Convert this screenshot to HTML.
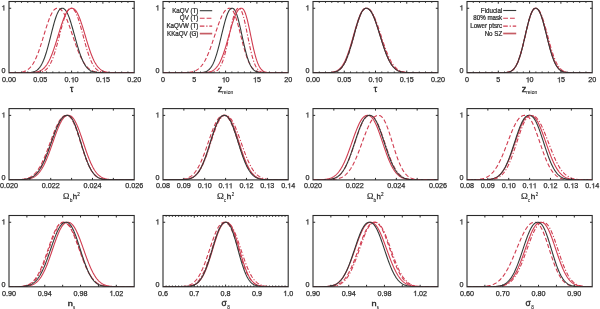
<!DOCTYPE html>
<html><head><meta charset="utf-8"><style>
html,body{margin:0;padding:0;background:#fff;}
svg{display:block;}
.t{filter:grayscale(1);}
text{font-family:"Liberation Sans",sans-serif;fill:#2b2b2b;stroke:#2b2b2b;stroke-width:0.25px;}
</style></head><body>
<svg xmlns="http://www.w3.org/2000/svg" width="600" height="309" viewBox="0 0 600 309">
<rect width="600" height="309" fill="#fff"/>
<clipPath id="c00"><rect x="9" y="1.5" width="125.2" height="71.3"/></clipPath>
<g clip-path="url(#c00)" fill="none" stroke-linejoin="round">
<path d="M9,72.79 L9.5,72.79 L10,72.79 L10.5,72.78 L11,72.78 L11.5,72.78 L12,72.77 L12.51,72.76 L13.01,72.76 L13.51,72.75 L14.01,72.74 L14.51,72.73 L15.01,72.71 L15.51,72.7 L16.01,72.68 L16.51,72.66 L17.01,72.63 L17.51,72.6 L18.01,72.57 L18.52,72.53 L19.02,72.48 L19.52,72.43 L20.02,72.37 L20.52,72.31 L21.02,72.23 L21.52,72.14 L22.02,72.04 L22.52,71.93 L23.02,71.81 L23.52,71.67 L24.02,71.51 L24.52,71.33 L25.03,71.14 L25.53,70.92 L26.03,70.68 L26.53,70.41 L27.03,70.12 L27.53,69.8 L28.03,69.44 L28.53,69.05 L29.03,68.63 L29.53,68.17 L30.03,67.67 L30.53,67.13 L31.04,66.54 L31.54,65.91 L32.04,65.23 L32.54,64.51 L33.04,63.73 L33.54,62.9 L34.04,62.02 L34.54,61.09 L35.04,60.11 L35.54,59.07 L36.04,57.97 L36.54,56.83 L37.04,55.63 L37.55,54.38 L38.05,53.08 L38.55,51.73 L39.05,50.34 L39.55,48.9 L40.05,47.43 L40.55,45.91 L41.05,44.37 L41.55,42.79 L42.05,41.19 L42.55,39.58 L43.05,37.95 L43.56,36.3 L44.06,34.66 L44.56,33.02 L45.06,31.39 L45.56,29.77 L46.06,28.17 L46.56,26.6 L47.06,25.07 L47.56,23.57 L48.06,22.11 L48.56,20.71 L49.06,19.37 L49.56,18.08 L50.07,16.86 L50.57,15.71 L51.07,14.64 L51.57,13.65 L52.07,12.73 L52.57,11.9 L53.07,11.16 L53.57,10.5 L54.07,9.93 L54.57,9.45 L55.07,9.06 L55.57,8.75 L56.08,8.52 L56.58,8.37 L57.08,8.29 L57.58,8.28 L58.08,8.3 L58.58,8.38 L59.08,8.52 L59.58,8.72 L60.08,9 L60.58,9.34 L61.08,9.75 L61.58,10.23 L62.08,10.79 L62.59,11.41 L63.09,12.11 L63.59,12.88 L64.09,13.72 L64.59,14.62 L65.09,15.59 L65.59,16.62 L66.09,17.71 L66.59,18.85 L67.09,20.05 L67.59,21.29 L68.09,22.58 L68.6,23.91 L69.1,25.28 L69.6,26.67 L70.1,28.09 L70.6,29.54 L71.1,31 L71.6,32.48 L72.1,33.96 L72.6,35.45 L73.1,36.94 L73.6,38.43 L74.1,39.9 L74.6,41.37 L75.11,42.81 L75.61,44.24 L76.11,45.64 L76.61,47.02 L77.11,48.37 L77.61,49.69 L78.11,50.97 L78.61,52.22 L79.11,53.42 L79.61,54.59 L80.11,55.72 L80.61,56.8 L81.12,57.85 L81.62,58.84 L82.12,59.8 L82.62,60.71 L83.12,61.58 L83.62,62.4 L84.12,63.18 L84.62,63.91 L85.12,64.61 L85.62,65.26 L86.12,65.88 L86.62,66.45 L87.12,66.99 L87.63,67.49 L88.13,67.96 L88.63,68.4 L89.13,68.8 L89.63,69.17 L90.13,69.52 L90.63,69.83 L91.13,70.12 L91.63,70.39 L92.13,70.64 L92.63,70.86 L93.13,71.06 L93.64,71.25 L94.14,71.42 L94.64,71.57 L95.14,71.71 L95.64,71.83 L96.14,71.94 L96.64,72.04 L97.14,72.13 L97.64,72.21 L98.14,72.28 L98.64,72.35 L99.14,72.4 L99.64,72.45 L100.15,72.5 L100.65,72.54 L101.15,72.57 L101.65,72.6 L102.15,72.63 L102.65,72.65 L103.15,72.67 L103.65,72.69 L104.15,72.71 L104.65,72.72 L105.15,72.73 L105.65,72.74 L106.16,72.75 L106.66,72.76 L107.16,72.76 L107.66,72.77 L108.16,72.77 L108.66,72.78 L109.16,72.78 L109.66,72.78 L110.16,72.79 L110.66,72.79 L111.16,72.79 L111.66,72.79 L112.16,72.79 L112.67,72.79 L113.17,72.8 L113.67,72.8 L114.17,72.8 L114.67,72.8 L115.17,72.8 L115.67,72.8 L116.17,72.8 L116.67,72.8 L117.17,72.8 L117.67,72.8 L118.17,72.8 L118.68,72.8 L119.18,72.8 L119.68,72.8 L120.18,72.8 L120.68,72.8 L121.18,72.8 L121.68,72.8 L122.18,72.8 L122.68,72.8 L123.18,72.8 L123.68,72.8 L124.18,72.8 L124.68,72.8 L125.19,72.8 L125.69,72.8 L126.19,72.8 L126.69,72.8 L127.19,72.8 L127.69,72.8 L128.19,72.8 L128.69,72.8 L129.19,72.8 L129.69,72.8 L130.19,72.8 L130.69,72.8 L131.2,72.8 L131.7,72.8 L132.2,72.8 L132.7,72.8 L133.2,72.8 L133.7,72.8 L134.2,72.8" stroke="#d03c50" stroke-width="1.10" stroke-dasharray="4.2,2.3"/>
<path d="M9,72.8 L9.5,72.8 L10,72.8 L10.5,72.8 L11,72.8 L11.5,72.8 L12,72.8 L12.51,72.8 L13.01,72.8 L13.51,72.8 L14.01,72.8 L14.51,72.8 L15.01,72.8 L15.51,72.8 L16.01,72.8 L16.51,72.8 L17.01,72.8 L17.51,72.8 L18.01,72.8 L18.52,72.8 L19.02,72.8 L19.52,72.8 L20.02,72.8 L20.52,72.8 L21.02,72.79 L21.52,72.79 L22.02,72.79 L22.52,72.79 L23.02,72.79 L23.52,72.78 L24.02,72.78 L24.52,72.77 L25.03,72.76 L25.53,72.76 L26.03,72.74 L26.53,72.73 L27.03,72.72 L27.53,72.7 L28.03,72.67 L28.53,72.64 L29.03,72.61 L29.53,72.57 L30.03,72.52 L30.53,72.47 L31.04,72.4 L31.54,72.32 L32.04,72.23 L32.54,72.12 L33.04,72 L33.54,71.86 L34.04,71.69 L34.54,71.51 L35.04,71.29 L35.54,71.04 L36.04,70.76 L36.54,70.45 L37.04,70.09 L37.55,69.7 L38.05,69.25 L38.55,68.75 L39.05,68.2 L39.55,67.6 L40.05,66.93 L40.55,66.19 L41.05,65.39 L41.55,64.52 L42.05,63.57 L42.55,62.55 L43.05,61.45 L43.56,60.28 L44.06,59.02 L44.56,57.69 L45.06,56.28 L45.56,54.79 L46.06,53.23 L46.56,51.6 L47.06,49.9 L47.56,48.14 L48.06,46.33 L48.56,44.46 L49.06,42.55 L49.56,40.61 L50.07,38.64 L50.57,36.66 L51.07,34.67 L51.57,32.68 L52.07,30.71 L52.57,28.76 L53.07,26.85 L53.57,24.99 L54.07,23.18 L54.57,21.44 L55.07,19.78 L55.57,18.21 L56.08,16.74 L56.58,15.37 L57.08,14.11 L57.58,12.96 L58.08,11.94 L58.58,11.05 L59.08,10.28 L59.58,9.64 L60.08,9.13 L60.58,8.74 L61.08,8.48 L61.58,8.33 L62.08,8.28 L62.59,8.3 L63.09,8.39 L63.59,8.57 L64.09,8.86 L64.59,9.24 L65.09,9.73 L65.59,10.33 L66.09,11.03 L66.59,11.84 L67.09,12.76 L67.59,13.77 L68.09,14.89 L68.6,16.1 L69.1,17.4 L69.6,18.79 L70.1,20.25 L70.6,21.79 L71.1,23.38 L71.6,25.04 L72.1,26.74 L72.6,28.48 L73.1,30.25 L73.6,32.05 L74.1,33.86 L74.6,35.68 L75.11,37.49 L75.61,39.3 L76.11,41.09 L76.61,42.86 L77.11,44.6 L77.61,46.3 L78.11,47.96 L78.61,49.58 L79.11,51.14 L79.61,52.65 L80.11,54.1 L80.61,55.5 L81.12,56.82 L81.62,58.09 L82.12,59.29 L82.62,60.42 L83.12,61.49 L83.62,62.49 L84.12,63.43 L84.62,64.31 L85.12,65.12 L85.62,65.88 L86.12,66.58 L86.62,67.22 L87.12,67.81 L87.63,68.35 L88.13,68.84 L88.63,69.29 L89.13,69.69 L89.63,70.06 L90.13,70.39 L90.63,70.68 L91.13,70.95 L91.63,71.18 L92.13,71.39 L92.63,71.58 L93.13,71.75 L93.64,71.89 L94.14,72.02 L94.64,72.13 L95.14,72.23 L95.64,72.31 L96.14,72.38 L96.64,72.45 L97.14,72.5 L97.64,72.55 L98.14,72.59 L98.64,72.62 L99.14,72.65 L99.64,72.68 L100.15,72.7 L100.65,72.72 L101.15,72.73 L101.65,72.74 L102.15,72.75 L102.65,72.76 L103.15,72.77 L103.65,72.77 L104.15,72.78 L104.65,72.78 L105.15,72.79 L105.65,72.79 L106.16,72.79 L106.66,72.79 L107.16,72.79 L107.66,72.8 L108.16,72.8 L108.66,72.8 L109.16,72.8 L109.66,72.8 L110.16,72.8 L110.66,72.8 L111.16,72.8 L111.66,72.8 L112.16,72.8 L112.67,72.8 L113.17,72.8 L113.67,72.8 L114.17,72.8 L114.67,72.8 L115.17,72.8 L115.67,72.8 L116.17,72.8 L116.67,72.8 L117.17,72.8 L117.67,72.8 L118.17,72.8 L118.68,72.8 L119.18,72.8 L119.68,72.8 L120.18,72.8 L120.68,72.8 L121.18,72.8 L121.68,72.8 L122.18,72.8 L122.68,72.8 L123.18,72.8 L123.68,72.8 L124.18,72.8 L124.68,72.8 L125.19,72.8 L125.69,72.8 L126.19,72.8 L126.69,72.8 L127.19,72.8 L127.69,72.8 L128.19,72.8 L128.69,72.8 L129.19,72.8 L129.69,72.8 L130.19,72.8 L130.69,72.8 L131.2,72.8 L131.7,72.8 L132.2,72.8 L132.7,72.8 L133.2,72.8 L133.7,72.8 L134.2,72.8" stroke="#353a38" stroke-width="1.10"/>
<path d="M9,72.8 L9.5,72.8 L10,72.8 L10.5,72.8 L11,72.8 L11.5,72.8 L12,72.8 L12.51,72.8 L13.01,72.8 L13.51,72.8 L14.01,72.8 L14.51,72.8 L15.01,72.8 L15.51,72.8 L16.01,72.8 L16.51,72.8 L17.01,72.8 L17.51,72.8 L18.01,72.8 L18.52,72.8 L19.02,72.8 L19.52,72.8 L20.02,72.8 L20.52,72.8 L21.02,72.8 L21.52,72.8 L22.02,72.8 L22.52,72.8 L23.02,72.8 L23.52,72.8 L24.02,72.8 L24.52,72.8 L25.03,72.8 L25.53,72.8 L26.03,72.8 L26.53,72.8 L27.03,72.8 L27.53,72.8 L28.03,72.8 L28.53,72.8 L29.03,72.79 L29.53,72.79 L30.03,72.79 L30.53,72.79 L31.04,72.78 L31.54,72.78 L32.04,72.78 L32.54,72.77 L33.04,72.76 L33.54,72.75 L34.04,72.74 L34.54,72.73 L35.04,72.71 L35.54,72.69 L36.04,72.67 L36.54,72.64 L37.04,72.61 L37.55,72.57 L38.05,72.53 L38.55,72.47 L39.05,72.41 L39.55,72.34 L40.05,72.25 L40.55,72.15 L41.05,72.03 L41.55,71.9 L42.05,71.74 L42.55,71.57 L43.05,71.37 L43.56,71.14 L44.06,70.88 L44.56,70.59 L45.06,70.26 L45.56,69.89 L46.06,69.48 L46.56,69.02 L47.06,68.52 L47.56,67.96 L48.06,67.34 L48.56,66.67 L49.06,65.93 L49.56,65.13 L50.07,64.26 L50.57,63.32 L51.07,62.31 L51.57,61.23 L52.07,60.07 L52.57,58.83 L53.07,57.53 L53.57,56.15 L54.07,54.69 L54.57,53.17 L55.07,51.58 L55.57,49.93 L56.08,48.22 L56.58,46.46 L57.08,44.64 L57.58,42.79 L58.08,40.91 L58.58,38.99 L59.08,37.07 L59.58,35.13 L60.08,33.19 L60.58,31.27 L61.08,29.37 L61.58,27.5 L62.08,25.66 L62.59,23.88 L63.09,22.17 L63.59,20.52 L64.09,18.95 L64.59,17.46 L65.09,16.08 L65.59,14.79 L66.09,13.61 L66.59,12.55 L67.09,11.6 L67.59,10.77 L68.09,10.07 L68.6,9.48 L69.1,9.02 L69.6,8.67 L70.1,8.44 L70.6,8.31 L71.1,8.28 L71.6,8.31 L72.1,8.42 L72.6,8.64 L73.1,8.96 L73.6,9.39 L74.1,9.94 L74.6,10.6 L75.11,11.37 L75.61,12.27 L76.11,13.27 L76.61,14.38 L77.11,15.59 L77.61,16.91 L78.11,18.31 L78.61,19.8 L79.11,21.37 L79.61,23.01 L80.11,24.72 L80.61,26.47 L81.12,28.27 L81.62,30.11 L82.12,31.97 L82.62,33.84 L83.12,35.73 L83.62,37.61 L84.12,39.48 L84.62,41.34 L85.12,43.17 L85.62,44.96 L86.12,46.72 L86.62,48.43 L87.12,50.09 L87.63,51.69 L88.13,53.23 L88.63,54.71 L89.13,56.12 L89.63,57.47 L90.13,58.75 L90.63,59.95 L91.13,61.09 L91.63,62.15 L92.13,63.15 L92.63,64.07 L93.13,64.93 L93.64,65.73 L94.14,66.46 L94.64,67.14 L95.14,67.76 L95.64,68.32 L96.14,68.83 L96.64,69.29 L97.14,69.71 L97.64,70.09 L98.14,70.43 L98.64,70.73 L99.14,71 L99.64,71.24 L100.15,71.45 L100.65,71.63 L101.15,71.8 L101.65,71.94 L102.15,72.07 L102.65,72.18 L103.15,72.27 L103.65,72.35 L104.15,72.42 L104.65,72.48 L105.15,72.53 L105.65,72.58 L106.16,72.61 L106.66,72.65 L107.16,72.67 L107.66,72.69 L108.16,72.71 L108.66,72.73 L109.16,72.74 L109.66,72.75 L110.16,72.76 L110.66,72.77 L111.16,72.77 L111.66,72.78 L112.16,72.78 L112.67,72.79 L113.17,72.79 L113.67,72.79 L114.17,72.79 L114.67,72.79 L115.17,72.8 L115.67,72.8 L116.17,72.8 L116.67,72.8 L117.17,72.8 L117.67,72.8 L118.17,72.8 L118.68,72.8 L119.18,72.8 L119.68,72.8 L120.18,72.8 L120.68,72.8 L121.18,72.8 L121.68,72.8 L122.18,72.8 L122.68,72.8 L123.18,72.8 L123.68,72.8 L124.18,72.8 L124.68,72.8 L125.19,72.8 L125.69,72.8 L126.19,72.8 L126.69,72.8 L127.19,72.8 L127.69,72.8 L128.19,72.8 L128.69,72.8 L129.19,72.8 L129.69,72.8 L130.19,72.8 L130.69,72.8 L131.2,72.8 L131.7,72.8 L132.2,72.8 L132.7,72.8 L133.2,72.8 L133.7,72.8 L134.2,72.8" stroke="#d03c50" stroke-width="1.10" stroke-dasharray="4.2,1.8,1.2,1.8"/>
<path d="M9,72.8 L9.5,72.8 L10,72.8 L10.5,72.8 L11,72.8 L11.5,72.8 L12,72.8 L12.51,72.8 L13.01,72.8 L13.51,72.8 L14.01,72.8 L14.51,72.8 L15.01,72.8 L15.51,72.8 L16.01,72.8 L16.51,72.8 L17.01,72.8 L17.51,72.8 L18.01,72.8 L18.52,72.8 L19.02,72.8 L19.52,72.8 L20.02,72.8 L20.52,72.8 L21.02,72.8 L21.52,72.8 L22.02,72.79 L22.52,72.79 L23.02,72.79 L23.52,72.79 L24.02,72.79 L24.52,72.79 L25.03,72.78 L25.53,72.78 L26.03,72.77 L26.53,72.77 L27.03,72.76 L27.53,72.75 L28.03,72.75 L28.53,72.73 L29.03,72.72 L29.53,72.71 L30.03,72.69 L30.53,72.67 L31.04,72.65 L31.54,72.62 L32.04,72.59 L32.54,72.55 L33.04,72.51 L33.54,72.47 L34.04,72.41 L34.54,72.35 L35.04,72.28 L35.54,72.2 L36.04,72.11 L36.54,72.01 L37.04,71.89 L37.55,71.76 L38.05,71.62 L38.55,71.45 L39.05,71.27 L39.55,71.07 L40.05,70.84 L40.55,70.59 L41.05,70.32 L41.55,70.01 L42.05,69.68 L42.55,69.31 L43.05,68.91 L43.56,68.48 L44.06,68 L44.56,67.49 L45.06,66.93 L45.56,66.33 L46.06,65.68 L46.56,64.99 L47.06,64.24 L47.56,63.45 L48.06,62.6 L48.56,61.71 L49.06,60.76 L49.56,59.75 L50.07,58.69 L50.57,57.58 L51.07,56.42 L51.57,55.2 L52.07,53.94 L52.57,52.62 L53.07,51.26 L53.57,49.85 L54.07,48.4 L54.57,46.91 L55.07,45.38 L55.57,43.83 L56.08,42.24 L56.58,40.64 L57.08,39.01 L57.58,37.38 L58.08,35.74 L58.58,34.09 L59.08,32.45 L59.58,30.83 L60.08,29.21 L60.58,27.63 L61.08,26.07 L61.58,24.54 L62.08,23.06 L62.59,21.62 L63.09,20.24 L63.59,18.91 L64.09,17.65 L64.59,16.46 L65.09,15.34 L65.59,14.29 L66.09,13.32 L66.59,12.44 L67.09,11.64 L67.59,10.92 L68.09,10.29 L68.6,9.76 L69.1,9.3 L69.6,8.94 L70.1,8.66 L70.6,8.46 L71.1,8.33 L71.6,8.28 L72.1,8.28 L72.6,8.34 L73.1,8.47 L73.6,8.68 L74.1,8.98 L74.6,9.36 L75.11,9.84 L75.61,10.41 L76.11,11.08 L76.61,11.83 L77.11,12.68 L77.61,13.61 L78.11,14.63 L78.61,15.73 L79.11,16.91 L79.61,18.17 L80.11,19.49 L80.61,20.88 L81.12,22.33 L81.62,23.82 L82.12,25.37 L82.62,26.96 L83.12,28.57 L83.62,30.22 L84.12,31.89 L84.62,33.57 L85.12,35.25 L85.62,36.94 L86.12,38.62 L86.62,40.29 L87.12,41.94 L87.63,43.57 L88.13,45.17 L88.63,46.74 L89.13,48.28 L89.63,49.77 L90.13,51.21 L90.63,52.62 L91.13,53.97 L91.63,55.27 L92.13,56.51 L92.63,57.7 L93.13,58.84 L93.64,59.91 L94.14,60.94 L94.64,61.9 L95.14,62.81 L95.64,63.66 L96.14,64.46 L96.64,65.21 L97.14,65.91 L97.64,66.56 L98.14,67.16 L98.64,67.71 L99.14,68.22 L99.64,68.69 L100.15,69.12 L100.65,69.51 L101.15,69.87 L101.65,70.19 L102.15,70.49 L102.65,70.75 L103.15,70.99 L103.65,71.21 L104.15,71.4 L104.65,71.57 L105.15,71.73 L105.65,71.87 L106.16,71.99 L106.66,72.09 L107.16,72.19 L107.66,72.27 L108.16,72.35 L108.66,72.41 L109.16,72.47 L109.66,72.51 L110.16,72.56 L110.66,72.59 L111.16,72.62 L111.66,72.65 L112.16,72.67 L112.67,72.69 L113.17,72.71 L113.67,72.73 L114.17,72.74 L114.67,72.75 L115.17,72.76 L115.67,72.76 L116.17,72.77 L116.67,72.78 L117.17,72.78 L117.67,72.78 L118.17,72.79 L118.68,72.79 L119.18,72.79 L119.68,72.79 L120.18,72.79 L120.68,72.8 L121.18,72.8 L121.68,72.8 L122.18,72.8 L122.68,72.8 L123.18,72.8 L123.68,72.8 L124.18,72.8 L124.68,72.8 L125.19,72.8 L125.69,72.8 L126.19,72.8 L126.69,72.8 L127.19,72.8 L127.69,72.8 L128.19,72.8 L128.69,72.8 L129.19,72.8 L129.69,72.8 L130.19,72.8 L130.69,72.8 L131.2,72.8 L131.7,72.8 L132.2,72.8 L132.7,72.8 L133.2,72.8 L133.7,72.8 L134.2,72.8" stroke="#d03c50" stroke-width="1.10"/>
</g>
<path d="M15.26,72.8v-1.3 M15.26,1.5v1.3 M21.52,72.8v-1.3 M21.52,1.5v1.3 M27.78,72.8v-1.3 M27.78,1.5v1.3 M34.04,72.8v-1.3 M34.04,1.5v1.3 M40.3,72.8v-2.2 M40.3,1.5v2.2 M46.56,72.8v-1.3 M46.56,1.5v1.3 M52.82,72.8v-1.3 M52.82,1.5v1.3 M59.08,72.8v-1.3 M59.08,1.5v1.3 M65.34,72.8v-1.3 M65.34,1.5v1.3 M71.6,72.8v-2.2 M71.6,1.5v2.2 M77.86,72.8v-1.3 M77.86,1.5v1.3 M84.12,72.8v-1.3 M84.12,1.5v1.3 M90.38,72.8v-1.3 M90.38,1.5v1.3 M96.64,72.8v-1.3 M96.64,1.5v1.3 M102.9,72.8v-2.2 M102.9,1.5v2.2 M109.16,72.8v-1.3 M109.16,1.5v1.3 M115.42,72.8v-1.3 M115.42,1.5v1.3 M121.68,72.8v-1.3 M121.68,1.5v1.3 M127.94,72.8v-1.3 M127.94,1.5v1.3 M9,8.28h2.2 M134.2,8.28h-2.2" stroke="#2a2a2a" stroke-width="1" fill="none"/>
<rect x="9" y="1.5" width="125.2" height="71.3" fill="none" stroke="#2a2a2a" stroke-width="1.1"/>
<clipPath id="c01"><rect x="163" y="1.5" width="125.2" height="71.3"/></clipPath>
<g clip-path="url(#c01)" fill="none" stroke-linejoin="round">
<path d="M163,72.8 L163.5,72.8 L164,72.8 L164.5,72.8 L165,72.8 L165.5,72.8 L166,72.8 L166.51,72.8 L167.01,72.8 L167.51,72.8 L168.01,72.8 L168.51,72.8 L169.01,72.8 L169.51,72.8 L170.01,72.8 L170.51,72.8 L171.01,72.8 L171.51,72.8 L172.01,72.8 L172.52,72.8 L173.02,72.8 L173.52,72.8 L174.02,72.8 L174.52,72.8 L175.02,72.8 L175.52,72.79 L176.02,72.79 L176.52,72.79 L177.02,72.79 L177.52,72.79 L178.02,72.79 L178.52,72.78 L179.03,72.78 L179.53,72.78 L180.03,72.77 L180.53,72.77 L181.03,72.76 L181.53,72.76 L182.03,72.75 L182.53,72.74 L183.03,72.73 L183.53,72.71 L184.03,72.7 L184.53,72.68 L185.04,72.66 L185.54,72.64 L186.04,72.62 L186.54,72.59 L187.04,72.55 L187.54,72.52 L188.04,72.47 L188.54,72.42 L189.04,72.37 L189.54,72.3 L190.04,72.23 L190.54,72.15 L191.04,72.07 L191.55,71.97 L192.05,71.85 L192.55,71.73 L193.05,71.59 L193.55,71.44 L194.05,71.27 L194.55,71.08 L195.05,70.88 L195.55,70.65 L196.05,70.4 L196.55,70.13 L197.05,69.83 L197.56,69.51 L198.06,69.16 L198.56,68.77 L199.06,68.36 L199.56,67.91 L200.06,67.43 L200.56,66.91 L201.06,66.36 L201.56,65.76 L202.06,65.13 L202.56,64.45 L203.06,63.73 L203.56,62.97 L204.07,62.16 L204.57,61.31 L205.07,60.41 L205.57,59.46 L206.07,58.47 L206.57,57.44 L207.07,56.35 L207.57,55.23 L208.07,54.06 L208.57,52.84 L209.07,51.59 L209.57,50.3 L210.08,48.97 L210.58,47.61 L211.08,46.21 L211.58,44.79 L212.08,43.34 L212.58,41.87 L213.08,40.38 L213.58,38.88 L214.08,37.36 L214.58,35.84 L215.08,34.32 L215.58,32.8 L216.08,31.29 L216.59,29.8 L217.09,28.32 L217.59,26.86 L218.09,25.43 L218.59,24.04 L219.09,22.68 L219.59,21.36 L220.09,20.09 L220.59,18.86 L221.09,17.7 L221.59,16.59 L222.09,15.54 L222.6,14.55 L223.1,13.64 L223.6,12.79 L224.1,12.01 L224.6,11.31 L225.1,10.68 L225.6,10.13 L226.1,9.65 L226.6,9.25 L227.1,8.92 L227.6,8.66 L228.1,8.47 L228.6,8.35 L229.11,8.29 L229.61,8.28 L230.11,8.33 L230.61,8.49 L231.11,8.76 L231.61,9.16 L232.11,9.68 L232.61,10.33 L233.11,11.11 L233.61,12.02 L234.11,13.06 L234.61,14.21 L235.12,15.49 L235.62,16.88 L236.12,18.37 L236.62,19.96 L237.12,21.64 L237.62,23.39 L238.12,25.21 L238.62,27.09 L239.12,29.02 L239.62,30.98 L240.12,32.96 L240.62,34.96 L241.12,36.96 L241.63,38.95 L242.13,40.92 L242.63,42.87 L243.13,44.78 L243.63,46.64 L244.13,48.46 L244.63,50.22 L245.13,51.91 L245.63,53.54 L246.13,55.09 L246.63,56.57 L247.13,57.97 L247.64,59.29 L248.14,60.54 L248.64,61.7 L249.14,62.79 L249.64,63.79 L250.14,64.73 L250.64,65.59 L251.14,66.38 L251.64,67.1 L252.14,67.75 L252.64,68.35 L253.14,68.89 L253.64,69.37 L254.15,69.81 L254.65,70.2 L255.15,70.54 L255.65,70.85 L256.15,71.12 L256.65,71.36 L257.15,71.56 L257.65,71.75 L258.15,71.9 L258.65,72.04 L259.15,72.16 L259.65,72.26 L260.16,72.35 L260.66,72.42 L261.16,72.49 L261.66,72.54 L262.16,72.59 L262.66,72.62 L263.16,72.65 L263.66,72.68 L264.16,72.7 L264.66,72.72 L265.16,72.74 L265.66,72.75 L266.16,72.76 L266.67,72.77 L267.17,72.77 L267.67,72.78 L268.17,72.78 L268.67,72.79 L269.17,72.79 L269.67,72.79 L270.17,72.79 L270.67,72.8 L271.17,72.8 L271.67,72.8 L272.17,72.8 L272.68,72.8 L273.18,72.8 L273.68,72.8 L274.18,72.8 L274.68,72.8 L275.18,72.8 L275.68,72.8 L276.18,72.8 L276.68,72.8 L277.18,72.8 L277.68,72.8 L278.18,72.8 L278.68,72.8 L279.19,72.8 L279.69,72.8 L280.19,72.8 L280.69,72.8 L281.19,72.8 L281.69,72.8 L282.19,72.8 L282.69,72.8 L283.19,72.8 L283.69,72.8 L284.19,72.8 L284.69,72.8 L285.2,72.8 L285.7,72.8 L286.2,72.8 L286.7,72.8 L287.2,72.8 L287.7,72.8 L288.2,72.8" stroke="#d03c50" stroke-width="1.10" stroke-dasharray="4.2,2.3"/>
<path d="M163,72.8 L163.5,72.8 L164,72.8 L164.5,72.8 L165,72.8 L165.5,72.8 L166,72.8 L166.51,72.8 L167.01,72.8 L167.51,72.8 L168.01,72.8 L168.51,72.8 L169.01,72.8 L169.51,72.8 L170.01,72.8 L170.51,72.8 L171.01,72.8 L171.51,72.8 L172.01,72.8 L172.52,72.8 L173.02,72.8 L173.52,72.8 L174.02,72.8 L174.52,72.8 L175.02,72.8 L175.52,72.8 L176.02,72.8 L176.52,72.8 L177.02,72.8 L177.52,72.8 L178.02,72.8 L178.52,72.8 L179.03,72.8 L179.53,72.8 L180.03,72.8 L180.53,72.8 L181.03,72.8 L181.53,72.8 L182.03,72.8 L182.53,72.8 L183.03,72.8 L183.53,72.8 L184.03,72.8 L184.53,72.8 L185.04,72.8 L185.54,72.8 L186.04,72.8 L186.54,72.8 L187.04,72.8 L187.54,72.8 L188.04,72.8 L188.54,72.8 L189.04,72.8 L189.54,72.8 L190.04,72.8 L190.54,72.8 L191.04,72.8 L191.55,72.8 L192.05,72.8 L192.55,72.8 L193.05,72.79 L193.55,72.79 L194.05,72.79 L194.55,72.79 L195.05,72.79 L195.55,72.78 L196.05,72.78 L196.55,72.77 L197.05,72.76 L197.56,72.75 L198.06,72.74 L198.56,72.73 L199.06,72.71 L199.56,72.69 L200.06,72.66 L200.56,72.63 L201.06,72.59 L201.56,72.54 L202.06,72.48 L202.56,72.42 L203.06,72.34 L203.56,72.24 L204.07,72.13 L204.57,72 L205.07,71.85 L205.57,71.68 L206.07,71.47 L206.57,71.24 L207.07,70.97 L207.57,70.67 L208.07,70.32 L208.57,69.93 L209.07,69.49 L209.57,68.99 L210.08,68.44 L210.58,67.82 L211.08,67.14 L211.58,66.38 L212.08,65.55 L212.58,64.64 L213.08,63.66 L213.58,62.58 L214.08,61.43 L214.58,60.18 L215.08,58.85 L215.58,57.43 L216.08,55.93 L216.59,54.34 L217.09,52.67 L217.59,50.92 L218.09,49.1 L218.59,47.22 L219.09,45.27 L219.59,43.28 L220.09,41.24 L220.59,39.18 L221.09,37.09 L221.59,34.99 L222.09,32.89 L222.6,30.81 L223.1,28.76 L223.6,26.75 L224.1,24.78 L224.6,22.89 L225.1,21.07 L225.6,19.35 L226.1,17.72 L226.6,16.2 L227.1,14.8 L227.6,13.53 L228.1,12.39 L228.6,11.39 L229.11,10.53 L229.61,9.81 L230.11,9.24 L230.61,8.8 L231.11,8.51 L231.61,8.34 L232.11,8.28 L232.61,8.31 L233.11,8.47 L233.61,8.77 L234.11,9.24 L234.61,9.88 L235.12,10.68 L235.62,11.66 L236.12,12.81 L236.62,14.12 L237.12,15.59 L237.62,17.2 L238.12,18.95 L238.62,20.82 L239.12,22.8 L239.62,24.87 L240.12,27.02 L240.62,29.24 L241.12,31.5 L241.63,33.78 L242.13,36.08 L242.63,38.37 L243.13,40.64 L243.63,42.88 L244.13,45.07 L244.63,47.2 L245.13,49.26 L245.63,51.25 L246.13,53.14 L246.63,54.94 L247.13,56.64 L247.64,58.24 L248.14,59.73 L248.64,61.12 L249.14,62.41 L249.64,63.59 L250.14,64.68 L250.64,65.66 L251.14,66.56 L251.64,67.36 L252.14,68.08 L252.64,68.73 L253.14,69.3 L253.64,69.8 L254.15,70.24 L254.65,70.63 L255.15,70.97 L255.65,71.26 L256.15,71.51 L256.65,71.73 L257.15,71.91 L257.65,72.06 L258.15,72.19 L258.65,72.3 L259.15,72.4 L259.65,72.47 L260.16,72.54 L260.66,72.59 L261.16,72.63 L261.66,72.67 L262.16,72.69 L262.66,72.72 L263.16,72.73 L263.66,72.75 L264.16,72.76 L264.66,72.77 L265.16,72.78 L265.66,72.78 L266.16,72.79 L266.67,72.79 L267.17,72.79 L267.67,72.79 L268.17,72.8 L268.67,72.8 L269.17,72.8 L269.67,72.8 L270.17,72.8 L270.67,72.8 L271.17,72.8 L271.67,72.8 L272.17,72.8 L272.68,72.8 L273.18,72.8 L273.68,72.8 L274.18,72.8 L274.68,72.8 L275.18,72.8 L275.68,72.8 L276.18,72.8 L276.68,72.8 L277.18,72.8 L277.68,72.8 L278.18,72.8 L278.68,72.8 L279.19,72.8 L279.69,72.8 L280.19,72.8 L280.69,72.8 L281.19,72.8 L281.69,72.8 L282.19,72.8 L282.69,72.8 L283.19,72.8 L283.69,72.8 L284.19,72.8 L284.69,72.8 L285.2,72.8 L285.7,72.8 L286.2,72.8 L286.7,72.8 L287.2,72.8 L287.7,72.8 L288.2,72.8" stroke="#353a38" stroke-width="1.10"/>
<path d="M163,72.8 L163.5,72.8 L164,72.8 L164.5,72.8 L165,72.8 L165.5,72.8 L166,72.8 L166.51,72.8 L167.01,72.8 L167.51,72.8 L168.01,72.8 L168.51,72.8 L169.01,72.8 L169.51,72.8 L170.01,72.8 L170.51,72.8 L171.01,72.8 L171.51,72.8 L172.01,72.8 L172.52,72.8 L173.02,72.8 L173.52,72.8 L174.02,72.8 L174.52,72.8 L175.02,72.8 L175.52,72.8 L176.02,72.8 L176.52,72.8 L177.02,72.8 L177.52,72.8 L178.02,72.8 L178.52,72.8 L179.03,72.8 L179.53,72.8 L180.03,72.8 L180.53,72.8 L181.03,72.8 L181.53,72.8 L182.03,72.8 L182.53,72.8 L183.03,72.8 L183.53,72.8 L184.03,72.8 L184.53,72.8 L185.04,72.8 L185.54,72.8 L186.04,72.8 L186.54,72.8 L187.04,72.8 L187.54,72.8 L188.04,72.8 L188.54,72.8 L189.04,72.8 L189.54,72.8 L190.04,72.8 L190.54,72.8 L191.04,72.8 L191.55,72.8 L192.05,72.8 L192.55,72.8 L193.05,72.8 L193.55,72.8 L194.05,72.8 L194.55,72.8 L195.05,72.8 L195.55,72.8 L196.05,72.8 L196.55,72.8 L197.05,72.8 L197.56,72.8 L198.06,72.8 L198.56,72.8 L199.06,72.8 L199.56,72.8 L200.06,72.8 L200.56,72.8 L201.06,72.8 L201.56,72.8 L202.06,72.8 L202.56,72.8 L203.06,72.8 L203.56,72.8 L204.07,72.79 L204.57,72.79 L205.07,72.79 L205.57,72.79 L206.07,72.78 L206.57,72.78 L207.07,72.77 L207.57,72.76 L208.07,72.75 L208.57,72.74 L209.07,72.72 L209.57,72.7 L210.08,72.67 L210.58,72.64 L211.08,72.59 L211.58,72.54 L212.08,72.47 L212.58,72.4 L213.08,72.3 L213.58,72.19 L214.08,72.05 L214.58,71.89 L215.08,71.69 L215.58,71.46 L216.08,71.2 L216.59,70.88 L217.09,70.52 L217.59,70.1 L218.09,69.62 L218.59,69.08 L219.09,68.46 L219.59,67.76 L220.09,66.97 L220.59,66.09 L221.09,65.12 L221.59,64.04 L222.09,62.86 L222.6,61.57 L223.1,60.17 L223.6,58.65 L224.1,57.03 L224.6,55.29 L225.1,53.45 L225.6,51.51 L226.1,49.48 L226.6,47.35 L227.1,45.16 L227.6,42.89 L228.1,40.58 L228.6,38.23 L229.11,35.86 L229.61,33.49 L230.11,31.13 L230.61,28.81 L231.11,26.53 L231.61,24.33 L232.11,22.21 L232.61,20.2 L233.11,18.31 L233.61,16.55 L234.11,14.95 L234.61,13.5 L235.12,12.23 L235.62,11.13 L236.12,10.22 L236.62,9.48 L237.12,8.93 L237.62,8.55 L238.12,8.34 L238.62,8.28 L239.12,8.32 L239.62,8.53 L240.12,8.92 L240.62,9.51 L241.12,10.3 L241.63,11.3 L242.13,12.51 L242.63,13.91 L243.13,15.5 L243.63,17.27 L244.13,19.2 L244.63,21.27 L245.13,23.47 L245.63,25.78 L246.13,28.18 L246.63,30.63 L247.13,33.13 L247.64,35.65 L248.14,38.17 L248.64,40.66 L249.14,43.11 L249.64,45.51 L250.14,47.83 L250.64,50.06 L251.14,52.19 L251.64,54.21 L252.14,56.12 L252.64,57.9 L253.14,59.56 L253.64,61.09 L254.15,62.5 L254.65,63.79 L255.15,64.95 L255.65,66 L256.15,66.94 L256.65,67.77 L257.15,68.51 L257.65,69.16 L258.15,69.73 L258.65,70.22 L259.15,70.65 L259.65,71.01 L260.16,71.32 L260.66,71.59 L261.16,71.81 L261.66,71.99 L262.16,72.15 L262.66,72.28 L263.16,72.38 L263.66,72.47 L264.16,72.54 L264.66,72.59 L265.16,72.64 L265.66,72.67 L266.16,72.7 L266.67,72.73 L267.17,72.74 L267.67,72.76 L268.17,72.77 L268.67,72.78 L269.17,72.78 L269.67,72.79 L270.17,72.79 L270.67,72.79 L271.17,72.79 L271.67,72.8 L272.17,72.8 L272.68,72.8 L273.18,72.8 L273.68,72.8 L274.18,72.8 L274.68,72.8 L275.18,72.8 L275.68,72.8 L276.18,72.8 L276.68,72.8 L277.18,72.8 L277.68,72.8 L278.18,72.8 L278.68,72.8 L279.19,72.8 L279.69,72.8 L280.19,72.8 L280.69,72.8 L281.19,72.8 L281.69,72.8 L282.19,72.8 L282.69,72.8 L283.19,72.8 L283.69,72.8 L284.19,72.8 L284.69,72.8 L285.2,72.8 L285.7,72.8 L286.2,72.8 L286.7,72.8 L287.2,72.8 L287.7,72.8 L288.2,72.8" stroke="#d03c50" stroke-width="1.10" stroke-dasharray="4.2,1.8,1.2,1.8"/>
<path d="M163,72.8 L163.5,72.8 L164,72.8 L164.5,72.8 L165,72.8 L165.5,72.8 L166,72.8 L166.51,72.8 L167.01,72.8 L167.51,72.8 L168.01,72.8 L168.51,72.8 L169.01,72.8 L169.51,72.8 L170.01,72.8 L170.51,72.8 L171.01,72.8 L171.51,72.8 L172.01,72.8 L172.52,72.8 L173.02,72.8 L173.52,72.8 L174.02,72.8 L174.52,72.8 L175.02,72.8 L175.52,72.8 L176.02,72.8 L176.52,72.8 L177.02,72.8 L177.52,72.8 L178.02,72.8 L178.52,72.8 L179.03,72.8 L179.53,72.8 L180.03,72.8 L180.53,72.8 L181.03,72.8 L181.53,72.8 L182.03,72.8 L182.53,72.8 L183.03,72.8 L183.53,72.8 L184.03,72.8 L184.53,72.8 L185.04,72.8 L185.54,72.8 L186.04,72.8 L186.54,72.8 L187.04,72.8 L187.54,72.8 L188.04,72.8 L188.54,72.8 L189.04,72.8 L189.54,72.8 L190.04,72.8 L190.54,72.8 L191.04,72.8 L191.55,72.8 L192.05,72.8 L192.55,72.8 L193.05,72.8 L193.55,72.8 L194.05,72.8 L194.55,72.8 L195.05,72.8 L195.55,72.8 L196.05,72.79 L196.55,72.79 L197.05,72.79 L197.56,72.79 L198.06,72.79 L198.56,72.78 L199.06,72.78 L199.56,72.77 L200.06,72.77 L200.56,72.76 L201.06,72.75 L201.56,72.74 L202.06,72.73 L202.56,72.71 L203.06,72.69 L203.56,72.67 L204.07,72.65 L204.57,72.62 L205.07,72.58 L205.57,72.54 L206.07,72.5 L206.57,72.44 L207.07,72.38 L207.57,72.31 L208.07,72.22 L208.57,72.13 L209.07,72.02 L209.57,71.89 L210.08,71.75 L210.58,71.59 L211.08,71.4 L211.58,71.2 L212.08,70.97 L212.58,70.71 L213.08,70.42 L213.58,70.1 L214.08,69.74 L214.58,69.35 L215.08,68.91 L215.58,68.43 L216.08,67.91 L216.59,67.34 L217.09,66.72 L217.59,66.04 L218.09,65.31 L218.59,64.52 L219.09,63.67 L219.59,62.77 L220.09,61.8 L220.59,60.76 L221.09,59.66 L221.59,58.5 L222.09,57.28 L222.6,55.99 L223.1,54.64 L223.6,53.23 L224.1,51.77 L224.6,50.25 L225.1,48.68 L225.6,47.06 L226.1,45.4 L226.6,43.7 L227.1,41.97 L227.6,40.21 L228.1,38.44 L228.6,36.65 L229.11,34.86 L229.61,33.07 L230.11,31.29 L230.61,29.53 L231.11,27.79 L231.61,26.09 L232.11,24.43 L232.61,22.82 L233.11,21.26 L233.61,19.77 L234.11,18.35 L234.61,17.01 L235.12,15.75 L235.62,14.59 L236.12,13.51 L236.62,12.53 L237.12,11.65 L237.62,10.87 L238.12,10.2 L238.62,9.63 L239.12,9.17 L239.62,8.81 L240.12,8.54 L240.62,8.37 L241.12,8.29 L241.63,8.28 L242.13,8.37 L242.63,8.63 L243.13,9.06 L243.63,9.67 L244.13,10.48 L244.63,11.49 L245.13,12.68 L245.63,14.06 L246.13,15.61 L246.63,17.33 L247.13,19.2 L247.64,21.2 L248.14,23.33 L248.64,25.55 L249.14,27.86 L249.64,30.23 L250.14,32.64 L250.64,35.07 L251.14,37.51 L251.64,39.93 L252.14,42.32 L252.64,44.65 L253.14,46.93 L253.64,49.12 L254.15,51.23 L254.65,53.23 L255.15,55.13 L255.65,56.92 L256.15,58.6 L256.65,60.15 L257.15,61.59 L257.65,62.92 L258.15,64.12 L258.65,65.22 L259.15,66.21 L259.65,67.1 L260.16,67.89 L260.66,68.59 L261.16,69.21 L261.66,69.76 L262.16,70.23 L262.66,70.64 L263.16,71 L263.66,71.3 L264.16,71.56 L264.66,71.78 L265.16,71.96 L265.66,72.12 L266.16,72.25 L266.67,72.35 L267.17,72.44 L267.67,72.51 L268.17,72.57 L268.67,72.62 L269.17,72.66 L269.67,72.69 L270.17,72.71 L270.67,72.73 L271.17,72.75 L271.67,72.76 L272.17,72.77 L272.68,72.78 L273.18,72.78 L273.68,72.79 L274.18,72.79 L274.68,72.79 L275.18,72.79 L275.68,72.8 L276.18,72.8 L276.68,72.8 L277.18,72.8 L277.68,72.8 L278.18,72.8 L278.68,72.8 L279.19,72.8 L279.69,72.8 L280.19,72.8 L280.69,72.8 L281.19,72.8 L281.69,72.8 L282.19,72.8 L282.69,72.8 L283.19,72.8 L283.69,72.8 L284.19,72.8 L284.69,72.8 L285.2,72.8 L285.7,72.8 L286.2,72.8 L286.7,72.8 L287.2,72.8 L287.7,72.8 L288.2,72.8" stroke="#d03c50" stroke-width="1.10"/>
</g>
<path d="M169.26,72.8v-1.3 M169.26,1.5v1.3 M175.52,72.8v-1.3 M175.52,1.5v1.3 M181.78,72.8v-1.3 M181.78,1.5v1.3 M188.04,72.8v-1.3 M188.04,1.5v1.3 M194.3,72.8v-2.2 M194.3,1.5v2.2 M200.56,72.8v-1.3 M200.56,1.5v1.3 M206.82,72.8v-1.3 M206.82,1.5v1.3 M213.08,72.8v-1.3 M213.08,1.5v1.3 M219.34,72.8v-1.3 M219.34,1.5v1.3 M225.6,72.8v-2.2 M225.6,1.5v2.2 M231.86,72.8v-1.3 M231.86,1.5v1.3 M238.12,72.8v-1.3 M238.12,1.5v1.3 M244.38,72.8v-1.3 M244.38,1.5v1.3 M250.64,72.8v-1.3 M250.64,1.5v1.3 M256.9,72.8v-2.2 M256.9,1.5v2.2 M263.16,72.8v-1.3 M263.16,1.5v1.3 M269.42,72.8v-1.3 M269.42,1.5v1.3 M275.68,72.8v-1.3 M275.68,1.5v1.3 M281.94,72.8v-1.3 M281.94,1.5v1.3 M163,8.28h2.2 M288.2,8.28h-2.2" stroke="#2a2a2a" stroke-width="1" fill="none"/>
<rect x="163" y="1.5" width="125.2" height="71.3" fill="none" stroke="#2a2a2a" stroke-width="1.1"/>
<clipPath id="c02"><rect x="313" y="1.5" width="125" height="71.3"/></clipPath>
<g clip-path="url(#c02)" fill="none" stroke-linejoin="round">
<path d="M313,72.8 L313.5,72.8 L314,72.8 L314.5,72.8 L315,72.8 L315.5,72.8 L316,72.8 L316.5,72.8 L317,72.8 L317.5,72.8 L318,72.8 L318.5,72.8 L319,72.8 L319.5,72.8 L320,72.79 L320.5,72.79 L321,72.79 L321.5,72.79 L322,72.79 L322.5,72.78 L323,72.78 L323.5,72.78 L324,72.77 L324.5,72.76 L325,72.76 L325.5,72.75 L326,72.73 L326.5,72.72 L327,72.71 L327.5,72.69 L328,72.66 L328.5,72.64 L329,72.61 L329.5,72.57 L330,72.53 L330.5,72.48 L331,72.43 L331.5,72.36 L332,72.29 L332.5,72.2 L333,72.1 L333.5,71.99 L334,71.87 L334.5,71.72 L335,71.56 L335.5,71.38 L336,71.17 L336.5,70.94 L337,70.68 L337.5,70.39 L338,70.07 L338.5,69.72 L339,69.33 L339.5,68.9 L340,68.43 L340.5,67.91 L341,67.35 L341.5,66.73 L342,66.07 L342.5,65.35 L343,64.58 L343.5,63.74 L344,62.85 L344.5,61.9 L345,60.89 L345.5,59.82 L346,58.68 L346.5,57.48 L347,56.22 L347.5,54.9 L348,53.53 L348.5,52.09 L349,50.61 L349.5,49.07 L350,47.48 L350.5,45.86 L351,44.19 L351.5,42.5 L352,40.77 L352.5,39.03 L353,37.27 L353.5,35.5 L354,33.73 L354.5,31.97 L355,30.23 L355.5,28.51 L356,26.81 L356.5,25.16 L357,23.54 L357.5,21.98 L358,20.48 L358.5,19.05 L359,17.69 L359.5,16.4 L360,15.2 L360.5,14.09 L361,13.07 L361.5,12.15 L362,11.32 L362.5,10.6 L363,9.97 L363.5,9.45 L364,9.03 L364.5,8.71 L365,8.48 L365.5,8.34 L366,8.28 L366.5,8.28 L367,8.34 L367.5,8.46 L368,8.66 L368.5,8.94 L369,9.3 L369.5,9.74 L370,10.27 L370.5,10.88 L371,11.58 L371.5,12.37 L372,13.23 L372.5,14.18 L373,15.2 L373.5,16.3 L374,17.47 L374.5,18.7 L375,20 L375.5,21.35 L376,22.76 L376.5,24.21 L377,25.71 L377.5,27.24 L378,28.8 L378.5,30.38 L379,31.98 L379.5,33.6 L380,35.22 L380.5,36.84 L381,38.46 L381.5,40.06 L382,41.65 L382.5,43.22 L383,44.77 L383.5,46.29 L384,47.77 L384.5,49.22 L385,50.63 L385.5,51.99 L386,53.31 L386.5,54.59 L387,55.81 L387.5,56.99 L388,58.11 L388.5,59.18 L389,60.2 L389.5,61.17 L390,62.08 L390.5,62.95 L391,63.76 L391.5,64.53 L392,65.24 L392.5,65.91 L393,66.53 L393.5,67.11 L394,67.65 L394.5,68.14 L395,68.6 L395.5,69.02 L396,69.41 L396.5,69.76 L397,70.08 L397.5,70.38 L398,70.64 L398.5,70.88 L399,71.1 L399.5,71.3 L400,71.48 L400.5,71.63 L401,71.78 L401.5,71.9 L402,72.02 L402.5,72.12 L403,72.21 L403.5,72.28 L404,72.35 L404.5,72.41 L405,72.47 L405.5,72.51 L406,72.55 L406.5,72.59 L407,72.62 L407.5,72.65 L408,72.67 L408.5,72.69 L409,72.71 L409.5,72.72 L410,72.73 L410.5,72.74 L411,72.75 L411.5,72.76 L412,72.77 L412.5,72.77 L413,72.78 L413.5,72.78 L414,72.78 L414.5,72.79 L415,72.79 L415.5,72.79 L416,72.79 L416.5,72.79 L417,72.8 L417.5,72.8 L418,72.8 L418.5,72.8 L419,72.8 L419.5,72.8 L420,72.8 L420.5,72.8 L421,72.8 L421.5,72.8 L422,72.8 L422.5,72.8 L423,72.8 L423.5,72.8 L424,72.8 L424.5,72.8 L425,72.8 L425.5,72.8 L426,72.8 L426.5,72.8 L427,72.8 L427.5,72.8 L428,72.8 L428.5,72.8 L429,72.8 L429.5,72.8 L430,72.8 L430.5,72.8 L431,72.8 L431.5,72.8 L432,72.8 L432.5,72.8 L433,72.8 L433.5,72.8 L434,72.8 L434.5,72.8 L435,72.8 L435.5,72.8 L436,72.8 L436.5,72.8 L437,72.8 L437.5,72.8 L438,72.8" stroke="#d03c50" stroke-width="1.10"/>
<path d="M313,72.8 L313.5,72.8 L314,72.8 L314.5,72.8 L315,72.8 L315.5,72.8 L316,72.8 L316.5,72.8 L317,72.8 L317.5,72.8 L318,72.8 L318.5,72.8 L319,72.8 L319.5,72.8 L320,72.8 L320.5,72.8 L321,72.8 L321.5,72.79 L322,72.79 L322.5,72.79 L323,72.79 L323.5,72.78 L324,72.78 L324.5,72.78 L325,72.77 L325.5,72.77 L326,72.76 L326.5,72.75 L327,72.74 L327.5,72.72 L328,72.71 L328.5,72.69 L329,72.67 L329.5,72.64 L330,72.61 L330.5,72.57 L331,72.53 L331.5,72.48 L332,72.42 L332.5,72.35 L333,72.27 L333.5,72.18 L334,72.08 L334.5,71.96 L335,71.83 L335.5,71.68 L336,71.5 L336.5,71.31 L337,71.09 L337.5,70.84 L338,70.56 L338.5,70.26 L339,69.91 L339.5,69.53 L340,69.11 L340.5,68.65 L341,68.14 L341.5,67.58 L342,66.98 L342.5,66.31 L343,65.6 L343.5,64.82 L344,63.99 L344.5,63.09 L345,62.13 L345.5,61.11 L346,60.02 L346.5,58.86 L347,57.65 L347.5,56.36 L348,55.02 L348.5,53.61 L349,52.14 L349.5,50.62 L350,49.04 L350.5,47.41 L351,45.74 L351.5,44.03 L352,42.29 L352.5,40.52 L353,38.73 L353.5,36.92 L354,35.11 L354.5,33.3 L355,31.5 L355.5,29.72 L356,27.96 L356.5,26.23 L357,24.55 L357.5,22.92 L358,21.34 L358.5,19.83 L359,18.4 L359.5,17.04 L360,15.77 L360.5,14.58 L361,13.5 L361.5,12.51 L362,11.62 L362.5,10.84 L363,10.17 L363.5,9.6 L364,9.14 L364.5,8.78 L365,8.52 L365.5,8.36 L366,8.28 L366.5,8.28 L367,8.32 L367.5,8.43 L368,8.62 L368.5,8.88 L369,9.22 L369.5,9.64 L370,10.15 L370.5,10.74 L371,11.41 L371.5,12.17 L372,13.01 L372.5,13.93 L373,14.93 L373.5,16 L374,17.14 L374.5,18.35 L375,19.62 L375.5,20.95 L376,22.33 L376.5,23.76 L377,25.23 L377.5,26.73 L378,28.27 L378.5,29.84 L379,31.42 L379.5,33.02 L380,34.63 L380.5,36.24 L381,37.84 L381.5,39.44 L382,41.03 L382.5,42.6 L383,44.14 L383.5,45.66 L384,47.15 L384.5,48.6 L385,50.01 L385.5,51.39 L386,52.72 L386.5,54 L387,55.24 L387.5,56.43 L388,57.57 L388.5,58.66 L389,59.7 L389.5,60.69 L390,61.62 L390.5,62.51 L391,63.34 L391.5,64.12 L392,64.86 L392.5,65.55 L393,66.19 L393.5,66.79 L394,67.35 L394.5,67.86 L395,68.34 L395.5,68.77 L396,69.18 L396.5,69.55 L397,69.89 L397.5,70.2 L398,70.48 L398.5,70.73 L399,70.96 L399.5,71.17 L400,71.36 L400.5,71.53 L401,71.68 L401.5,71.82 L402,71.94 L402.5,72.05 L403,72.14 L403.5,72.23 L404,72.3 L404.5,72.37 L405,72.43 L405.5,72.48 L406,72.52 L406.5,72.56 L407,72.6 L407.5,72.63 L408,72.65 L408.5,72.67 L409,72.69 L409.5,72.71 L410,72.72 L410.5,72.74 L411,72.75 L411.5,72.75 L412,72.76 L412.5,72.77 L413,72.77 L413.5,72.78 L414,72.78 L414.5,72.78 L415,72.79 L415.5,72.79 L416,72.79 L416.5,72.79 L417,72.79 L417.5,72.8 L418,72.8 L418.5,72.8 L419,72.8 L419.5,72.8 L420,72.8 L420.5,72.8 L421,72.8 L421.5,72.8 L422,72.8 L422.5,72.8 L423,72.8 L423.5,72.8 L424,72.8 L424.5,72.8 L425,72.8 L425.5,72.8 L426,72.8 L426.5,72.8 L427,72.8 L427.5,72.8 L428,72.8 L428.5,72.8 L429,72.8 L429.5,72.8 L430,72.8 L430.5,72.8 L431,72.8 L431.5,72.8 L432,72.8 L432.5,72.8 L433,72.8 L433.5,72.8 L434,72.8 L434.5,72.8 L435,72.8 L435.5,72.8 L436,72.8 L436.5,72.8 L437,72.8 L437.5,72.8 L438,72.8" stroke="#d03c50" stroke-width="1.10" stroke-dasharray="4.2,2.3"/>
<path d="M313,72.8 L313.5,72.8 L314,72.8 L314.5,72.8 L315,72.8 L315.5,72.8 L316,72.8 L316.5,72.8 L317,72.8 L317.5,72.8 L318,72.8 L318.5,72.8 L319,72.8 L319.5,72.8 L320,72.8 L320.5,72.8 L321,72.8 L321.5,72.79 L322,72.79 L322.5,72.79 L323,72.79 L323.5,72.79 L324,72.78 L324.5,72.78 L325,72.78 L325.5,72.77 L326,72.76 L326.5,72.76 L327,72.75 L327.5,72.73 L328,72.72 L328.5,72.7 L329,72.68 L329.5,72.66 L330,72.63 L330.5,72.6 L331,72.56 L331.5,72.52 L332,72.47 L332.5,72.41 L333,72.33 L333.5,72.25 L334,72.16 L334.5,72.05 L335,71.93 L335.5,71.79 L336,71.63 L336.5,71.45 L337,71.25 L337.5,71.01 L338,70.76 L338.5,70.47 L339,70.15 L339.5,69.79 L340,69.39 L340.5,68.95 L341,68.47 L341.5,67.94 L342,67.35 L342.5,66.72 L343,66.03 L343.5,65.28 L344,64.48 L344.5,63.61 L345,62.68 L345.5,61.68 L346,60.62 L346.5,59.49 L347,58.3 L347.5,57.04 L348,55.71 L348.5,54.32 L349,52.87 L349.5,51.36 L350,49.8 L350.5,48.18 L351,46.52 L351.5,44.81 L352,43.07 L352.5,41.3 L353,39.5 L353.5,37.68 L354,35.86 L354.5,34.03 L355,32.21 L355.5,30.4 L356,28.62 L356.5,26.86 L357,25.15 L357.5,23.49 L358,21.88 L358.5,20.33 L359,18.86 L359.5,17.46 L360,16.15 L360.5,14.93 L361,13.8 L361.5,12.78 L362,11.85 L362.5,11.04 L363,10.33 L363.5,9.73 L364,9.24 L364.5,8.85 L365,8.57 L365.5,8.39 L366,8.29 L366.5,8.28 L367,8.31 L367.5,8.39 L368,8.55 L368.5,8.77 L369,9.06 L369.5,9.43 L370,9.88 L370.5,10.4 L371,11 L371.5,11.68 L372,12.43 L372.5,13.26 L373,14.16 L373.5,15.13 L374,16.16 L374.5,17.26 L375,18.43 L375.5,19.64 L376,20.91 L376.5,22.23 L377,23.6 L377.5,25 L378,26.44 L378.5,27.91 L379,29.4 L379.5,30.91 L380,32.44 L380.5,33.97 L381,35.51 L381.5,37.05 L382,38.59 L382.5,40.11 L383,41.62 L383.5,43.11 L384,44.59 L384.5,46.03 L385,47.45 L385.5,48.83 L386,50.18 L386.5,51.49 L387,52.76 L387.5,53.99 L388,55.18 L388.5,56.32 L389,57.42 L389.5,58.47 L390,59.47 L390.5,60.43 L391,61.34 L391.5,62.2 L392,63.02 L392.5,63.79 L393,64.51 L393.5,65.19 L394,65.83 L394.5,66.43 L395,66.99 L395.5,67.51 L396,67.99 L396.5,68.44 L397,68.85 L397.5,69.23 L398,69.58 L398.5,69.9 L399,70.2 L399.5,70.47 L400,70.71 L400.5,70.94 L401,71.14 L401.5,71.32 L402,71.49 L402.5,71.64 L403,71.77 L403.5,71.9 L404,72 L404.5,72.1 L405,72.19 L405.5,72.26 L406,72.33 L406.5,72.39 L407,72.45 L407.5,72.49 L408,72.53 L408.5,72.57 L409,72.6 L409.5,72.63 L410,72.65 L410.5,72.67 L411,72.69 L411.5,72.71 L412,72.72 L412.5,72.73 L413,72.74 L413.5,72.75 L414,72.76 L414.5,72.77 L415,72.77 L415.5,72.78 L416,72.78 L416.5,72.78 L417,72.79 L417.5,72.79 L418,72.79 L418.5,72.79 L419,72.79 L419.5,72.79 L420,72.8 L420.5,72.8 L421,72.8 L421.5,72.8 L422,72.8 L422.5,72.8 L423,72.8 L423.5,72.8 L424,72.8 L424.5,72.8 L425,72.8 L425.5,72.8 L426,72.8 L426.5,72.8 L427,72.8 L427.5,72.8 L428,72.8 L428.5,72.8 L429,72.8 L429.5,72.8 L430,72.8 L430.5,72.8 L431,72.8 L431.5,72.8 L432,72.8 L432.5,72.8 L433,72.8 L433.5,72.8 L434,72.8 L434.5,72.8 L435,72.8 L435.5,72.8 L436,72.8 L436.5,72.8 L437,72.8 L437.5,72.8 L438,72.8" stroke="#d03c50" stroke-width="1.10" stroke-dasharray="4.2,1.8,1.2,1.8"/>
<path d="M313,72.8 L313.5,72.8 L314,72.8 L314.5,72.8 L315,72.8 L315.5,72.8 L316,72.8 L316.5,72.8 L317,72.8 L317.5,72.8 L318,72.8 L318.5,72.8 L319,72.8 L319.5,72.8 L320,72.8 L320.5,72.8 L321,72.8 L321.5,72.79 L322,72.79 L322.5,72.79 L323,72.79 L323.5,72.79 L324,72.78 L324.5,72.78 L325,72.77 L325.5,72.77 L326,72.76 L326.5,72.75 L327,72.74 L327.5,72.73 L328,72.71 L328.5,72.7 L329,72.68 L329.5,72.65 L330,72.62 L330.5,72.59 L331,72.54 L331.5,72.5 L332,72.44 L332.5,72.38 L333,72.3 L333.5,72.22 L334,72.12 L334.5,72 L335,71.87 L335.5,71.73 L336,71.56 L336.5,71.37 L337,71.15 L337.5,70.91 L338,70.64 L338.5,70.34 L339,70 L339.5,69.63 L340,69.22 L340.5,68.76 L341,68.26 L341.5,67.71 L342,67.11 L342.5,66.45 L343,65.74 L343.5,64.97 L344,64.14 L344.5,63.25 L345,62.29 L345.5,61.27 L346,60.18 L346.5,59.03 L347,57.81 L347.5,56.53 L348,55.18 L348.5,53.77 L349,52.29 L349.5,50.76 L350,49.18 L350.5,47.55 L351,45.87 L351.5,44.15 L352,42.39 L352.5,40.61 L353,38.8 L353.5,36.99 L354,35.16 L354.5,33.34 L355,31.52 L355.5,29.72 L356,27.95 L356.5,26.21 L357,24.52 L357.5,22.88 L358,21.29 L358.5,19.77 L359,18.33 L359.5,16.96 L360,15.69 L360.5,14.5 L361,13.41 L361.5,12.43 L362,11.54 L362.5,10.77 L363,10.1 L363.5,9.54 L364,9.09 L364.5,8.74 L365,8.49 L365.5,8.34 L366,8.28 L366.5,8.28 L367,8.34 L367.5,8.46 L368,8.66 L368.5,8.94 L369,9.3 L369.5,9.75 L370,10.28 L370.5,10.9 L371,11.6 L371.5,12.39 L372,13.26 L372.5,14.22 L373,15.24 L373.5,16.35 L374,17.52 L374.5,18.77 L375,20.07 L375.5,21.43 L376,22.85 L376.5,24.31 L377,25.81 L377.5,27.34 L378,28.91 L378.5,30.5 L379,32.11 L379.5,33.73 L380,35.35 L380.5,36.98 L381,38.6 L381.5,40.21 L382,41.8 L382.5,43.38 L383,44.92 L383.5,46.44 L384,47.93 L384.5,49.38 L385,50.78 L385.5,52.15 L386,53.47 L386.5,54.74 L387,55.96 L387.5,57.13 L388,58.25 L388.5,59.32 L389,60.34 L389.5,61.3 L390,62.21 L390.5,63.07 L391,63.88 L391.5,64.64 L392,65.35 L392.5,66.01 L393,66.63 L393.5,67.2 L394,67.73 L394.5,68.22 L395,68.68 L395.5,69.09 L396,69.47 L396.5,69.82 L397,70.14 L397.5,70.43 L398,70.69 L398.5,70.93 L399,71.14 L399.5,71.34 L400,71.51 L400.5,71.67 L401,71.8 L401.5,71.93 L402,72.04 L402.5,72.14 L403,72.22 L403.5,72.3 L404,72.37 L404.5,72.43 L405,72.48 L405.5,72.52 L406,72.56 L406.5,72.6 L407,72.63 L407.5,72.65 L408,72.67 L408.5,72.69 L409,72.71 L409.5,72.72 L410,72.74 L410.5,72.75 L411,72.76 L411.5,72.76 L412,72.77 L412.5,72.77 L413,72.78 L413.5,72.78 L414,72.79 L414.5,72.79 L415,72.79 L415.5,72.79 L416,72.79 L416.5,72.79 L417,72.8 L417.5,72.8 L418,72.8 L418.5,72.8 L419,72.8 L419.5,72.8 L420,72.8 L420.5,72.8 L421,72.8 L421.5,72.8 L422,72.8 L422.5,72.8 L423,72.8 L423.5,72.8 L424,72.8 L424.5,72.8 L425,72.8 L425.5,72.8 L426,72.8 L426.5,72.8 L427,72.8 L427.5,72.8 L428,72.8 L428.5,72.8 L429,72.8 L429.5,72.8 L430,72.8 L430.5,72.8 L431,72.8 L431.5,72.8 L432,72.8 L432.5,72.8 L433,72.8 L433.5,72.8 L434,72.8 L434.5,72.8 L435,72.8 L435.5,72.8 L436,72.8 L436.5,72.8 L437,72.8 L437.5,72.8 L438,72.8" stroke="#353a38" stroke-width="1.10"/>
</g>
<path d="M319.25,72.8v-1.3 M319.25,1.5v1.3 M325.5,72.8v-1.3 M325.5,1.5v1.3 M331.75,72.8v-1.3 M331.75,1.5v1.3 M338,72.8v-1.3 M338,1.5v1.3 M344.25,72.8v-2.2 M344.25,1.5v2.2 M350.5,72.8v-1.3 M350.5,1.5v1.3 M356.75,72.8v-1.3 M356.75,1.5v1.3 M363,72.8v-1.3 M363,1.5v1.3 M369.25,72.8v-1.3 M369.25,1.5v1.3 M375.5,72.8v-2.2 M375.5,1.5v2.2 M381.75,72.8v-1.3 M381.75,1.5v1.3 M388,72.8v-1.3 M388,1.5v1.3 M394.25,72.8v-1.3 M394.25,1.5v1.3 M400.5,72.8v-1.3 M400.5,1.5v1.3 M406.75,72.8v-2.2 M406.75,1.5v2.2 M413,72.8v-1.3 M413,1.5v1.3 M419.25,72.8v-1.3 M419.25,1.5v1.3 M425.5,72.8v-1.3 M425.5,1.5v1.3 M431.75,72.8v-1.3 M431.75,1.5v1.3 M313,8.28h2.2 M438,8.28h-2.2" stroke="#2a2a2a" stroke-width="1" fill="none"/>
<rect x="313" y="1.5" width="125" height="71.3" fill="none" stroke="#2a2a2a" stroke-width="1.1"/>
<clipPath id="c03"><rect x="467" y="1.5" width="125.2" height="71.3"/></clipPath>
<g clip-path="url(#c03)" fill="none" stroke-linejoin="round">
<path d="M467,72.8 L467.5,72.8 L468,72.8 L468.5,72.8 L469,72.8 L469.5,72.8 L470,72.8 L470.51,72.8 L471.01,72.8 L471.51,72.8 L472.01,72.8 L472.51,72.8 L473.01,72.8 L473.51,72.8 L474.01,72.8 L474.51,72.8 L475.01,72.8 L475.51,72.8 L476.01,72.8 L476.52,72.8 L477.02,72.8 L477.52,72.8 L478.02,72.8 L478.52,72.8 L479.02,72.8 L479.52,72.8 L480.02,72.8 L480.52,72.8 L481.02,72.8 L481.52,72.8 L482.02,72.8 L482.52,72.8 L483.03,72.8 L483.53,72.8 L484.03,72.8 L484.53,72.8 L485.03,72.8 L485.53,72.8 L486.03,72.8 L486.53,72.8 L487.03,72.8 L487.53,72.8 L488.03,72.8 L488.53,72.8 L489.04,72.8 L489.54,72.8 L490.04,72.8 L490.54,72.8 L491.04,72.8 L491.54,72.8 L492.04,72.8 L492.54,72.8 L493.04,72.8 L493.54,72.8 L494.04,72.8 L494.54,72.8 L495.04,72.8 L495.55,72.8 L496.05,72.8 L496.55,72.8 L497.05,72.8 L497.55,72.79 L498.05,72.79 L498.55,72.79 L499.05,72.79 L499.55,72.79 L500.05,72.78 L500.55,72.78 L501.05,72.77 L501.56,72.76 L502.06,72.75 L502.56,72.74 L503.06,72.72 L503.56,72.7 L504.06,72.68 L504.56,72.65 L505.06,72.61 L505.56,72.57 L506.06,72.51 L506.56,72.45 L507.06,72.37 L507.56,72.28 L508.07,72.18 L508.57,72.05 L509.07,71.91 L509.57,71.73 L510.07,71.53 L510.57,71.3 L511.07,71.04 L511.57,70.73 L512.07,70.38 L512.57,69.99 L513.07,69.54 L513.57,69.03 L514.08,68.47 L514.58,67.83 L515.08,67.13 L515.58,66.35 L516.08,65.49 L516.58,64.55 L517.08,63.53 L517.58,62.41 L518.08,61.21 L518.58,59.91 L519.08,58.52 L519.58,57.03 L520.08,55.46 L520.59,53.8 L521.09,52.05 L521.59,50.23 L522.09,48.33 L522.59,46.36 L523.09,44.34 L523.59,42.26 L524.09,40.15 L524.59,38.01 L525.09,35.85 L525.59,33.69 L526.09,31.54 L526.6,29.42 L527.1,27.33 L527.6,25.3 L528.1,23.33 L528.6,21.44 L529.1,19.65 L529.6,17.95 L530.1,16.38 L530.6,14.92 L531.1,13.6 L531.6,12.43 L532.1,11.39 L532.6,10.51 L533.11,9.78 L533.61,9.2 L534.11,8.76 L534.61,8.47 L535.11,8.32 L535.61,8.28 L536.11,8.32 L536.61,8.45 L537.11,8.71 L537.61,9.09 L538.11,9.59 L538.61,10.23 L539.12,11 L539.62,11.9 L540.12,12.94 L540.62,14.09 L541.12,15.37 L541.62,16.76 L542.12,18.26 L542.62,19.86 L543.12,21.55 L543.62,23.31 L544.12,25.15 L544.62,27.04 L545.12,28.99 L545.63,30.96 L546.13,32.97 L546.63,34.98 L547.13,37 L547.63,39.01 L548.13,41 L548.63,42.96 L549.13,44.89 L549.63,46.77 L550.13,48.6 L550.63,50.37 L551.13,52.07 L551.64,53.7 L552.14,55.26 L552.64,56.75 L553.14,58.15 L553.64,59.48 L554.14,60.72 L554.64,61.88 L555.14,62.96 L555.64,63.97 L556.14,64.9 L556.64,65.75 L557.14,66.53 L557.64,67.25 L558.15,67.89 L558.65,68.48 L559.15,69.01 L559.65,69.49 L560.15,69.91 L560.65,70.29 L561.15,70.63 L561.65,70.93 L562.15,71.19 L562.65,71.42 L563.15,71.63 L563.65,71.8 L564.16,71.95 L564.66,72.08 L565.16,72.2 L565.66,72.3 L566.16,72.38 L566.66,72.45 L567.16,72.51 L567.66,72.56 L568.16,72.6 L568.66,72.64 L569.16,72.67 L569.66,72.69 L570.16,72.71 L570.67,72.73 L571.17,72.74 L571.67,72.75 L572.17,72.76 L572.67,72.77 L573.17,72.78 L573.67,72.78 L574.17,72.79 L574.67,72.79 L575.17,72.79 L575.67,72.79 L576.17,72.79 L576.68,72.8 L577.18,72.8 L577.68,72.8 L578.18,72.8 L578.68,72.8 L579.18,72.8 L579.68,72.8 L580.18,72.8 L580.68,72.8 L581.18,72.8 L581.68,72.8 L582.18,72.8 L582.68,72.8 L583.19,72.8 L583.69,72.8 L584.19,72.8 L584.69,72.8 L585.19,72.8 L585.69,72.8 L586.19,72.8 L586.69,72.8 L587.19,72.8 L587.69,72.8 L588.19,72.8 L588.69,72.8 L589.2,72.8 L589.7,72.8 L590.2,72.8 L590.7,72.8 L591.2,72.8 L591.7,72.8 L592.2,72.8" stroke="#d03c50" stroke-width="1.10"/>
<path d="M467,72.8 L467.5,72.8 L468,72.8 L468.5,72.8 L469,72.8 L469.5,72.8 L470,72.8 L470.51,72.8 L471.01,72.8 L471.51,72.8 L472.01,72.8 L472.51,72.8 L473.01,72.8 L473.51,72.8 L474.01,72.8 L474.51,72.8 L475.01,72.8 L475.51,72.8 L476.01,72.8 L476.52,72.8 L477.02,72.8 L477.52,72.8 L478.02,72.8 L478.52,72.8 L479.02,72.8 L479.52,72.8 L480.02,72.8 L480.52,72.8 L481.02,72.8 L481.52,72.8 L482.02,72.8 L482.52,72.8 L483.03,72.8 L483.53,72.8 L484.03,72.8 L484.53,72.8 L485.03,72.8 L485.53,72.8 L486.03,72.8 L486.53,72.8 L487.03,72.8 L487.53,72.8 L488.03,72.8 L488.53,72.8 L489.04,72.8 L489.54,72.8 L490.04,72.8 L490.54,72.8 L491.04,72.8 L491.54,72.8 L492.04,72.8 L492.54,72.8 L493.04,72.8 L493.54,72.8 L494.04,72.8 L494.54,72.8 L495.04,72.8 L495.55,72.8 L496.05,72.8 L496.55,72.8 L497.05,72.8 L497.55,72.8 L498.05,72.79 L498.55,72.79 L499.05,72.79 L499.55,72.79 L500.05,72.78 L500.55,72.78 L501.05,72.77 L501.56,72.76 L502.06,72.75 L502.56,72.74 L503.06,72.73 L503.56,72.71 L504.06,72.68 L504.56,72.66 L505.06,72.62 L505.56,72.58 L506.06,72.53 L506.56,72.47 L507.06,72.4 L507.56,72.31 L508.07,72.21 L508.57,72.09 L509.07,71.95 L509.57,71.78 L510.07,71.59 L510.57,71.36 L511.07,71.11 L511.57,70.81 L512.07,70.47 L512.57,70.08 L513.07,69.64 L513.57,69.15 L514.08,68.59 L514.58,67.97 L515.08,67.28 L515.58,66.51 L516.08,65.67 L516.58,64.74 L517.08,63.72 L517.58,62.62 L518.08,61.42 L518.58,60.14 L519.08,58.75 L519.58,57.28 L520.08,55.71 L520.59,54.06 L521.09,52.31 L521.59,50.49 L522.09,48.59 L522.59,46.62 L523.09,44.59 L523.59,42.51 L524.09,40.39 L524.59,38.24 L525.09,36.08 L525.59,33.91 L526.09,31.75 L526.6,29.61 L527.1,27.51 L527.6,25.46 L528.1,23.48 L528.6,21.57 L529.1,19.76 L529.6,18.05 L530.1,16.46 L530.6,14.99 L531.1,13.66 L531.6,12.47 L532.1,11.43 L532.6,10.53 L533.11,9.79 L533.61,9.21 L534.11,8.77 L534.61,8.48 L535.11,8.32 L535.61,8.28 L536.11,8.32 L536.61,8.45 L537.11,8.71 L537.61,9.09 L538.11,9.59 L538.61,10.23 L539.12,11 L539.62,11.9 L540.12,12.94 L540.62,14.09 L541.12,15.37 L541.62,16.76 L542.12,18.26 L542.62,19.86 L543.12,21.55 L543.62,23.31 L544.12,25.15 L544.62,27.04 L545.12,28.99 L545.63,30.96 L546.13,32.97 L546.63,34.98 L547.13,37 L547.63,39.01 L548.13,41 L548.63,42.96 L549.13,44.89 L549.63,46.77 L550.13,48.6 L550.63,50.37 L551.13,52.07 L551.64,53.7 L552.14,55.26 L552.64,56.75 L553.14,58.15 L553.64,59.48 L554.14,60.72 L554.64,61.88 L555.14,62.96 L555.64,63.97 L556.14,64.9 L556.64,65.75 L557.14,66.53 L557.64,67.25 L558.15,67.89 L558.65,68.48 L559.15,69.01 L559.65,69.49 L560.15,69.91 L560.65,70.29 L561.15,70.63 L561.65,70.93 L562.15,71.19 L562.65,71.42 L563.15,71.63 L563.65,71.8 L564.16,71.95 L564.66,72.08 L565.16,72.2 L565.66,72.3 L566.16,72.38 L566.66,72.45 L567.16,72.51 L567.66,72.56 L568.16,72.6 L568.66,72.64 L569.16,72.67 L569.66,72.69 L570.16,72.71 L570.67,72.73 L571.17,72.74 L571.67,72.75 L572.17,72.76 L572.67,72.77 L573.17,72.78 L573.67,72.78 L574.17,72.79 L574.67,72.79 L575.17,72.79 L575.67,72.79 L576.17,72.79 L576.68,72.8 L577.18,72.8 L577.68,72.8 L578.18,72.8 L578.68,72.8 L579.18,72.8 L579.68,72.8 L580.18,72.8 L580.68,72.8 L581.18,72.8 L581.68,72.8 L582.18,72.8 L582.68,72.8 L583.19,72.8 L583.69,72.8 L584.19,72.8 L584.69,72.8 L585.19,72.8 L585.69,72.8 L586.19,72.8 L586.69,72.8 L587.19,72.8 L587.69,72.8 L588.19,72.8 L588.69,72.8 L589.2,72.8 L589.7,72.8 L590.2,72.8 L590.7,72.8 L591.2,72.8 L591.7,72.8 L592.2,72.8" stroke="#d03c50" stroke-width="1.10" stroke-dasharray="4.2,2.3"/>
<path d="M467,72.8 L467.5,72.8 L468,72.8 L468.5,72.8 L469,72.8 L469.5,72.8 L470,72.8 L470.51,72.8 L471.01,72.8 L471.51,72.8 L472.01,72.8 L472.51,72.8 L473.01,72.8 L473.51,72.8 L474.01,72.8 L474.51,72.8 L475.01,72.8 L475.51,72.8 L476.01,72.8 L476.52,72.8 L477.02,72.8 L477.52,72.8 L478.02,72.8 L478.52,72.8 L479.02,72.8 L479.52,72.8 L480.02,72.8 L480.52,72.8 L481.02,72.8 L481.52,72.8 L482.02,72.8 L482.52,72.8 L483.03,72.8 L483.53,72.8 L484.03,72.8 L484.53,72.8 L485.03,72.8 L485.53,72.8 L486.03,72.8 L486.53,72.8 L487.03,72.8 L487.53,72.8 L488.03,72.8 L488.53,72.8 L489.04,72.8 L489.54,72.8 L490.04,72.8 L490.54,72.8 L491.04,72.8 L491.54,72.8 L492.04,72.8 L492.54,72.8 L493.04,72.8 L493.54,72.8 L494.04,72.8 L494.54,72.8 L495.04,72.8 L495.55,72.8 L496.05,72.8 L496.55,72.8 L497.05,72.8 L497.55,72.8 L498.05,72.79 L498.55,72.79 L499.05,72.79 L499.55,72.79 L500.05,72.79 L500.55,72.78 L501.05,72.78 L501.56,72.77 L502.06,72.76 L502.56,72.75 L503.06,72.74 L503.56,72.72 L504.06,72.7 L504.56,72.67 L505.06,72.64 L505.56,72.6 L506.06,72.56 L506.56,72.5 L507.06,72.43 L507.56,72.35 L508.07,72.26 L508.57,72.15 L509.07,72.02 L509.57,71.86 L510.07,71.68 L510.57,71.47 L511.07,71.23 L511.57,70.95 L512.07,70.62 L512.57,70.26 L513.07,69.84 L513.57,69.37 L514.08,68.83 L514.58,68.24 L515.08,67.57 L515.58,66.83 L516.08,66.01 L516.58,65.11 L517.08,64.13 L517.58,63.05 L518.08,61.89 L518.58,60.63 L519.08,59.27 L519.58,57.82 L520.08,56.28 L520.59,54.65 L521.09,52.93 L521.59,51.12 L522.09,49.24 L522.59,47.28 L523.09,45.26 L523.59,43.19 L524.09,41.07 L524.59,38.92 L525.09,36.74 L525.59,34.56 L526.09,32.39 L526.6,30.23 L527.1,28.11 L527.6,26.03 L528.1,24.02 L528.6,22.08 L529.1,20.23 L529.6,18.49 L530.1,16.86 L530.6,15.35 L531.1,13.98 L531.6,12.74 L532.1,11.66 L532.6,10.73 L533.11,9.95 L533.61,9.32 L534.11,8.85 L534.61,8.53 L535.11,8.34 L535.61,8.28 L536.11,8.3 L536.61,8.4 L537.11,8.6 L537.61,8.91 L538.11,9.33 L538.61,9.86 L539.12,10.51 L539.62,11.28 L540.12,12.16 L540.62,13.15 L541.12,14.26 L541.62,15.47 L542.12,16.78 L542.62,18.19 L543.12,19.68 L543.62,21.25 L544.12,22.9 L544.62,24.6 L545.12,26.36 L545.63,28.17 L546.13,30.01 L546.63,31.88 L547.13,33.77 L547.63,35.66 L548.13,37.56 L548.63,39.44 L549.13,41.3 L549.63,43.14 L550.13,44.95 L550.63,46.71 L551.13,48.43 L551.64,50.1 L552.14,51.71 L552.64,53.26 L553.14,54.75 L553.64,56.16 L554.14,57.51 L554.64,58.79 L555.14,60 L555.64,61.14 L556.14,62.21 L556.64,63.2 L557.14,64.13 L557.64,64.99 L558.15,65.79 L558.65,66.52 L559.15,67.19 L559.65,67.81 L560.15,68.37 L560.65,68.88 L561.15,69.34 L561.65,69.76 L562.15,70.13 L562.65,70.47 L563.15,70.77 L563.65,71.03 L564.16,71.27 L564.66,71.48 L565.16,71.66 L565.66,71.82 L566.16,71.96 L566.66,72.09 L567.16,72.19 L567.66,72.28 L568.16,72.36 L568.66,72.43 L569.16,72.49 L569.66,72.54 L570.16,72.58 L570.67,72.62 L571.17,72.65 L571.67,72.68 L572.17,72.7 L572.67,72.72 L573.17,72.73 L573.67,72.74 L574.17,72.75 L574.67,72.76 L575.17,72.77 L575.67,72.78 L576.17,72.78 L576.68,72.78 L577.18,72.79 L577.68,72.79 L578.18,72.79 L578.68,72.79 L579.18,72.8 L579.68,72.8 L580.18,72.8 L580.68,72.8 L581.18,72.8 L581.68,72.8 L582.18,72.8 L582.68,72.8 L583.19,72.8 L583.69,72.8 L584.19,72.8 L584.69,72.8 L585.19,72.8 L585.69,72.8 L586.19,72.8 L586.69,72.8 L587.19,72.8 L587.69,72.8 L588.19,72.8 L588.69,72.8 L589.2,72.8 L589.7,72.8 L590.2,72.8 L590.7,72.8 L591.2,72.8 L591.7,72.8 L592.2,72.8" stroke="#d03c50" stroke-width="1.10" stroke-dasharray="4.2,1.8,1.2,1.8"/>
<path d="M467,72.8 L467.5,72.8 L468,72.8 L468.5,72.8 L469,72.8 L469.5,72.8 L470,72.8 L470.51,72.8 L471.01,72.8 L471.51,72.8 L472.01,72.8 L472.51,72.8 L473.01,72.8 L473.51,72.8 L474.01,72.8 L474.51,72.8 L475.01,72.8 L475.51,72.8 L476.01,72.8 L476.52,72.8 L477.02,72.8 L477.52,72.8 L478.02,72.8 L478.52,72.8 L479.02,72.8 L479.52,72.8 L480.02,72.8 L480.52,72.8 L481.02,72.8 L481.52,72.8 L482.02,72.8 L482.52,72.8 L483.03,72.8 L483.53,72.8 L484.03,72.8 L484.53,72.8 L485.03,72.8 L485.53,72.8 L486.03,72.8 L486.53,72.8 L487.03,72.8 L487.53,72.8 L488.03,72.8 L488.53,72.8 L489.04,72.8 L489.54,72.8 L490.04,72.8 L490.54,72.8 L491.04,72.8 L491.54,72.8 L492.04,72.8 L492.54,72.8 L493.04,72.8 L493.54,72.8 L494.04,72.8 L494.54,72.8 L495.04,72.8 L495.55,72.8 L496.05,72.8 L496.55,72.8 L497.05,72.8 L497.55,72.8 L498.05,72.79 L498.55,72.79 L499.05,72.79 L499.55,72.79 L500.05,72.78 L500.55,72.78 L501.05,72.77 L501.56,72.76 L502.06,72.76 L502.56,72.74 L503.06,72.73 L503.56,72.71 L504.06,72.69 L504.56,72.66 L505.06,72.63 L505.56,72.58 L506.06,72.53 L506.56,72.47 L507.06,72.4 L507.56,72.32 L508.07,72.22 L508.57,72.1 L509.07,71.96 L509.57,71.79 L510.07,71.6 L510.57,71.38 L511.07,71.12 L511.57,70.83 L512.07,70.49 L512.57,70.1 L513.07,69.67 L513.57,69.17 L514.08,68.62 L514.58,68 L515.08,67.31 L515.58,66.55 L516.08,65.7 L516.58,64.77 L517.08,63.76 L517.58,62.66 L518.08,61.46 L518.58,60.17 L519.08,58.79 L519.58,57.32 L520.08,55.75 L520.59,54.09 L521.09,52.35 L521.59,50.52 L522.09,48.62 L522.59,46.65 L523.09,44.61 L523.59,42.53 L524.09,40.41 L524.59,38.25 L525.09,36.08 L525.59,33.91 L526.09,31.74 L526.6,29.6 L527.1,27.5 L527.6,25.44 L528.1,23.46 L528.6,21.55 L529.1,19.74 L529.6,18.03 L530.1,16.43 L530.6,14.97 L531.1,13.63 L531.6,12.44 L532.1,11.4 L532.6,10.51 L533.11,9.77 L533.61,9.19 L534.11,8.76 L534.61,8.47 L535.11,8.31 L535.61,8.28 L536.11,8.32 L536.61,8.47 L537.11,8.73 L537.61,9.13 L538.11,9.65 L538.61,10.31 L539.12,11.11 L539.62,12.04 L540.12,13.1 L540.62,14.29 L541.12,15.61 L541.62,17.04 L542.12,18.57 L542.62,20.21 L543.12,21.94 L543.62,23.74 L544.12,25.62 L544.62,27.55 L545.12,29.53 L545.63,31.54 L546.13,33.57 L546.63,35.61 L547.13,37.65 L547.63,39.68 L548.13,41.69 L548.63,43.66 L549.13,45.6 L549.63,47.48 L550.13,49.31 L550.63,51.07 L551.13,52.77 L551.64,54.39 L552.14,55.94 L552.64,57.4 L553.14,58.79 L553.64,60.09 L554.14,61.31 L554.64,62.44 L555.14,63.5 L555.64,64.47 L556.14,65.37 L556.64,66.19 L557.14,66.95 L557.64,67.63 L558.15,68.25 L558.65,68.81 L559.15,69.31 L559.65,69.76 L560.15,70.16 L560.65,70.52 L561.15,70.84 L561.65,71.11 L562.15,71.36 L562.65,71.57 L563.15,71.75 L563.65,71.91 L564.16,72.05 L564.66,72.17 L565.16,72.27 L565.66,72.36 L566.16,72.44 L566.66,72.5 L567.16,72.55 L567.66,72.59 L568.16,72.63 L568.66,72.66 L569.16,72.69 L569.66,72.71 L570.16,72.73 L570.67,72.74 L571.17,72.75 L571.67,72.76 L572.17,72.77 L572.67,72.78 L573.17,72.78 L573.67,72.79 L574.17,72.79 L574.67,72.79 L575.17,72.79 L575.67,72.79 L576.17,72.8 L576.68,72.8 L577.18,72.8 L577.68,72.8 L578.18,72.8 L578.68,72.8 L579.18,72.8 L579.68,72.8 L580.18,72.8 L580.68,72.8 L581.18,72.8 L581.68,72.8 L582.18,72.8 L582.68,72.8 L583.19,72.8 L583.69,72.8 L584.19,72.8 L584.69,72.8 L585.19,72.8 L585.69,72.8 L586.19,72.8 L586.69,72.8 L587.19,72.8 L587.69,72.8 L588.19,72.8 L588.69,72.8 L589.2,72.8 L589.7,72.8 L590.2,72.8 L590.7,72.8 L591.2,72.8 L591.7,72.8 L592.2,72.8" stroke="#353a38" stroke-width="1.10"/>
</g>
<path d="M473.26,72.8v-1.3 M473.26,1.5v1.3 M479.52,72.8v-1.3 M479.52,1.5v1.3 M485.78,72.8v-1.3 M485.78,1.5v1.3 M492.04,72.8v-1.3 M492.04,1.5v1.3 M498.3,72.8v-2.2 M498.3,1.5v2.2 M504.56,72.8v-1.3 M504.56,1.5v1.3 M510.82,72.8v-1.3 M510.82,1.5v1.3 M517.08,72.8v-1.3 M517.08,1.5v1.3 M523.34,72.8v-1.3 M523.34,1.5v1.3 M529.6,72.8v-2.2 M529.6,1.5v2.2 M535.86,72.8v-1.3 M535.86,1.5v1.3 M542.12,72.8v-1.3 M542.12,1.5v1.3 M548.38,72.8v-1.3 M548.38,1.5v1.3 M554.64,72.8v-1.3 M554.64,1.5v1.3 M560.9,72.8v-2.2 M560.9,1.5v2.2 M567.16,72.8v-1.3 M567.16,1.5v1.3 M573.42,72.8v-1.3 M573.42,1.5v1.3 M579.68,72.8v-1.3 M579.68,1.5v1.3 M585.94,72.8v-1.3 M585.94,1.5v1.3 M467,8.28h2.2 M592.2,8.28h-2.2" stroke="#2a2a2a" stroke-width="1" fill="none"/>
<rect x="467" y="1.5" width="125.2" height="71.3" fill="none" stroke="#2a2a2a" stroke-width="1.1"/>
<clipPath id="c10"><rect x="9" y="108.6" width="125.2" height="71.3"/></clipPath>
<g clip-path="url(#c10)" fill="none" stroke-linejoin="round">
<path d="M9,179.9 L9.5,179.9 L10,179.9 L10.5,179.9 L11,179.9 L11.5,179.89 L12,179.89 L12.51,179.89 L13.01,179.89 L13.51,179.89 L14.01,179.89 L14.51,179.88 L15.01,179.88 L15.51,179.88 L16.01,179.87 L16.51,179.87 L17.01,179.86 L17.51,179.86 L18.01,179.85 L18.52,179.84 L19.02,179.83 L19.52,179.82 L20.02,179.81 L20.52,179.8 L21.02,179.78 L21.52,179.76 L22.02,179.74 L22.52,179.71 L23.02,179.69 L23.52,179.65 L24.02,179.62 L24.52,179.58 L25.03,179.53 L25.53,179.48 L26.03,179.42 L26.53,179.36 L27.03,179.29 L27.53,179.21 L28.03,179.12 L28.53,179.02 L29.03,178.91 L29.53,178.79 L30.03,178.65 L30.53,178.51 L31.04,178.34 L31.54,178.16 L32.04,177.97 L32.54,177.75 L33.04,177.52 L33.54,177.26 L34.04,176.98 L34.54,176.68 L35.04,176.35 L35.54,176 L36.04,175.62 L36.54,175.21 L37.04,174.77 L37.55,174.3 L38.05,173.79 L38.55,173.25 L39.05,172.68 L39.55,172.06 L40.05,171.41 L40.55,170.73 L41.05,170 L41.55,169.23 L42.05,168.42 L42.55,167.57 L43.05,166.68 L43.56,165.75 L44.06,164.78 L44.56,163.76 L45.06,162.71 L45.56,161.62 L46.06,160.49 L46.56,159.32 L47.06,158.11 L47.56,156.88 L48.06,155.61 L48.56,154.31 L49.06,152.98 L49.56,151.63 L50.07,150.25 L50.57,148.86 L51.07,147.44 L51.57,146.02 L52.07,144.59 L52.57,143.15 L53.07,141.71 L53.57,140.27 L54.07,138.84 L54.57,137.42 L55.07,136.01 L55.57,134.62 L56.08,133.26 L56.58,131.92 L57.08,130.61 L57.58,129.34 L58.08,128.1 L58.58,126.91 L59.08,125.76 L59.58,124.66 L60.08,123.62 L60.58,122.63 L61.08,121.69 L61.58,120.82 L62.08,120.01 L62.59,119.26 L63.09,118.58 L63.59,117.97 L64.09,117.42 L64.59,116.94 L65.09,116.53 L65.59,116.18 L66.09,115.9 L66.59,115.68 L67.09,115.53 L67.59,115.43 L68.09,115.38 L68.6,115.38 L69.1,115.42 L69.6,115.51 L70.1,115.67 L70.6,115.9 L71.1,116.19 L71.6,116.56 L72.1,117 L72.6,117.52 L73.1,118.11 L73.6,118.77 L74.1,119.51 L74.6,120.32 L75.11,121.19 L75.61,122.14 L76.11,123.15 L76.61,124.22 L77.11,125.35 L77.61,126.54 L78.11,127.77 L78.61,129.06 L79.11,130.39 L79.61,131.75 L80.11,133.16 L80.61,134.59 L81.12,136.04 L81.62,137.52 L82.12,139.01 L82.62,140.52 L83.12,142.02 L83.62,143.54 L84.12,145.04 L84.62,146.54 L85.12,148.03 L85.62,149.5 L86.12,150.96 L86.62,152.39 L87.12,153.79 L87.63,155.17 L88.13,156.51 L88.63,157.82 L89.13,159.09 L89.63,160.32 L90.13,161.51 L90.63,162.66 L91.13,163.77 L91.63,164.83 L92.13,165.84 L92.63,166.82 L93.13,167.74 L93.64,168.62 L94.14,169.46 L94.64,170.25 L95.14,171 L95.64,171.71 L96.14,172.37 L96.64,172.99 L97.14,173.57 L97.64,174.12 L98.14,174.63 L98.64,175.1 L99.14,175.53 L99.64,175.94 L100.15,176.31 L100.65,176.66 L101.15,176.98 L101.65,177.27 L102.15,177.54 L102.65,177.78 L103.15,178 L103.65,178.2 L104.15,178.39 L104.65,178.55 L105.15,178.71 L105.65,178.84 L106.16,178.96 L106.66,179.07 L107.16,179.17 L107.66,179.26 L108.16,179.34 L108.66,179.41 L109.16,179.47 L109.66,179.52 L110.16,179.57 L110.66,179.62 L111.16,179.65 L111.66,179.69 L112.16,179.72 L112.67,179.74 L113.17,179.76 L113.67,179.78 L114.17,179.8 L114.67,179.81 L115.17,179.83 L115.67,179.84 L116.17,179.85 L116.67,179.85 L117.17,179.86 L117.67,179.87 L118.17,179.87 L118.68,179.88 L119.18,179.88 L119.68,179.88 L120.18,179.89 L120.68,179.89 L121.18,179.89 L121.68,179.89 L122.18,179.89 L122.68,179.89 L123.18,179.9 L123.68,179.9 L124.18,179.9 L124.68,179.9 L125.19,179.9 L125.69,179.9 L126.19,179.9 L126.69,179.9 L127.19,179.9 L127.69,179.9 L128.19,179.9 L128.69,179.9 L129.19,179.9 L129.69,179.9 L130.19,179.9 L130.69,179.9 L131.2,179.9 L131.7,179.9 L132.2,179.9 L132.7,179.9 L133.2,179.9 L133.7,179.9 L134.2,179.9" stroke="#d03c50" stroke-width="1.10"/>
<path d="M9,179.89 L9.5,179.89 L10,179.88 L10.5,179.88 L11,179.88 L11.5,179.87 L12,179.87 L12.51,179.86 L13.01,179.86 L13.51,179.85 L14.01,179.84 L14.51,179.83 L15.01,179.82 L15.51,179.81 L16.01,179.8 L16.51,179.78 L17.01,179.77 L17.51,179.75 L18.01,179.73 L18.52,179.7 L19.02,179.67 L19.52,179.64 L20.02,179.61 L20.52,179.57 L21.02,179.52 L21.52,179.47 L22.02,179.42 L22.52,179.36 L23.02,179.29 L23.52,179.21 L24.02,179.13 L24.52,179.04 L25.03,178.93 L25.53,178.82 L26.03,178.7 L26.53,178.56 L27.03,178.41 L27.53,178.25 L28.03,178.07 L28.53,177.87 L29.03,177.66 L29.53,177.43 L30.03,177.18 L30.53,176.91 L31.04,176.62 L31.54,176.31 L32.04,175.97 L32.54,175.61 L33.04,175.22 L33.54,174.8 L34.04,174.35 L34.54,173.88 L35.04,173.37 L35.54,172.83 L36.04,172.26 L36.54,171.66 L37.04,171.02 L37.55,170.34 L38.05,169.63 L38.55,168.89 L39.05,168.1 L39.55,167.28 L40.05,166.43 L40.55,165.53 L41.05,164.6 L41.55,163.63 L42.05,162.63 L42.55,161.59 L43.05,160.52 L43.56,159.41 L44.06,158.27 L44.56,157.1 L45.06,155.9 L45.56,154.67 L46.06,153.42 L46.56,152.14 L47.06,150.84 L47.56,149.53 L48.06,148.2 L48.56,146.85 L49.06,145.5 L49.56,144.13 L50.07,142.77 L50.57,141.4 L51.07,140.04 L51.57,138.68 L52.07,137.33 L52.57,135.99 L53.07,134.68 L53.57,133.38 L54.07,132.1 L54.57,130.86 L55.07,129.64 L55.57,128.46 L56.08,127.31 L56.58,126.21 L57.08,125.14 L57.58,124.13 L58.08,123.16 L58.58,122.24 L59.08,121.38 L59.58,120.57 L60.08,119.82 L60.58,119.12 L61.08,118.48 L61.58,117.91 L62.08,117.39 L62.59,116.94 L63.09,116.55 L63.59,116.21 L64.09,115.94 L64.59,115.72 L65.09,115.56 L65.59,115.45 L66.09,115.39 L66.59,115.38 L67.09,115.4 L67.59,115.48 L68.09,115.63 L68.6,115.86 L69.1,116.17 L69.6,116.56 L70.1,117.03 L70.6,117.59 L71.1,118.23 L71.6,118.96 L72.1,119.77 L72.6,120.66 L73.1,121.63 L73.6,122.67 L74.1,123.78 L74.6,124.97 L75.11,126.22 L75.61,127.52 L76.11,128.89 L76.61,130.3 L77.11,131.76 L77.61,133.26 L78.11,134.79 L78.61,136.35 L79.11,137.93 L79.61,139.52 L80.11,141.13 L80.61,142.74 L81.12,144.35 L81.62,145.96 L82.12,147.55 L82.62,149.13 L83.12,150.68 L83.62,152.21 L84.12,153.71 L84.62,155.18 L85.12,156.61 L85.62,158 L86.12,159.35 L86.62,160.66 L87.12,161.91 L87.63,163.12 L88.13,164.28 L88.63,165.39 L89.13,166.45 L89.63,167.45 L90.13,168.41 L90.63,169.31 L91.13,170.16 L91.63,170.97 L92.13,171.72 L92.63,172.42 L93.13,173.08 L93.64,173.7 L94.14,174.27 L94.64,174.8 L95.14,175.29 L95.64,175.74 L96.14,176.15 L96.64,176.53 L97.14,176.88 L97.64,177.2 L98.14,177.49 L98.64,177.75 L99.14,177.99 L99.64,178.21 L100.15,178.4 L100.65,178.58 L101.15,178.74 L101.65,178.88 L102.15,179 L102.65,179.12 L103.15,179.22 L103.65,179.3 L104.15,179.38 L104.65,179.45 L105.15,179.51 L105.65,179.56 L106.16,179.61 L106.66,179.65 L107.16,179.69 L107.66,179.72 L108.16,179.74 L108.66,179.77 L109.16,179.79 L109.66,179.81 L110.16,179.82 L110.66,179.83 L111.16,179.84 L111.66,179.85 L112.16,179.86 L112.67,179.87 L113.17,179.87 L113.67,179.88 L114.17,179.88 L114.67,179.88 L115.17,179.89 L115.67,179.89 L116.17,179.89 L116.67,179.89 L117.17,179.89 L117.67,179.9 L118.17,179.9 L118.68,179.9 L119.18,179.9 L119.68,179.9 L120.18,179.9 L120.68,179.9 L121.18,179.9 L121.68,179.9 L122.18,179.9 L122.68,179.9 L123.18,179.9 L123.68,179.9 L124.18,179.9 L124.68,179.9 L125.19,179.9 L125.69,179.9 L126.19,179.9 L126.69,179.9 L127.19,179.9 L127.69,179.9 L128.19,179.9 L128.69,179.9 L129.19,179.9 L129.69,179.9 L130.19,179.9 L130.69,179.9 L131.2,179.9 L131.7,179.9 L132.2,179.9 L132.7,179.9 L133.2,179.9 L133.7,179.9 L134.2,179.9" stroke="#d03c50" stroke-width="1.10" stroke-dasharray="4.2,2.3"/>
<path d="M9,179.89 L9.5,179.89 L10,179.89 L10.5,179.89 L11,179.89 L11.5,179.89 L12,179.88 L12.51,179.88 L13.01,179.88 L13.51,179.87 L14.01,179.87 L14.51,179.86 L15.01,179.86 L15.51,179.85 L16.01,179.84 L16.51,179.83 L17.01,179.82 L17.51,179.8 L18.01,179.79 L18.52,179.77 L19.02,179.75 L19.52,179.73 L20.02,179.71 L20.52,179.68 L21.02,179.65 L21.52,179.61 L22.02,179.57 L22.52,179.53 L23.02,179.48 L23.52,179.42 L24.02,179.36 L24.52,179.29 L25.03,179.21 L25.53,179.12 L26.03,179.03 L26.53,178.92 L27.03,178.81 L27.53,178.68 L28.03,178.53 L28.53,178.38 L29.03,178.21 L29.53,178.02 L30.03,177.82 L30.53,177.59 L31.04,177.35 L31.54,177.09 L32.04,176.8 L32.54,176.49 L33.04,176.16 L33.54,175.8 L34.04,175.42 L34.54,175 L35.04,174.56 L35.54,174.09 L36.04,173.58 L36.54,173.04 L37.04,172.47 L37.55,171.86 L38.05,171.21 L38.55,170.53 L39.05,169.81 L39.55,169.06 L40.05,168.26 L40.55,167.43 L41.05,166.55 L41.55,165.64 L42.05,164.69 L42.55,163.7 L43.05,162.67 L43.56,161.61 L44.06,160.5 L44.56,159.37 L45.06,158.2 L45.56,156.99 L46.06,155.76 L46.56,154.5 L47.06,153.21 L47.56,151.89 L48.06,150.56 L48.56,149.2 L49.06,147.83 L49.56,146.45 L50.07,145.06 L50.57,143.66 L51.07,142.25 L51.57,140.85 L52.07,139.46 L52.57,138.07 L53.07,136.69 L53.57,135.33 L54.07,133.98 L54.57,132.67 L55.07,131.37 L55.57,130.11 L56.08,128.88 L56.58,127.7 L57.08,126.55 L57.58,125.44 L58.08,124.39 L58.58,123.38 L59.08,122.43 L59.58,121.53 L60.08,120.69 L60.58,119.91 L61.08,119.19 L61.58,118.53 L62.08,117.94 L62.59,117.41 L63.09,116.94 L63.59,116.54 L64.09,116.2 L64.59,115.92 L65.09,115.7 L65.59,115.54 L66.09,115.44 L66.59,115.39 L67.09,115.38 L67.59,115.41 L68.09,115.51 L68.6,115.68 L69.1,115.93 L69.6,116.26 L70.1,116.67 L70.6,117.17 L71.1,117.75 L71.6,118.42 L72.1,119.18 L72.6,120.01 L73.1,120.93 L73.6,121.93 L74.1,123 L74.6,124.15 L75.11,125.36 L75.61,126.64 L76.11,127.98 L76.61,129.37 L77.11,130.81 L77.61,132.29 L78.11,133.82 L78.61,135.37 L79.11,136.95 L79.61,138.55 L80.11,140.16 L80.61,141.78 L81.12,143.41 L81.62,145.03 L82.12,146.64 L82.62,148.24 L83.12,149.82 L83.62,151.38 L84.12,152.9 L84.62,154.4 L85.12,155.86 L85.62,157.29 L86.12,158.67 L86.62,160.01 L87.12,161.3 L87.63,162.54 L88.13,163.73 L88.63,164.87 L89.13,165.96 L89.63,167 L90.13,167.98 L90.63,168.92 L91.13,169.8 L91.63,170.63 L92.13,171.41 L92.63,172.14 L93.13,172.82 L93.64,173.46 L94.14,174.05 L94.64,174.6 L95.14,175.11 L95.64,175.57 L96.14,176.01 L96.64,176.4 L97.14,176.76 L97.64,177.1 L98.14,177.4 L98.64,177.67 L99.14,177.92 L99.64,178.15 L100.15,178.35 L100.65,178.53 L101.15,178.69 L101.65,178.84 L102.15,178.97 L102.65,179.09 L103.15,179.19 L103.65,179.28 L104.15,179.36 L104.65,179.44 L105.15,179.5 L105.65,179.55 L106.16,179.6 L106.66,179.64 L107.16,179.68 L107.66,179.71 L108.16,179.74 L108.66,179.76 L109.16,179.78 L109.66,179.8 L110.16,179.82 L110.66,179.83 L111.16,179.84 L111.66,179.85 L112.16,179.86 L112.67,179.87 L113.17,179.87 L113.67,179.88 L114.17,179.88 L114.67,179.88 L115.17,179.89 L115.67,179.89 L116.17,179.89 L116.67,179.89 L117.17,179.89 L117.67,179.9 L118.17,179.9 L118.68,179.9 L119.18,179.9 L119.68,179.9 L120.18,179.9 L120.68,179.9 L121.18,179.9 L121.68,179.9 L122.18,179.9 L122.68,179.9 L123.18,179.9 L123.68,179.9 L124.18,179.9 L124.68,179.9 L125.19,179.9 L125.69,179.9 L126.19,179.9 L126.69,179.9 L127.19,179.9 L127.69,179.9 L128.19,179.9 L128.69,179.9 L129.19,179.9 L129.69,179.9 L130.19,179.9 L130.69,179.9 L131.2,179.9 L131.7,179.9 L132.2,179.9 L132.7,179.9 L133.2,179.9 L133.7,179.9 L134.2,179.9" stroke="#d03c50" stroke-width="1.10" stroke-dasharray="4.2,1.8,1.2,1.8"/>
<path d="M9,179.9 L9.5,179.89 L10,179.89 L10.5,179.89 L11,179.89 L11.5,179.89 L12,179.89 L12.51,179.88 L13.01,179.88 L13.51,179.88 L14.01,179.87 L14.51,179.87 L15.01,179.86 L15.51,179.86 L16.01,179.85 L16.51,179.84 L17.01,179.83 L17.51,179.82 L18.01,179.81 L18.52,179.8 L19.02,179.78 L19.52,179.76 L20.02,179.74 L20.52,179.72 L21.02,179.69 L21.52,179.66 L22.02,179.63 L22.52,179.59 L23.02,179.54 L23.52,179.49 L24.02,179.44 L24.52,179.38 L25.03,179.31 L25.53,179.23 L26.03,179.15 L26.53,179.05 L27.03,178.95 L27.53,178.83 L28.03,178.7 L28.53,178.56 L29.03,178.41 L29.53,178.24 L30.03,178.05 L30.53,177.85 L31.04,177.63 L31.54,177.38 L32.04,177.12 L32.54,176.84 L33.04,176.53 L33.54,176.19 L34.04,175.83 L34.54,175.44 L35.04,175.03 L35.54,174.58 L36.04,174.1 L36.54,173.59 L37.04,173.05 L37.55,172.47 L38.05,171.85 L38.55,171.2 L39.05,170.51 L39.55,169.78 L40.05,169.01 L40.55,168.21 L41.05,167.36 L41.55,166.47 L42.05,165.55 L42.55,164.58 L43.05,163.57 L43.56,162.53 L44.06,161.45 L44.56,160.33 L45.06,159.17 L45.56,157.98 L46.06,156.76 L46.56,155.51 L47.06,154.22 L47.56,152.92 L48.06,151.58 L48.56,150.23 L49.06,148.85 L49.56,147.46 L50.07,146.06 L50.57,144.65 L51.07,143.23 L51.57,141.82 L52.07,140.4 L52.57,138.99 L53.07,137.59 L53.57,136.2 L54.07,134.83 L54.57,133.48 L55.07,132.16 L55.57,130.86 L56.08,129.6 L56.58,128.38 L57.08,127.19 L57.58,126.05 L58.08,124.95 L58.58,123.91 L59.08,122.92 L59.58,121.98 L60.08,121.1 L60.58,120.28 L61.08,119.53 L61.58,118.83 L62.08,118.2 L62.59,117.63 L63.09,117.13 L63.59,116.7 L64.09,116.33 L64.59,116.02 L65.09,115.78 L65.59,115.6 L66.09,115.47 L66.59,115.4 L67.09,115.38 L67.59,115.39 L68.09,115.47 L68.6,115.62 L69.1,115.84 L69.6,116.15 L70.1,116.55 L70.6,117.03 L71.1,117.59 L71.6,118.25 L72.1,118.99 L72.6,119.82 L73.1,120.73 L73.6,121.72 L74.1,122.79 L74.6,123.94 L75.11,125.15 L75.61,126.43 L76.11,127.78 L76.61,129.17 L77.11,130.62 L77.61,132.12 L78.11,133.65 L78.61,135.22 L79.11,136.81 L79.61,138.43 L80.11,140.06 L80.61,141.69 L81.12,143.34 L81.62,144.97 L82.12,146.6 L82.62,148.22 L83.12,149.82 L83.62,151.39 L84.12,152.94 L84.62,154.45 L85.12,155.92 L85.62,157.36 L86.12,158.75 L86.62,160.1 L87.12,161.4 L87.63,162.65 L88.13,163.85 L88.63,165 L89.13,166.1 L89.63,167.14 L90.13,168.13 L90.63,169.06 L91.13,169.94 L91.63,170.77 L92.13,171.55 L92.63,172.28 L93.13,172.96 L93.64,173.59 L94.14,174.18 L94.64,174.73 L95.14,175.23 L95.64,175.69 L96.14,176.12 L96.64,176.51 L97.14,176.87 L97.64,177.19 L98.14,177.49 L98.64,177.76 L99.14,178 L99.64,178.22 L100.15,178.42 L100.65,178.59 L101.15,178.75 L101.65,178.89 L102.15,179.02 L102.65,179.13 L103.15,179.23 L103.65,179.32 L104.15,179.4 L104.65,179.47 L105.15,179.53 L105.65,179.58 L106.16,179.62 L106.66,179.66 L107.16,179.7 L107.66,179.73 L108.16,179.75 L108.66,179.78 L109.16,179.79 L109.66,179.81 L110.16,179.83 L110.66,179.84 L111.16,179.85 L111.66,179.86 L112.16,179.86 L112.67,179.87 L113.17,179.87 L113.67,179.88 L114.17,179.88 L114.67,179.89 L115.17,179.89 L115.67,179.89 L116.17,179.89 L116.67,179.89 L117.17,179.89 L117.67,179.9 L118.17,179.9 L118.68,179.9 L119.18,179.9 L119.68,179.9 L120.18,179.9 L120.68,179.9 L121.18,179.9 L121.68,179.9 L122.18,179.9 L122.68,179.9 L123.18,179.9 L123.68,179.9 L124.18,179.9 L124.68,179.9 L125.19,179.9 L125.69,179.9 L126.19,179.9 L126.69,179.9 L127.19,179.9 L127.69,179.9 L128.19,179.9 L128.69,179.9 L129.19,179.9 L129.69,179.9 L130.19,179.9 L130.69,179.9 L131.2,179.9 L131.7,179.9 L132.2,179.9 L132.7,179.9 L133.2,179.9 L133.7,179.9 L134.2,179.9" stroke="#353a38" stroke-width="1.10"/>
</g>
<path d="M29.87,179.9v-2 M29.87,108.6v2 M50.73,179.9v-2 M50.73,108.6v2 M71.6,179.9v-2 M71.6,108.6v2 M92.47,179.9v-2 M92.47,108.6v2 M113.33,179.9v-2 M113.33,108.6v2 M9,115.38h2.2 M134.2,115.38h-2.2" stroke="#2a2a2a" stroke-width="1" fill="none"/>
<rect x="9" y="108.6" width="125.2" height="71.3" fill="none" stroke="#2a2a2a" stroke-width="1.1"/>
<clipPath id="c11"><rect x="163" y="108.6" width="125.2" height="71.3"/></clipPath>
<g clip-path="url(#c11)" fill="none" stroke-linejoin="round">
<path d="M163,179.9 L163.5,179.9 L164,179.9 L164.5,179.9 L165,179.9 L165.5,179.9 L166,179.9 L166.51,179.9 L167.01,179.9 L167.51,179.89 L168.01,179.89 L168.51,179.89 L169.01,179.89 L169.51,179.89 L170.01,179.89 L170.51,179.88 L171.01,179.88 L171.51,179.88 L172.01,179.87 L172.52,179.87 L173.02,179.86 L173.52,179.86 L174.02,179.85 L174.52,179.84 L175.02,179.83 L175.52,179.82 L176.02,179.81 L176.52,179.79 L177.02,179.77 L177.52,179.75 L178.02,179.73 L178.52,179.7 L179.03,179.67 L179.53,179.64 L180.03,179.6 L180.53,179.56 L181.03,179.51 L181.53,179.46 L182.03,179.39 L182.53,179.33 L183.03,179.25 L183.53,179.16 L184.03,179.07 L184.53,178.96 L185.04,178.84 L185.54,178.71 L186.04,178.57 L186.54,178.41 L187.04,178.23 L187.54,178.04 L188.04,177.83 L188.54,177.6 L189.04,177.35 L189.54,177.07 L190.04,176.78 L190.54,176.45 L191.04,176.1 L191.55,175.72 L192.05,175.31 L192.55,174.88 L193.05,174.4 L193.55,173.9 L194.05,173.36 L194.55,172.78 L195.05,172.17 L195.55,171.52 L196.05,170.82 L196.55,170.09 L197.05,169.32 L197.56,168.5 L198.06,167.65 L198.56,166.75 L199.06,165.81 L199.56,164.82 L200.06,163.8 L200.56,162.73 L201.06,161.62 L201.56,160.48 L202.06,159.29 L202.56,158.07 L203.06,156.81 L203.56,155.53 L204.07,154.21 L204.57,152.86 L205.07,151.48 L205.57,150.09 L206.07,148.67 L206.57,147.24 L207.07,145.8 L207.57,144.34 L208.07,142.88 L208.57,141.42 L209.07,139.97 L209.57,138.52 L210.08,137.08 L210.58,135.66 L211.08,134.26 L211.58,132.88 L212.08,131.53 L212.58,130.22 L213.08,128.94 L213.58,127.7 L214.08,126.51 L214.58,125.36 L215.08,124.27 L215.58,123.23 L216.08,122.25 L216.59,121.32 L217.09,120.47 L217.59,119.67 L218.09,118.95 L218.59,118.29 L219.09,117.7 L219.59,117.17 L220.09,116.72 L220.59,116.34 L221.09,116.02 L221.59,115.77 L222.09,115.59 L222.6,115.46 L223.1,115.39 L223.6,115.38 L224.1,115.4 L224.6,115.47 L225.1,115.61 L225.6,115.81 L226.1,116.09 L226.6,116.44 L227.1,116.86 L227.6,117.37 L228.1,117.94 L228.6,118.6 L229.11,119.32 L229.61,120.13 L230.11,121 L230.61,121.95 L231.11,122.96 L231.61,124.03 L232.11,125.17 L232.61,126.37 L233.11,127.61 L233.61,128.91 L234.11,130.25 L234.61,131.64 L235.12,133.06 L235.62,134.51 L236.12,135.98 L236.62,137.48 L237.12,138.99 L237.62,140.52 L238.12,142.05 L238.62,143.58 L239.12,145.11 L239.62,146.63 L240.12,148.14 L240.62,149.63 L241.12,151.1 L241.63,152.55 L242.13,153.97 L242.63,155.36 L243.13,156.72 L243.63,158.04 L244.13,159.32 L244.63,160.56 L245.13,161.76 L245.63,162.92 L246.13,164.03 L246.63,165.09 L247.13,166.11 L247.64,167.08 L248.14,168.01 L248.64,168.89 L249.14,169.72 L249.64,170.51 L250.14,171.26 L250.64,171.96 L251.14,172.61 L251.64,173.23 L252.14,173.8 L252.64,174.34 L253.14,174.84 L253.64,175.3 L254.15,175.73 L254.65,176.13 L255.15,176.49 L255.65,176.83 L256.15,177.13 L256.65,177.42 L257.15,177.67 L257.65,177.91 L258.15,178.12 L258.65,178.32 L259.15,178.49 L259.65,178.65 L260.16,178.79 L260.66,178.92 L261.16,179.04 L261.66,179.14 L262.16,179.23 L262.66,179.32 L263.16,179.39 L263.66,179.45 L264.16,179.51 L264.66,179.56 L265.16,179.61 L265.66,179.65 L266.16,179.68 L266.67,179.71 L267.17,179.74 L267.67,179.76 L268.17,179.78 L268.67,179.8 L269.17,179.81 L269.67,179.83 L270.17,179.84 L270.67,179.85 L271.17,179.85 L271.67,179.86 L272.17,179.87 L272.68,179.87 L273.18,179.88 L273.68,179.88 L274.18,179.88 L274.68,179.89 L275.18,179.89 L275.68,179.89 L276.18,179.89 L276.68,179.89 L277.18,179.89 L277.68,179.9 L278.18,179.9 L278.68,179.9 L279.19,179.9 L279.69,179.9 L280.19,179.9 L280.69,179.9 L281.19,179.9 L281.69,179.9 L282.19,179.9 L282.69,179.9 L283.19,179.9 L283.69,179.9 L284.19,179.9 L284.69,179.9 L285.2,179.9 L285.7,179.9 L286.2,179.9 L286.7,179.9 L287.2,179.9 L287.7,179.9 L288.2,179.9" stroke="#d03c50" stroke-width="1.10" stroke-dasharray="4.2,2.3"/>
<path d="M163,179.9 L163.5,179.9 L164,179.9 L164.5,179.9 L165,179.9 L165.5,179.9 L166,179.9 L166.51,179.9 L167.01,179.9 L167.51,179.9 L168.01,179.9 L168.51,179.9 L169.01,179.9 L169.51,179.9 L170.01,179.9 L170.51,179.9 L171.01,179.9 L171.51,179.9 L172.01,179.9 L172.52,179.89 L173.02,179.89 L173.52,179.89 L174.02,179.89 L174.52,179.89 L175.02,179.89 L175.52,179.88 L176.02,179.88 L176.52,179.88 L177.02,179.87 L177.52,179.87 L178.02,179.86 L178.52,179.85 L179.03,179.84 L179.53,179.83 L180.03,179.82 L180.53,179.81 L181.03,179.79 L181.53,179.77 L182.03,179.75 L182.53,179.72 L183.03,179.69 L183.53,179.66 L184.03,179.62 L184.53,179.58 L185.04,179.53 L185.54,179.47 L186.04,179.41 L186.54,179.33 L187.04,179.25 L187.54,179.16 L188.04,179.05 L188.54,178.94 L189.04,178.8 L189.54,178.66 L190.04,178.5 L190.54,178.32 L191.04,178.12 L191.55,177.89 L192.05,177.65 L192.55,177.38 L193.05,177.09 L193.55,176.77 L194.05,176.42 L194.55,176.03 L195.05,175.62 L195.55,175.17 L196.05,174.68 L196.55,174.15 L197.05,173.59 L197.56,172.98 L198.06,172.33 L198.56,171.63 L199.06,170.89 L199.56,170.1 L200.06,169.26 L200.56,168.38 L201.06,167.44 L201.56,166.46 L202.06,165.43 L202.56,164.35 L203.06,163.21 L203.56,162.04 L204.07,160.81 L204.57,159.54 L205.07,158.23 L205.57,156.88 L206.07,155.48 L206.57,154.06 L207.07,152.59 L207.57,151.1 L208.07,149.59 L208.57,148.05 L209.07,146.5 L209.57,144.93 L210.08,143.36 L210.58,141.78 L211.08,140.21 L211.58,138.64 L212.08,137.09 L212.58,135.55 L213.08,134.04 L213.58,132.56 L214.08,131.11 L214.58,129.7 L215.08,128.34 L215.58,127.03 L216.08,125.77 L216.59,124.57 L217.09,123.43 L217.59,122.36 L218.09,121.36 L218.59,120.43 L219.09,119.58 L219.59,118.81 L220.09,118.11 L220.59,117.5 L221.09,116.97 L221.59,116.51 L222.09,116.14 L222.6,115.84 L223.1,115.62 L223.6,115.48 L224.1,115.4 L224.6,115.38 L225.1,115.4 L225.6,115.47 L226.1,115.62 L226.6,115.83 L227.1,116.11 L227.6,116.47 L228.1,116.91 L228.6,117.43 L229.11,118.03 L229.61,118.7 L230.11,119.45 L230.61,120.28 L231.11,121.18 L231.61,122.15 L232.11,123.19 L232.61,124.29 L233.11,125.46 L233.61,126.69 L234.11,127.97 L234.61,129.3 L235.12,130.67 L235.62,132.09 L236.12,133.54 L236.62,135.02 L237.12,136.52 L237.62,138.05 L238.12,139.59 L238.62,141.14 L239.12,142.69 L239.62,144.24 L240.12,145.79 L240.62,147.33 L241.12,148.85 L241.63,150.36 L242.13,151.84 L242.63,153.29 L243.13,154.72 L243.63,156.11 L244.13,157.47 L244.63,158.78 L245.13,160.06 L245.63,161.29 L246.13,162.48 L246.63,163.63 L247.13,164.73 L247.64,165.78 L248.14,166.78 L248.64,167.73 L249.14,168.64 L249.64,169.5 L250.14,170.31 L250.64,171.08 L251.14,171.8 L251.64,172.47 L252.14,173.1 L252.64,173.7 L253.14,174.25 L253.64,174.76 L254.15,175.23 L254.65,175.67 L255.15,176.08 L255.65,176.45 L256.15,176.8 L256.65,177.11 L257.15,177.4 L257.65,177.66 L258.15,177.9 L258.65,178.12 L259.15,178.32 L259.65,178.49 L260.16,178.65 L260.66,178.8 L261.16,178.93 L261.66,179.05 L262.16,179.15 L262.66,179.24 L263.16,179.32 L263.66,179.4 L264.16,179.46 L264.66,179.52 L265.16,179.57 L265.66,179.61 L266.16,179.65 L266.67,179.69 L267.17,179.72 L267.67,179.74 L268.17,179.77 L268.67,179.79 L269.17,179.8 L269.67,179.82 L270.17,179.83 L270.67,179.84 L271.17,179.85 L271.67,179.86 L272.17,179.86 L272.68,179.87 L273.18,179.87 L273.68,179.88 L274.18,179.88 L274.68,179.89 L275.18,179.89 L275.68,179.89 L276.18,179.89 L276.68,179.89 L277.18,179.89 L277.68,179.9 L278.18,179.9 L278.68,179.9 L279.19,179.9 L279.69,179.9 L280.19,179.9 L280.69,179.9 L281.19,179.9 L281.69,179.9 L282.19,179.9 L282.69,179.9 L283.19,179.9 L283.69,179.9 L284.19,179.9 L284.69,179.9 L285.2,179.9 L285.7,179.9 L286.2,179.9 L286.7,179.9 L287.2,179.9 L287.7,179.9 L288.2,179.9" stroke="#d03c50" stroke-width="1.10"/>
<path d="M163,179.9 L163.5,179.9 L164,179.9 L164.5,179.9 L165,179.9 L165.5,179.9 L166,179.9 L166.51,179.9 L167.01,179.9 L167.51,179.9 L168.01,179.9 L168.51,179.9 L169.01,179.9 L169.51,179.9 L170.01,179.9 L170.51,179.9 L171.01,179.9 L171.51,179.9 L172.01,179.9 L172.52,179.89 L173.02,179.89 L173.52,179.89 L174.02,179.89 L174.52,179.89 L175.02,179.89 L175.52,179.88 L176.02,179.88 L176.52,179.88 L177.02,179.87 L177.52,179.87 L178.02,179.86 L178.52,179.85 L179.03,179.84 L179.53,179.83 L180.03,179.82 L180.53,179.81 L181.03,179.79 L181.53,179.77 L182.03,179.75 L182.53,179.73 L183.03,179.7 L183.53,179.67 L184.03,179.63 L184.53,179.59 L185.04,179.54 L185.54,179.49 L186.04,179.42 L186.54,179.35 L187.04,179.28 L187.54,179.19 L188.04,179.09 L188.54,178.98 L189.04,178.85 L189.54,178.71 L190.04,178.56 L190.54,178.39 L191.04,178.2 L191.55,177.99 L192.05,177.76 L192.55,177.51 L193.05,177.23 L193.55,176.93 L194.05,176.6 L194.55,176.23 L195.05,175.84 L195.55,175.42 L196.05,174.96 L196.55,174.46 L197.05,173.92 L197.56,173.35 L198.06,172.73 L198.56,172.07 L199.06,171.37 L199.56,170.62 L200.06,169.83 L200.56,168.99 L201.06,168.1 L201.56,167.17 L202.06,166.19 L202.56,165.16 L203.06,164.08 L203.56,162.95 L204.07,161.78 L204.57,160.56 L205.07,159.3 L205.57,158 L206.07,156.66 L206.57,155.29 L207.07,153.87 L207.57,152.43 L208.07,150.96 L208.57,149.46 L209.07,147.95 L209.57,146.42 L210.08,144.87 L210.58,143.32 L211.08,141.77 L211.58,140.21 L212.08,138.67 L212.58,137.14 L213.08,135.62 L213.58,134.13 L214.08,132.67 L214.58,131.24 L215.08,129.85 L215.58,128.5 L216.08,127.2 L216.59,125.95 L217.09,124.76 L217.59,123.63 L218.09,122.56 L218.59,121.56 L219.09,120.63 L219.59,119.77 L220.09,118.99 L220.59,118.29 L221.09,117.66 L221.59,117.11 L222.09,116.64 L222.6,116.25 L223.1,115.93 L223.6,115.69 L224.1,115.52 L224.6,115.42 L225.1,115.38 L225.6,115.38 L226.1,115.42 L226.6,115.52 L227.1,115.67 L227.6,115.88 L228.1,116.15 L228.6,116.49 L229.11,116.89 L229.61,117.36 L230.11,117.89 L230.61,118.49 L231.11,119.15 L231.61,119.87 L232.11,120.66 L232.61,121.51 L233.11,122.42 L233.61,123.38 L234.11,124.4 L234.61,125.48 L235.12,126.6 L235.62,127.76 L236.12,128.97 L236.62,130.21 L237.12,131.49 L237.62,132.81 L238.12,134.15 L238.62,135.51 L239.12,136.89 L239.62,138.29 L240.12,139.7 L240.62,141.12 L241.12,142.54 L241.63,143.96 L242.13,145.37 L242.63,146.78 L243.13,148.18 L243.63,149.57 L244.13,150.93 L244.63,152.28 L245.13,153.6 L245.63,154.9 L246.13,156.17 L246.63,157.41 L247.13,158.62 L247.64,159.79 L248.14,160.93 L248.64,162.03 L249.14,163.1 L249.64,164.12 L250.14,165.11 L250.64,166.06 L251.14,166.96 L251.64,167.83 L252.14,168.65 L252.64,169.44 L253.14,170.19 L253.64,170.9 L254.15,171.57 L254.65,172.2 L255.15,172.8 L255.65,173.36 L256.15,173.88 L256.65,174.38 L257.15,174.84 L257.65,175.27 L258.15,175.67 L258.65,176.04 L259.15,176.39 L259.65,176.71 L260.16,177 L260.66,177.28 L261.16,177.53 L261.66,177.76 L262.16,177.97 L262.66,178.16 L263.16,178.34 L263.66,178.5 L264.16,178.65 L264.66,178.78 L265.16,178.9 L265.66,179.01 L266.16,179.11 L266.67,179.2 L267.17,179.28 L267.67,179.35 L268.17,179.42 L268.67,179.47 L269.17,179.53 L269.67,179.57 L270.17,179.61 L270.67,179.65 L271.17,179.68 L271.67,179.71 L272.17,179.73 L272.68,179.75 L273.18,179.77 L273.68,179.79 L274.18,179.81 L274.68,179.82 L275.18,179.83 L275.68,179.84 L276.18,179.85 L276.68,179.86 L277.18,179.86 L277.68,179.87 L278.18,179.87 L278.68,179.88 L279.19,179.88 L279.69,179.88 L280.19,179.89 L280.69,179.89 L281.19,179.89 L281.69,179.89 L282.19,179.89 L282.69,179.89 L283.19,179.9 L283.69,179.9 L284.19,179.9 L284.69,179.9 L285.2,179.9 L285.7,179.9 L286.2,179.9 L286.7,179.9 L287.2,179.9 L287.7,179.9 L288.2,179.9" stroke="#d03c50" stroke-width="1.10" stroke-dasharray="4.2,1.8,1.2,1.8"/>
<path d="M163,179.9 L163.5,179.9 L164,179.9 L164.5,179.9 L165,179.9 L165.5,179.9 L166,179.9 L166.51,179.9 L167.01,179.9 L167.51,179.9 L168.01,179.9 L168.51,179.9 L169.01,179.9 L169.51,179.9 L170.01,179.9 L170.51,179.9 L171.01,179.9 L171.51,179.9 L172.01,179.9 L172.52,179.9 L173.02,179.9 L173.52,179.89 L174.02,179.89 L174.52,179.89 L175.02,179.89 L175.52,179.89 L176.02,179.88 L176.52,179.88 L177.02,179.88 L177.52,179.87 L178.02,179.87 L178.52,179.86 L179.03,179.85 L179.53,179.85 L180.03,179.83 L180.53,179.82 L181.03,179.81 L181.53,179.79 L182.03,179.77 L182.53,179.75 L183.03,179.72 L183.53,179.69 L184.03,179.66 L184.53,179.62 L185.04,179.58 L185.54,179.52 L186.04,179.47 L186.54,179.4 L187.04,179.32 L187.54,179.24 L188.04,179.14 L188.54,179.03 L189.04,178.91 L189.54,178.77 L190.04,178.62 L190.54,178.45 L191.04,178.25 L191.55,178.04 L192.05,177.81 L192.55,177.55 L193.05,177.27 L193.55,176.95 L194.05,176.61 L194.55,176.24 L195.05,175.83 L195.55,175.39 L196.05,174.91 L196.55,174.39 L197.05,173.83 L197.56,173.22 L198.06,172.57 L198.56,171.88 L199.06,171.14 L199.56,170.34 L200.06,169.5 L200.56,168.61 L201.06,167.67 L201.56,166.67 L202.06,165.63 L202.56,164.53 L203.06,163.38 L203.56,162.19 L204.07,160.94 L204.57,159.64 L205.07,158.31 L205.57,156.92 L206.07,155.5 L206.57,154.04 L207.07,152.55 L207.57,151.02 L208.07,149.47 L208.57,147.9 L209.07,146.31 L209.57,144.71 L210.08,143.1 L210.58,141.48 L211.08,139.88 L211.58,138.28 L212.08,136.69 L212.58,135.13 L213.08,133.59 L213.58,132.09 L214.08,130.62 L214.58,129.2 L215.08,127.82 L215.58,126.5 L216.08,125.24 L216.59,124.04 L217.09,122.91 L217.59,121.85 L218.09,120.86 L218.59,119.96 L219.09,119.13 L219.59,118.39 L220.09,117.73 L220.59,117.15 L221.09,116.66 L221.59,116.25 L222.09,115.92 L222.6,115.68 L223.1,115.51 L223.6,115.41 L224.1,115.38 L224.6,115.39 L225.1,115.46 L225.6,115.6 L226.1,115.81 L226.6,116.09 L227.1,116.46 L227.6,116.91 L228.1,117.45 L228.6,118.06 L229.11,118.76 L229.61,119.54 L230.11,120.4 L230.61,121.34 L231.11,122.36 L231.61,123.44 L232.11,124.6 L232.61,125.82 L233.11,127.1 L233.61,128.44 L234.11,129.82 L234.61,131.26 L235.12,132.73 L235.62,134.24 L236.12,135.77 L236.62,137.34 L237.12,138.91 L237.62,140.51 L238.12,142.1 L238.62,143.7 L239.12,145.3 L239.62,146.89 L240.12,148.46 L240.62,150.01 L241.12,151.54 L241.63,153.05 L242.13,154.52 L242.63,155.96 L243.13,157.36 L243.63,158.72 L244.13,160.03 L244.63,161.3 L245.13,162.53 L245.63,163.7 L246.13,164.83 L246.63,165.9 L247.13,166.93 L247.64,167.9 L248.14,168.83 L248.64,169.7 L249.14,170.52 L249.64,171.3 L250.14,172.03 L250.64,172.71 L251.14,173.34 L251.64,173.93 L252.14,174.48 L252.64,174.99 L253.14,175.46 L253.64,175.9 L254.15,176.3 L254.65,176.66 L255.15,177 L255.65,177.3 L256.15,177.58 L256.65,177.84 L257.15,178.07 L257.65,178.27 L258.15,178.46 L258.65,178.63 L259.15,178.78 L259.65,178.92 L260.16,179.04 L260.66,179.14 L261.16,179.24 L261.66,179.33 L262.16,179.4 L262.66,179.47 L263.16,179.52 L263.66,179.58 L264.16,179.62 L264.66,179.66 L265.16,179.69 L265.66,179.72 L266.16,179.75 L266.67,179.77 L267.17,179.79 L267.67,179.81 L268.17,179.82 L268.67,179.83 L269.17,179.84 L269.67,179.85 L270.17,179.86 L270.67,179.87 L271.17,179.87 L271.67,179.88 L272.17,179.88 L272.68,179.88 L273.18,179.89 L273.68,179.89 L274.18,179.89 L274.68,179.89 L275.18,179.89 L275.68,179.9 L276.18,179.9 L276.68,179.9 L277.18,179.9 L277.68,179.9 L278.18,179.9 L278.68,179.9 L279.19,179.9 L279.69,179.9 L280.19,179.9 L280.69,179.9 L281.19,179.9 L281.69,179.9 L282.19,179.9 L282.69,179.9 L283.19,179.9 L283.69,179.9 L284.19,179.9 L284.69,179.9 L285.2,179.9 L285.7,179.9 L286.2,179.9 L286.7,179.9 L287.2,179.9 L287.7,179.9 L288.2,179.9" stroke="#353a38" stroke-width="1.10"/>
</g>
<path d="M183.87,179.9v-2 M183.87,108.6v2 M204.73,179.9v-2 M204.73,108.6v2 M225.6,179.9v-2 M225.6,108.6v2 M246.47,179.9v-2 M246.47,108.6v2 M267.33,179.9v-2 M267.33,108.6v2 M163,115.38h2.2 M288.2,115.38h-2.2" stroke="#2a2a2a" stroke-width="1" fill="none"/>
<rect x="163" y="108.6" width="125.2" height="71.3" fill="none" stroke="#2a2a2a" stroke-width="1.1"/>
<clipPath id="c12"><rect x="313" y="108.6" width="125" height="71.3"/></clipPath>
<g clip-path="url(#c12)" fill="none" stroke-linejoin="round">
<path d="M313,179.89 L313.5,179.88 L314,179.88 L314.5,179.88 L315,179.87 L315.5,179.87 L316,179.86 L316.5,179.86 L317,179.85 L317.5,179.84 L318,179.83 L318.5,179.82 L319,179.81 L319.5,179.79 L320,179.78 L320.5,179.76 L321,179.74 L321.5,179.71 L322,179.68 L322.5,179.65 L323,179.62 L323.5,179.58 L324,179.53 L324.5,179.48 L325,179.42 L325.5,179.36 L326,179.29 L326.5,179.21 L327,179.12 L327.5,179.02 L328,178.91 L328.5,178.79 L329,178.66 L329.5,178.51 L330,178.35 L330.5,178.17 L331,177.98 L331.5,177.77 L332,177.54 L332.5,177.28 L333,177.01 L333.5,176.71 L334,176.39 L334.5,176.04 L335,175.67 L335.5,175.26 L336,174.83 L336.5,174.37 L337,173.87 L337.5,173.34 L338,172.77 L338.5,172.17 L339,171.53 L339.5,170.85 L340,170.14 L340.5,169.38 L341,168.59 L341.5,167.75 L342,166.88 L342.5,165.96 L343,165.01 L343.5,164.01 L344,162.97 L344.5,161.9 L345,160.78 L345.5,159.63 L346,158.45 L346.5,157.23 L347,155.97 L347.5,154.69 L348,153.38 L348.5,152.04 L349,150.68 L349.5,149.3 L350,147.91 L350.5,146.5 L351,145.08 L351.5,143.65 L352,142.22 L352.5,140.79 L353,139.37 L353.5,137.95 L354,136.55 L354.5,135.16 L355,133.8 L355.5,132.46 L356,131.14 L356.5,129.86 L357,128.62 L357.5,127.42 L358,126.26 L358.5,125.15 L359,124.08 L359.5,123.07 L360,122.12 L360.5,121.23 L361,120.39 L361.5,119.62 L362,118.91 L362.5,118.27 L363,117.69 L363.5,117.18 L364,116.73 L364.5,116.35 L365,116.04 L365.5,115.79 L366,115.6 L366.5,115.47 L367,115.4 L367.5,115.38 L368,115.39 L368.5,115.45 L369,115.57 L369.5,115.75 L370,116 L370.5,116.32 L371,116.71 L371.5,117.17 L372,117.7 L372.5,118.3 L373,118.98 L373.5,119.73 L374,120.54 L374.5,121.43 L375,122.38 L375.5,123.39 L376,124.46 L376.5,125.59 L377,126.77 L377.5,128 L378,129.28 L378.5,130.6 L379,131.95 L379.5,133.34 L380,134.76 L380.5,136.2 L381,137.66 L381.5,139.13 L382,140.61 L382.5,142.1 L383,143.6 L383.5,145.08 L384,146.57 L384.5,148.03 L385,149.49 L385.5,150.92 L386,152.34 L386.5,153.72 L387,155.08 L387.5,156.41 L388,157.71 L388.5,158.96 L389,160.18 L389.5,161.37 L390,162.51 L390.5,163.6 L391,164.66 L391.5,165.67 L392,166.64 L392.5,167.56 L393,168.44 L393.5,169.28 L394,170.07 L394.5,170.82 L395,171.52 L395.5,172.19 L396,172.82 L396.5,173.4 L397,173.95 L397.5,174.46 L398,174.94 L398.5,175.38 L399,175.8 L399.5,176.18 L400,176.53 L400.5,176.85 L401,177.15 L401.5,177.42 L402,177.68 L402.5,177.9 L403,178.11 L403.5,178.3 L404,178.48 L404.5,178.63 L405,178.77 L405.5,178.9 L406,179.01 L406.5,179.12 L407,179.21 L407.5,179.29 L408,179.37 L408.5,179.43 L409,179.49 L409.5,179.54 L410,179.59 L410.5,179.63 L411,179.66 L411.5,179.7 L412,179.72 L412.5,179.75 L413,179.77 L413.5,179.79 L414,179.8 L414.5,179.82 L415,179.83 L415.5,179.84 L416,179.85 L416.5,179.86 L417,179.86 L417.5,179.87 L418,179.87 L418.5,179.88 L419,179.88 L419.5,179.88 L420,179.89 L420.5,179.89 L421,179.89 L421.5,179.89 L422,179.89 L422.5,179.89 L423,179.9 L423.5,179.9 L424,179.9 L424.5,179.9 L425,179.9 L425.5,179.9 L426,179.9 L426.5,179.9 L427,179.9 L427.5,179.9 L428,179.9 L428.5,179.9 L429,179.9 L429.5,179.9 L430,179.9 L430.5,179.9 L431,179.9 L431.5,179.9 L432,179.9 L432.5,179.9 L433,179.9 L433.5,179.9 L434,179.9 L434.5,179.9 L435,179.9 L435.5,179.9 L436,179.9 L436.5,179.9 L437,179.9 L437.5,179.9 L438,179.9" stroke="#d03c50" stroke-width="1.10"/>
<path d="M313,179.9 L313.5,179.9 L314,179.9 L314.5,179.9 L315,179.9 L315.5,179.9 L316,179.89 L316.5,179.89 L317,179.89 L317.5,179.89 L318,179.89 L318.5,179.89 L319,179.88 L319.5,179.88 L320,179.88 L320.5,179.87 L321,179.87 L321.5,179.86 L322,179.85 L322.5,179.84 L323,179.83 L323.5,179.82 L324,179.81 L324.5,179.79 L325,179.77 L325.5,179.75 L326,179.73 L326.5,179.7 L327,179.67 L327.5,179.63 L328,179.59 L328.5,179.55 L329,179.49 L329.5,179.44 L330,179.37 L330.5,179.29 L331,179.21 L331.5,179.12 L332,179.01 L332.5,178.89 L333,178.76 L333.5,178.62 L334,178.46 L334.5,178.28 L335,178.08 L335.5,177.87 L336,177.63 L336.5,177.37 L337,177.09 L337.5,176.78 L338,176.44 L338.5,176.07 L339,175.68 L339.5,175.25 L340,174.79 L340.5,174.29 L341,173.75 L341.5,173.18 L342,172.57 L342.5,171.91 L343,171.22 L343.5,170.48 L344,169.69 L344.5,168.87 L345,167.99 L345.5,167.07 L346,166.11 L346.5,165.1 L347,164.04 L347.5,162.94 L348,161.8 L348.5,160.61 L349,159.38 L349.5,158.11 L350,156.81 L350.5,155.46 L351,154.09 L351.5,152.68 L352,151.25 L352.5,149.79 L353,148.31 L353.5,146.82 L354,145.31 L354.5,143.8 L355,142.28 L355.5,140.76 L356,139.25 L356.5,137.75 L357,136.26 L357.5,134.79 L358,133.35 L358.5,131.94 L359,130.56 L359.5,129.22 L360,127.92 L360.5,126.67 L361,125.47 L361.5,124.33 L362,123.25 L362.5,122.22 L363,121.27 L363.5,120.38 L364,119.56 L364.5,118.82 L365,118.15 L365.5,117.55 L366,117.03 L366.5,116.58 L367,116.21 L367.5,115.91 L368,115.68 L368.5,115.52 L369,115.42 L369.5,115.38 L370,115.38 L370.5,115.43 L371,115.54 L371.5,115.71 L372,115.94 L372.5,116.25 L373,116.62 L373.5,117.07 L374,117.6 L374.5,118.19 L375,118.86 L375.5,119.59 L376,120.4 L376.5,121.28 L377,122.22 L377.5,123.23 L378,124.3 L378.5,125.42 L379,126.6 L379.5,127.83 L380,129.1 L380.5,130.42 L381,131.78 L381.5,133.17 L382,134.59 L382.5,136.03 L383,137.5 L383.5,138.97 L384,140.46 L384.5,141.96 L385,143.46 L385.5,144.95 L386,146.44 L386.5,147.92 L387,149.38 L387.5,150.82 L388,152.24 L388.5,153.64 L389,155 L389.5,156.34 L390,157.64 L390.5,158.91 L391,160.13 L391.5,161.32 L392,162.47 L392.5,163.57 L393,164.63 L393.5,165.65 L394,166.62 L394.5,167.55 L395,168.43 L395.5,169.27 L396,170.07 L396.5,170.82 L397,171.53 L397.5,172.2 L398,172.83 L398.5,173.41 L399,173.96 L399.5,174.48 L400,174.96 L400.5,175.4 L401,175.81 L401.5,176.19 L402,176.55 L402.5,176.87 L403,177.17 L403.5,177.44 L404,177.69 L404.5,177.92 L405,178.13 L405.5,178.32 L406,178.49 L406.5,178.64 L407,178.78 L407.5,178.91 L408,179.03 L408.5,179.13 L409,179.22 L409.5,179.3 L410,179.37 L410.5,179.44 L411,179.5 L411.5,179.55 L412,179.59 L412.5,179.63 L413,179.67 L413.5,179.7 L414,179.73 L414.5,179.75 L415,179.77 L415.5,179.79 L416,179.81 L416.5,179.82 L417,179.83 L417.5,179.84 L418,179.85 L418.5,179.86 L419,179.86 L419.5,179.87 L420,179.87 L420.5,179.88 L421,179.88 L421.5,179.88 L422,179.89 L422.5,179.89 L423,179.89 L423.5,179.89 L424,179.89 L424.5,179.89 L425,179.9 L425.5,179.9 L426,179.9 L426.5,179.9 L427,179.9 L427.5,179.9 L428,179.9 L428.5,179.9 L429,179.9 L429.5,179.9 L430,179.9 L430.5,179.9 L431,179.9 L431.5,179.9 L432,179.9 L432.5,179.9 L433,179.9 L433.5,179.9 L434,179.9 L434.5,179.9 L435,179.9 L435.5,179.9 L436,179.9 L436.5,179.9 L437,179.9 L437.5,179.9 L438,179.9" stroke="#d03c50" stroke-width="1.10" stroke-dasharray="4.2,1.8,1.2,1.8"/>
<path d="M313,179.9 L313.5,179.9 L314,179.9 L314.5,179.9 L315,179.9 L315.5,179.9 L316,179.89 L316.5,179.89 L317,179.89 L317.5,179.89 L318,179.89 L318.5,179.88 L319,179.88 L319.5,179.88 L320,179.87 L320.5,179.87 L321,179.86 L321.5,179.86 L322,179.85 L322.5,179.84 L323,179.83 L323.5,179.82 L324,179.8 L324.5,179.79 L325,179.77 L325.5,179.75 L326,179.72 L326.5,179.69 L327,179.66 L327.5,179.62 L328,179.58 L328.5,179.53 L329,179.48 L329.5,179.42 L330,179.35 L330.5,179.27 L331,179.18 L331.5,179.09 L332,178.98 L332.5,178.86 L333,178.72 L333.5,178.57 L334,178.41 L334.5,178.22 L335,178.02 L335.5,177.8 L336,177.55 L336.5,177.29 L337,176.99 L337.5,176.68 L338,176.33 L338.5,175.95 L339,175.55 L339.5,175.11 L340,174.63 L340.5,174.12 L341,173.57 L341.5,172.99 L342,172.36 L342.5,171.69 L343,170.98 L343.5,170.23 L344,169.43 L344.5,168.58 L345,167.69 L345.5,166.76 L346,165.78 L346.5,164.75 L347,163.68 L347.5,162.56 L348,161.4 L348.5,160.2 L349,158.95 L349.5,157.67 L350,156.35 L350.5,154.99 L351,153.6 L351.5,152.18 L352,150.74 L352.5,149.27 L353,147.79 L353.5,146.29 L354,144.78 L354.5,143.26 L355,141.74 L355.5,140.22 L356,138.71 L356.5,137.21 L357,135.72 L357.5,134.26 L358,132.83 L358.5,131.42 L359,130.06 L359.5,128.73 L360,127.45 L360.5,126.21 L361,125.04 L361.5,123.91 L362,122.85 L362.5,121.85 L363,120.92 L363.5,120.06 L364,119.27 L364.5,118.55 L365,117.91 L365.5,117.34 L366,116.84 L366.5,116.42 L367,116.08 L367.5,115.81 L368,115.61 L368.5,115.47 L369,115.4 L369.5,115.38 L370,115.4 L370.5,115.47 L371,115.61 L371.5,115.81 L372,116.08 L372.5,116.42 L373,116.84 L373.5,117.34 L374,117.91 L374.5,118.55 L375,119.27 L375.5,120.06 L376,120.92 L376.5,121.85 L377,122.85 L377.5,123.91 L378,125.04 L378.5,126.21 L379,127.45 L379.5,128.73 L380,130.06 L380.5,131.42 L381,132.83 L381.5,134.26 L382,135.72 L382.5,137.21 L383,138.71 L383.5,140.22 L384,141.74 L384.5,143.26 L385,144.78 L385.5,146.29 L386,147.79 L386.5,149.27 L387,150.74 L387.5,152.18 L388,153.6 L388.5,154.99 L389,156.35 L389.5,157.67 L390,158.95 L390.5,160.2 L391,161.4 L391.5,162.56 L392,163.68 L392.5,164.75 L393,165.78 L393.5,166.76 L394,167.69 L394.5,168.58 L395,169.43 L395.5,170.23 L396,170.98 L396.5,171.69 L397,172.36 L397.5,172.99 L398,173.57 L398.5,174.12 L399,174.63 L399.5,175.11 L400,175.55 L400.5,175.95 L401,176.33 L401.5,176.68 L402,176.99 L402.5,177.29 L403,177.55 L403.5,177.8 L404,178.02 L404.5,178.22 L405,178.41 L405.5,178.57 L406,178.72 L406.5,178.86 L407,178.98 L407.5,179.09 L408,179.18 L408.5,179.27 L409,179.35 L409.5,179.42 L410,179.48 L410.5,179.53 L411,179.58 L411.5,179.62 L412,179.66 L412.5,179.69 L413,179.72 L413.5,179.75 L414,179.77 L414.5,179.79 L415,179.8 L415.5,179.82 L416,179.83 L416.5,179.84 L417,179.85 L417.5,179.86 L418,179.86 L418.5,179.87 L419,179.87 L419.5,179.88 L420,179.88 L420.5,179.88 L421,179.89 L421.5,179.89 L422,179.89 L422.5,179.89 L423,179.89 L423.5,179.9 L424,179.9 L424.5,179.9 L425,179.9 L425.5,179.9 L426,179.9 L426.5,179.9 L427,179.9 L427.5,179.9 L428,179.9 L428.5,179.9 L429,179.9 L429.5,179.9 L430,179.9 L430.5,179.9 L431,179.9 L431.5,179.9 L432,179.9 L432.5,179.9 L433,179.9 L433.5,179.9 L434,179.9 L434.5,179.9 L435,179.9 L435.5,179.9 L436,179.9 L436.5,179.9 L437,179.9 L437.5,179.9 L438,179.9" stroke="#353a38" stroke-width="1.10"/>
<path d="M313,179.9 L313.5,179.9 L314,179.9 L314.5,179.9 L315,179.9 L315.5,179.9 L316,179.9 L316.5,179.9 L317,179.9 L317.5,179.9 L318,179.9 L318.5,179.9 L319,179.89 L319.5,179.89 L320,179.89 L320.5,179.89 L321,179.89 L321.5,179.89 L322,179.88 L322.5,179.88 L323,179.88 L323.5,179.87 L324,179.87 L324.5,179.87 L325,179.86 L325.5,179.85 L326,179.85 L326.5,179.84 L327,179.83 L327.5,179.82 L328,179.8 L328.5,179.79 L329,179.77 L329.5,179.75 L330,179.73 L330.5,179.71 L331,179.68 L331.5,179.65 L332,179.61 L332.5,179.58 L333,179.53 L333.5,179.48 L334,179.43 L334.5,179.37 L335,179.3 L335.5,179.23 L336,179.14 L336.5,179.05 L337,178.95 L337.5,178.84 L338,178.72 L338.5,178.58 L339,178.43 L339.5,178.27 L340,178.1 L340.5,177.9 L341,177.69 L341.5,177.47 L342,177.22 L342.5,176.95 L343,176.66 L343.5,176.35 L344,176.02 L344.5,175.66 L345,175.27 L345.5,174.85 L346,174.41 L346.5,173.94 L347,173.43 L347.5,172.9 L348,172.33 L348.5,171.73 L349,171.09 L349.5,170.42 L350,169.71 L350.5,168.97 L351,168.19 L351.5,167.37 L352,166.51 L352.5,165.62 L353,164.69 L353.5,163.73 L354,162.72 L354.5,161.69 L355,160.61 L355.5,159.5 L356,158.37 L356.5,157.19 L357,155.99 L357.5,154.77 L358,153.51 L358.5,152.24 L359,150.94 L359.5,149.62 L360,148.28 L360.5,146.94 L361,145.58 L361.5,144.21 L362,142.85 L362.5,141.48 L363,140.11 L363.5,138.75 L364,137.39 L364.5,136.06 L365,134.73 L365.5,133.43 L366,132.15 L366.5,130.9 L367,129.68 L367.5,128.49 L368,127.35 L368.5,126.24 L369,125.17 L369.5,124.15 L370,123.18 L370.5,122.26 L371,121.39 L371.5,120.58 L372,119.82 L372.5,119.13 L373,118.49 L373.5,117.91 L374,117.4 L374.5,116.94 L375,116.55 L375.5,116.21 L376,115.94 L376.5,115.72 L377,115.56 L377.5,115.45 L378,115.39 L378.5,115.38 L379,115.4 L379.5,115.48 L380,115.64 L380.5,115.87 L381,116.18 L381.5,116.58 L382,117.06 L382.5,117.62 L383,118.27 L383.5,119.01 L384,119.82 L384.5,120.72 L385,121.7 L385.5,122.75 L386,123.88 L386.5,125.07 L387,126.33 L387.5,127.65 L388,129.03 L388.5,130.45 L389,131.92 L389.5,133.43 L390,134.97 L390.5,136.54 L391,138.13 L391.5,139.73 L392,141.35 L392.5,142.96 L393,144.58 L393.5,146.19 L394,147.79 L394.5,149.37 L395,150.93 L395.5,152.46 L396,153.97 L396.5,155.43 L397,156.86 L397.5,158.25 L398,159.6 L398.5,160.9 L399,162.16 L399.5,163.36 L400,164.51 L400.5,165.62 L401,166.67 L401.5,167.67 L402,168.61 L402.5,169.51 L403,170.35 L403.5,171.15 L404,171.89 L404.5,172.59 L405,173.24 L405.5,173.85 L406,174.41 L406.5,174.93 L407,175.41 L407.5,175.85 L408,176.26 L408.5,176.63 L409,176.98 L409.5,177.29 L410,177.57 L410.5,177.83 L411,178.06 L411.5,178.27 L412,178.46 L412.5,178.63 L413,178.78 L413.5,178.92 L414,179.04 L414.5,179.15 L415,179.25 L415.5,179.33 L416,179.41 L416.5,179.47 L417,179.53 L417.5,179.58 L418,179.63 L418.5,179.67 L419,179.7 L419.5,179.73 L420,179.75 L420.5,179.78 L421,179.79 L421.5,179.81 L422,179.82 L422.5,179.84 L423,179.85 L423.5,179.86 L424,179.86 L424.5,179.87 L425,179.87 L425.5,179.88 L426,179.88 L426.5,179.89 L427,179.89 L427.5,179.89 L428,179.89 L428.5,179.89 L429,179.89 L429.5,179.9 L430,179.9 L430.5,179.9 L431,179.9 L431.5,179.9 L432,179.9 L432.5,179.9 L433,179.9 L433.5,179.9 L434,179.9 L434.5,179.9 L435,179.9 L435.5,179.9 L436,179.9 L436.5,179.9 L437,179.9 L437.5,179.9 L438,179.9" stroke="#d03c50" stroke-width="1.10" stroke-dasharray="4.2,2.3"/>
</g>
<path d="M333.83,179.9v-2 M333.83,108.6v2 M354.67,179.9v-2 M354.67,108.6v2 M375.5,179.9v-2 M375.5,108.6v2 M396.33,179.9v-2 M396.33,108.6v2 M417.17,179.9v-2 M417.17,108.6v2 M313,115.38h2.2 M438,115.38h-2.2" stroke="#2a2a2a" stroke-width="1" fill="none"/>
<rect x="313" y="108.6" width="125" height="71.3" fill="none" stroke="#2a2a2a" stroke-width="1.1"/>
<clipPath id="c13"><rect x="467" y="108.6" width="125.2" height="71.3"/></clipPath>
<g clip-path="url(#c13)" fill="none" stroke-linejoin="round">
<path d="M467,179.9 L467.5,179.9 L468,179.9 L468.5,179.9 L469,179.9 L469.5,179.9 L470,179.9 L470.51,179.9 L471.01,179.9 L471.51,179.9 L472.01,179.9 L472.51,179.9 L473.01,179.9 L473.51,179.9 L474.01,179.9 L474.51,179.9 L475.01,179.89 L475.51,179.89 L476.01,179.89 L476.52,179.89 L477.02,179.89 L477.52,179.89 L478.02,179.88 L478.52,179.88 L479.02,179.88 L479.52,179.87 L480.02,179.87 L480.52,179.86 L481.02,179.86 L481.52,179.85 L482.02,179.84 L482.52,179.83 L483.03,179.82 L483.53,179.8 L484.03,179.79 L484.53,179.77 L485.03,179.75 L485.53,179.73 L486.03,179.7 L486.53,179.67 L487.03,179.63 L487.53,179.59 L488.03,179.55 L488.53,179.49 L489.04,179.44 L489.54,179.37 L490.04,179.3 L490.54,179.22 L491.04,179.13 L491.54,179.02 L492.04,178.91 L492.54,178.79 L493.04,178.65 L493.54,178.49 L494.04,178.32 L494.54,178.13 L495.04,177.93 L495.55,177.7 L496.05,177.46 L496.55,177.19 L497.05,176.89 L497.55,176.57 L498.05,176.23 L498.55,175.85 L499.05,175.44 L499.55,175.01 L500.05,174.53 L500.55,174.03 L501.05,173.49 L501.56,172.91 L502.06,172.29 L502.56,171.63 L503.06,170.94 L503.56,170.2 L504.06,169.41 L504.56,168.59 L505.06,167.72 L505.56,166.81 L506.06,165.85 L506.56,164.85 L507.06,163.81 L507.56,162.72 L508.07,161.59 L508.57,160.42 L509.07,159.21 L509.57,157.97 L510.07,156.68 L510.57,155.37 L511.07,154.02 L511.57,152.64 L512.07,151.24 L512.57,149.81 L513.07,148.37 L513.57,146.91 L514.08,145.43 L514.58,143.95 L515.08,142.46 L515.58,140.98 L516.08,139.5 L516.58,138.02 L517.08,136.57 L517.58,135.12 L518.08,133.71 L518.58,132.31 L519.08,130.95 L519.58,129.63 L520.08,128.35 L520.59,127.11 L521.09,125.91 L521.59,124.77 L522.09,123.69 L522.59,122.66 L523.09,121.7 L523.59,120.8 L524.09,119.96 L524.59,119.2 L525.09,118.5 L525.59,117.88 L526.09,117.32 L526.6,116.84 L527.1,116.43 L527.6,116.09 L528.1,115.82 L528.6,115.62 L529.1,115.48 L529.6,115.4 L530.1,115.38 L530.6,115.39 L531.1,115.44 L531.6,115.55 L532.1,115.72 L532.6,115.95 L533.11,116.24 L533.61,116.6 L534.11,117.02 L534.61,117.51 L535.11,118.07 L535.61,118.69 L536.11,119.38 L536.61,120.13 L537.11,120.95 L537.61,121.82 L538.11,122.76 L538.61,123.75 L539.12,124.8 L539.62,125.9 L540.12,127.04 L540.62,128.23 L541.12,129.46 L541.62,130.73 L542.12,132.04 L542.62,133.37 L543.12,134.73 L543.62,136.11 L544.12,137.51 L544.62,138.93 L545.12,140.35 L545.63,141.78 L546.13,143.21 L546.63,144.64 L547.13,146.06 L547.63,147.48 L548.13,148.88 L548.63,150.27 L549.13,151.63 L549.63,152.98 L550.13,154.3 L550.63,155.59 L551.13,156.85 L551.64,158.09 L552.14,159.28 L552.64,160.45 L553.14,161.57 L553.64,162.66 L554.14,163.71 L554.64,164.72 L555.14,165.69 L555.64,166.62 L556.14,167.5 L556.64,168.35 L557.14,169.16 L557.64,169.93 L558.15,170.65 L558.65,171.34 L559.15,171.99 L559.65,172.6 L560.15,173.18 L560.65,173.72 L561.15,174.23 L561.65,174.7 L562.15,175.15 L562.65,175.56 L563.15,175.94 L563.65,176.3 L564.16,176.63 L564.66,176.93 L565.16,177.21 L565.66,177.47 L566.16,177.71 L566.66,177.92 L567.16,178.12 L567.66,178.31 L568.16,178.47 L568.66,178.62 L569.16,178.76 L569.66,178.88 L570.16,178.99 L570.67,179.1 L571.17,179.19 L571.67,179.27 L572.17,179.34 L572.67,179.41 L573.17,179.47 L573.67,179.52 L574.17,179.57 L574.67,179.61 L575.17,179.64 L575.67,179.68 L576.17,179.71 L576.68,179.73 L577.18,179.75 L577.68,179.77 L578.18,179.79 L578.68,179.81 L579.18,179.82 L579.68,179.83 L580.18,179.84 L580.68,179.85 L581.18,179.86 L581.68,179.86 L582.18,179.87 L582.68,179.87 L583.19,179.88 L583.69,179.88 L584.19,179.88 L584.69,179.89 L585.19,179.89 L585.69,179.89 L586.19,179.89 L586.69,179.89 L587.19,179.89 L587.69,179.9 L588.19,179.9 L588.69,179.9 L589.2,179.9 L589.7,179.9 L590.2,179.9 L590.7,179.9 L591.2,179.9 L591.7,179.9 L592.2,179.9" stroke="#d03c50" stroke-width="1.10"/>
<path d="M467,179.88 L467.5,179.87 L468,179.87 L468.5,179.86 L469,179.86 L469.5,179.85 L470,179.84 L470.51,179.84 L471.01,179.83 L471.51,179.81 L472.01,179.8 L472.51,179.79 L473.01,179.77 L473.51,179.75 L474.01,179.73 L474.51,179.71 L475.01,179.68 L475.51,179.66 L476.01,179.62 L476.52,179.59 L477.02,179.55 L477.52,179.5 L478.02,179.45 L478.52,179.4 L479.02,179.34 L479.52,179.27 L480.02,179.19 L480.52,179.11 L481.02,179.02 L481.52,178.92 L482.02,178.81 L482.52,178.69 L483.03,178.56 L483.53,178.41 L484.03,178.26 L484.53,178.09 L485.03,177.9 L485.53,177.7 L486.03,177.48 L486.53,177.25 L487.03,176.99 L487.53,176.72 L488.03,176.42 L488.53,176.11 L489.04,175.77 L489.54,175.4 L490.04,175.01 L490.54,174.6 L491.04,174.16 L491.54,173.69 L492.04,173.19 L492.54,172.66 L493.04,172.11 L493.54,171.52 L494.04,170.89 L494.54,170.24 L495.04,169.55 L495.55,168.83 L496.05,168.07 L496.55,167.28 L497.05,166.46 L497.55,165.6 L498.05,164.71 L498.55,163.78 L499.05,162.82 L499.55,161.83 L500.05,160.8 L500.55,159.75 L501.05,158.66 L501.56,157.54 L502.06,156.4 L502.56,155.23 L503.06,154.04 L503.56,152.82 L504.06,151.58 L504.56,150.33 L505.06,149.05 L505.56,147.77 L506.06,146.47 L506.56,145.16 L507.06,143.85 L507.56,142.54 L508.07,141.22 L508.57,139.91 L509.07,138.6 L509.57,137.31 L510.07,136.02 L510.57,134.75 L511.07,133.5 L511.57,132.27 L512.07,131.07 L512.57,129.89 L513.07,128.74 L513.57,127.63 L514.08,126.56 L514.58,125.52 L515.08,124.53 L515.58,123.57 L516.08,122.67 L516.58,121.81 L517.08,121 L517.58,120.25 L518.08,119.55 L518.58,118.9 L519.08,118.31 L519.58,117.77 L520.08,117.29 L520.59,116.86 L521.09,116.49 L521.59,116.18 L522.09,115.92 L522.59,115.71 L523.09,115.56 L523.59,115.45 L524.09,115.39 L524.59,115.38 L525.09,115.39 L525.59,115.45 L526.09,115.57 L526.6,115.75 L527.1,116 L527.6,116.31 L528.1,116.7 L528.6,117.15 L529.1,117.68 L529.6,118.27 L530.1,118.94 L530.6,119.68 L531.1,120.48 L531.6,121.35 L532.1,122.28 L532.6,123.28 L533.11,124.34 L533.61,125.45 L534.11,126.61 L534.61,127.82 L535.11,129.08 L535.61,130.38 L536.11,131.72 L536.61,133.09 L537.11,134.49 L537.61,135.91 L538.11,137.35 L538.61,138.81 L539.12,140.28 L539.62,141.75 L540.12,143.23 L540.62,144.71 L541.12,146.18 L541.62,147.64 L542.12,149.08 L542.62,150.51 L543.12,151.91 L543.62,153.3 L544.12,154.65 L544.62,155.98 L545.12,157.27 L545.63,158.53 L546.13,159.75 L546.63,160.94 L547.13,162.08 L547.63,163.19 L548.13,164.25 L548.63,165.27 L549.13,166.24 L549.63,167.18 L550.13,168.07 L550.63,168.91 L551.13,169.72 L551.64,170.48 L552.14,171.2 L552.64,171.88 L553.14,172.52 L553.64,173.12 L554.14,173.68 L554.64,174.2 L555.14,174.69 L555.64,175.15 L556.14,175.58 L556.64,175.97 L557.14,176.33 L557.64,176.67 L558.15,176.98 L558.65,177.27 L559.15,177.53 L559.65,177.77 L560.15,177.99 L560.65,178.19 L561.15,178.37 L561.65,178.53 L562.15,178.68 L562.65,178.82 L563.15,178.94 L563.65,179.05 L564.16,179.15 L564.66,179.24 L565.16,179.32 L565.66,179.39 L566.16,179.45 L566.66,179.5 L567.16,179.55 L567.66,179.6 L568.16,179.64 L568.66,179.67 L569.16,179.7 L569.66,179.73 L570.16,179.75 L570.67,179.77 L571.17,179.79 L571.67,179.81 L572.17,179.82 L572.67,179.83 L573.17,179.84 L573.67,179.85 L574.17,179.86 L574.67,179.86 L575.17,179.87 L575.67,179.87 L576.17,179.88 L576.68,179.88 L577.18,179.88 L577.68,179.89 L578.18,179.89 L578.68,179.89 L579.18,179.89 L579.68,179.89 L580.18,179.89 L580.68,179.9 L581.18,179.9 L581.68,179.9 L582.18,179.9 L582.68,179.9 L583.19,179.9 L583.69,179.9 L584.19,179.9 L584.69,179.9 L585.19,179.9 L585.69,179.9 L586.19,179.9 L586.69,179.9 L587.19,179.9 L587.69,179.9 L588.19,179.9 L588.69,179.9 L589.2,179.9 L589.7,179.9 L590.2,179.9 L590.7,179.9 L591.2,179.9 L591.7,179.9 L592.2,179.9" stroke="#d03c50" stroke-width="1.10" stroke-dasharray="4.2,2.3"/>
<path d="M467,179.9 L467.5,179.9 L468,179.9 L468.5,179.9 L469,179.9 L469.5,179.9 L470,179.9 L470.51,179.9 L471.01,179.9 L471.51,179.9 L472.01,179.9 L472.51,179.9 L473.01,179.9 L473.51,179.9 L474.01,179.9 L474.51,179.9 L475.01,179.9 L475.51,179.9 L476.01,179.89 L476.52,179.89 L477.02,179.89 L477.52,179.89 L478.02,179.89 L478.52,179.89 L479.02,179.88 L479.52,179.88 L480.02,179.88 L480.52,179.87 L481.02,179.87 L481.52,179.86 L482.02,179.85 L482.52,179.84 L483.03,179.83 L483.53,179.82 L484.03,179.81 L484.53,179.79 L485.03,179.77 L485.53,179.75 L486.03,179.73 L486.53,179.7 L487.03,179.66 L487.53,179.63 L488.03,179.59 L488.53,179.54 L489.04,179.48 L489.54,179.42 L490.04,179.35 L490.54,179.27 L491.04,179.19 L491.54,179.09 L492.04,178.98 L492.54,178.86 L493.04,178.72 L493.54,178.57 L494.04,178.4 L494.54,178.21 L495.04,178 L495.55,177.78 L496.05,177.53 L496.55,177.26 L497.05,176.96 L497.55,176.63 L498.05,176.28 L498.55,175.89 L499.05,175.47 L499.55,175.02 L500.05,174.53 L500.55,174.01 L501.05,173.44 L501.56,172.84 L502.06,172.19 L502.56,171.51 L503.06,170.77 L503.56,170 L504.06,169.17 L504.56,168.3 L505.06,167.39 L505.56,166.42 L506.06,165.41 L506.56,164.36 L507.06,163.25 L507.56,162.1 L508.07,160.91 L508.57,159.67 L509.07,158.4 L509.57,157.08 L510.07,155.72 L510.57,154.33 L511.07,152.91 L511.57,151.46 L512.07,149.99 L512.57,148.49 L513.07,146.98 L513.57,145.45 L514.08,143.91 L514.58,142.37 L515.08,140.83 L515.58,139.3 L516.08,137.78 L516.58,136.27 L517.08,134.78 L517.58,133.31 L518.08,131.88 L518.58,130.48 L519.08,129.13 L519.58,127.81 L520.08,126.55 L520.59,125.34 L521.09,124.19 L521.59,123.1 L522.09,122.07 L522.59,121.11 L523.09,120.23 L523.59,119.41 L524.09,118.67 L524.59,118 L525.09,117.42 L525.59,116.91 L526.09,116.47 L526.6,116.11 L527.1,115.83 L527.6,115.62 L528.1,115.48 L528.6,115.4 L529.1,115.38 L529.6,115.39 L530.1,115.47 L530.6,115.61 L531.1,115.81 L531.6,116.09 L532.1,116.45 L532.6,116.88 L533.11,117.39 L533.61,117.98 L534.11,118.64 L534.61,119.38 L535.11,120.2 L535.61,121.09 L536.11,122.05 L536.61,123.08 L537.11,124.17 L537.61,125.33 L538.11,126.54 L538.61,127.81 L539.12,129.13 L539.62,130.49 L540.12,131.9 L540.62,133.34 L541.12,134.81 L541.62,136.3 L542.12,137.82 L542.62,139.35 L543.12,140.89 L543.62,142.44 L544.12,143.99 L544.62,145.53 L545.12,147.06 L545.63,148.58 L546.13,150.08 L546.63,151.56 L547.13,153.01 L547.63,154.44 L548.13,155.83 L548.63,157.19 L549.13,158.51 L549.63,159.79 L550.13,161.03 L550.63,162.22 L551.13,163.37 L551.64,164.48 L552.14,165.53 L552.64,166.54 L553.14,167.5 L553.64,168.42 L554.14,169.28 L554.64,170.11 L555.14,170.88 L555.64,171.61 L556.14,172.29 L556.64,172.94 L557.14,173.54 L557.64,174.09 L558.15,174.62 L558.65,175.1 L559.15,175.55 L559.65,175.96 L560.15,176.34 L560.65,176.69 L561.15,177.02 L561.65,177.31 L562.15,177.58 L562.65,177.83 L563.15,178.05 L563.65,178.25 L564.16,178.44 L564.66,178.6 L565.16,178.75 L565.66,178.88 L566.16,179.01 L566.66,179.11 L567.16,179.21 L567.66,179.29 L568.16,179.37 L568.66,179.44 L569.16,179.5 L569.66,179.55 L570.16,179.6 L570.67,179.64 L571.17,179.67 L571.67,179.71 L572.17,179.73 L572.67,179.76 L573.17,179.78 L573.67,179.8 L574.17,179.81 L574.67,179.82 L575.17,179.84 L575.67,179.85 L576.17,179.85 L576.68,179.86 L577.18,179.87 L577.68,179.87 L578.18,179.88 L578.68,179.88 L579.18,179.88 L579.68,179.89 L580.18,179.89 L580.68,179.89 L581.18,179.89 L581.68,179.89 L582.18,179.89 L582.68,179.9 L583.19,179.9 L583.69,179.9 L584.19,179.9 L584.69,179.9 L585.19,179.9 L585.69,179.9 L586.19,179.9 L586.69,179.9 L587.19,179.9 L587.69,179.9 L588.19,179.9 L588.69,179.9 L589.2,179.9 L589.7,179.9 L590.2,179.9 L590.7,179.9 L591.2,179.9 L591.7,179.9 L592.2,179.9" stroke="#353a38" stroke-width="1.10"/>
<path d="M467,179.9 L467.5,179.9 L468,179.9 L468.5,179.9 L469,179.9 L469.5,179.9 L470,179.9 L470.51,179.9 L471.01,179.9 L471.51,179.9 L472.01,179.9 L472.51,179.9 L473.01,179.9 L473.51,179.9 L474.01,179.9 L474.51,179.9 L475.01,179.9 L475.51,179.9 L476.01,179.9 L476.52,179.9 L477.02,179.9 L477.52,179.9 L478.02,179.89 L478.52,179.89 L479.02,179.89 L479.52,179.89 L480.02,179.89 L480.52,179.89 L481.02,179.88 L481.52,179.88 L482.02,179.88 L482.52,179.87 L483.03,179.87 L483.53,179.86 L484.03,179.85 L484.53,179.85 L485.03,179.84 L485.53,179.82 L486.03,179.81 L486.53,179.8 L487.03,179.78 L487.53,179.76 L488.03,179.73 L488.53,179.71 L489.04,179.68 L489.54,179.64 L490.04,179.6 L490.54,179.56 L491.04,179.5 L491.54,179.45 L492.04,179.38 L492.54,179.31 L493.04,179.22 L493.54,179.13 L494.04,179.02 L494.54,178.9 L495.04,178.77 L495.55,178.63 L496.05,178.47 L496.55,178.29 L497.05,178.09 L497.55,177.87 L498.05,177.63 L498.55,177.37 L499.05,177.08 L499.55,176.77 L500.05,176.42 L500.55,176.05 L501.05,175.65 L501.56,175.21 L502.06,174.74 L502.56,174.23 L503.06,173.68 L503.56,173.09 L504.06,172.47 L504.56,171.8 L505.06,171.09 L505.56,170.33 L506.06,169.53 L506.56,168.68 L507.06,167.78 L507.56,166.84 L508.07,165.85 L508.57,164.81 L509.07,163.73 L509.57,162.6 L510.07,161.43 L510.57,160.21 L511.07,158.96 L511.57,157.66 L512.07,156.32 L512.57,154.95 L513.07,153.54 L513.57,152.11 L514.08,150.64 L514.58,149.16 L515.08,147.66 L515.58,146.14 L516.08,144.61 L516.58,143.07 L517.08,141.53 L517.58,140 L518.08,138.47 L518.58,136.95 L519.08,135.46 L519.58,133.98 L520.08,132.54 L520.59,131.13 L521.09,129.75 L521.59,128.42 L522.09,127.13 L522.59,125.9 L523.09,124.72 L523.59,123.6 L524.09,122.55 L524.59,121.56 L525.09,120.64 L525.59,119.79 L526.09,119.01 L526.6,118.31 L527.1,117.69 L527.6,117.14 L528.1,116.67 L528.6,116.28 L529.1,115.96 L529.6,115.71 L530.1,115.54 L530.6,115.43 L531.1,115.38 L531.6,115.38 L532.1,115.41 L532.6,115.48 L533.11,115.61 L533.61,115.78 L534.11,116 L534.61,116.28 L535.11,116.61 L535.61,117 L536.11,117.44 L536.61,117.95 L537.11,118.5 L537.61,119.12 L538.11,119.78 L538.61,120.51 L539.12,121.28 L539.62,122.11 L540.12,122.98 L540.62,123.9 L541.12,124.87 L541.62,125.88 L542.12,126.94 L542.62,128.03 L543.12,129.15 L543.62,130.31 L544.12,131.5 L544.62,132.71 L545.12,133.95 L545.63,135.21 L546.13,136.49 L546.63,137.78 L547.13,139.08 L547.63,140.39 L548.13,141.71 L548.63,143.03 L549.13,144.34 L549.63,145.65 L550.13,146.96 L550.63,148.25 L551.13,149.54 L551.64,150.8 L552.14,152.06 L552.64,153.29 L553.14,154.5 L553.64,155.68 L554.14,156.84 L554.64,157.98 L555.14,159.09 L555.64,160.16 L556.14,161.21 L556.64,162.22 L557.14,163.2 L557.64,164.15 L558.15,165.07 L558.65,165.95 L559.15,166.79 L559.65,167.6 L560.15,168.38 L560.65,169.12 L561.15,169.83 L561.65,170.51 L562.15,171.15 L562.65,171.76 L563.15,172.34 L563.65,172.88 L564.16,173.4 L564.66,173.89 L565.16,174.34 L565.66,174.77 L566.16,175.18 L566.66,175.56 L567.16,175.91 L567.66,176.24 L568.16,176.55 L568.66,176.84 L569.16,177.1 L569.66,177.35 L570.16,177.58 L570.67,177.79 L571.17,177.98 L571.67,178.16 L572.17,178.33 L572.67,178.48 L573.17,178.62 L573.67,178.74 L574.17,178.86 L574.67,178.96 L575.17,179.06 L575.67,179.15 L576.17,179.23 L576.68,179.3 L577.18,179.36 L577.68,179.42 L578.18,179.48 L578.68,179.52 L579.18,179.57 L579.68,179.6 L580.18,179.64 L580.68,179.67 L581.18,179.7 L581.68,179.72 L582.18,179.74 L582.68,179.76 L583.19,179.78 L583.69,179.79 L584.19,179.81 L584.69,179.82 L585.19,179.83 L585.69,179.84 L586.19,179.85 L586.69,179.85 L587.19,179.86 L587.69,179.87 L588.19,179.87 L588.69,179.87 L589.2,179.88 L589.7,179.88 L590.2,179.88 L590.7,179.89 L591.2,179.89 L591.7,179.89 L592.2,179.89" stroke="#d03c50" stroke-width="1.10" stroke-dasharray="4.2,1.8,1.2,1.8"/>
</g>
<path d="M487.87,179.9v-2 M487.87,108.6v2 M508.73,179.9v-2 M508.73,108.6v2 M529.6,179.9v-2 M529.6,108.6v2 M550.47,179.9v-2 M550.47,108.6v2 M571.33,179.9v-2 M571.33,108.6v2 M467,115.38h2.2 M592.2,115.38h-2.2" stroke="#2a2a2a" stroke-width="1" fill="none"/>
<rect x="467" y="108.6" width="125.2" height="71.3" fill="none" stroke="#2a2a2a" stroke-width="1.1"/>
<clipPath id="c20"><rect x="9" y="215.5" width="125.2" height="71.3"/></clipPath>
<g clip-path="url(#c20)" fill="none" stroke-linejoin="round">
<path d="M9,286.8 L9.5,286.8 L10,286.8 L10.5,286.8 L11,286.8 L11.5,286.8 L12,286.8 L12.51,286.79 L13.01,286.79 L13.51,286.79 L14.01,286.79 L14.51,286.79 L15.01,286.79 L15.51,286.78 L16.01,286.78 L16.51,286.78 L17.01,286.77 L17.51,286.77 L18.01,286.76 L18.52,286.75 L19.02,286.74 L19.52,286.73 L20.02,286.72 L20.52,286.71 L21.02,286.7 L21.52,286.68 L22.02,286.66 L22.52,286.64 L23.02,286.61 L23.52,286.58 L24.02,286.55 L24.52,286.51 L25.03,286.47 L25.53,286.43 L26.03,286.37 L26.53,286.31 L27.03,286.24 L27.53,286.17 L28.03,286.08 L28.53,285.99 L29.03,285.88 L29.53,285.77 L30.03,285.64 L30.53,285.49 L31.04,285.33 L31.54,285.16 L32.04,284.97 L32.54,284.76 L33.04,284.53 L33.54,284.27 L34.04,284 L34.54,283.7 L35.04,283.37 L35.54,283.02 L36.04,282.64 L36.54,282.23 L37.04,281.78 L37.55,281.31 L38.05,280.8 L38.55,280.25 L39.05,279.67 L39.55,279.04 L40.05,278.38 L40.55,277.68 L41.05,276.94 L41.55,276.15 L42.05,275.32 L42.55,274.45 L43.05,273.54 L43.56,272.58 L44.06,271.58 L44.56,270.53 L45.06,269.45 L45.56,268.32 L46.06,267.15 L46.56,265.95 L47.06,264.7 L47.56,263.43 L48.06,262.11 L48.56,260.77 L49.06,259.4 L49.56,258.01 L50.07,256.59 L50.57,255.15 L51.07,253.7 L51.57,252.23 L52.07,250.76 L52.57,249.29 L53.07,247.81 L53.57,246.34 L54.07,244.88 L54.57,243.43 L55.07,242 L55.57,240.59 L56.08,239.21 L56.58,237.86 L57.08,236.54 L57.58,235.26 L58.08,234.03 L58.58,232.85 L59.08,231.71 L59.58,230.63 L60.08,229.61 L60.58,228.65 L61.08,227.75 L61.58,226.92 L62.08,226.16 L62.59,225.46 L63.09,224.83 L63.59,224.27 L64.09,223.79 L64.59,223.37 L65.09,223.03 L65.59,222.75 L66.09,222.54 L66.59,222.4 L67.09,222.31 L67.59,222.28 L68.09,222.28 L68.6,222.33 L69.1,222.43 L69.6,222.59 L70.1,222.8 L70.6,223.08 L71.1,223.42 L71.6,223.82 L72.1,224.3 L72.6,224.83 L73.1,225.43 L73.6,226.1 L74.1,226.83 L74.6,227.62 L75.11,228.47 L75.61,229.38 L76.11,230.35 L76.61,231.37 L77.11,232.45 L77.61,233.57 L78.11,234.73 L78.61,235.94 L79.11,237.19 L79.61,238.47 L80.11,239.78 L80.61,241.12 L81.12,242.48 L81.62,243.86 L82.12,245.26 L82.62,246.67 L83.12,248.08 L83.62,249.5 L84.12,250.92 L84.62,252.34 L85.12,253.74 L85.62,255.14 L86.12,256.52 L86.62,257.89 L87.12,259.23 L87.63,260.55 L88.13,261.85 L88.63,263.11 L89.13,264.35 L89.63,265.56 L90.13,266.73 L90.63,267.86 L91.13,268.96 L91.63,270.02 L92.13,271.05 L92.63,272.03 L93.13,272.98 L93.64,273.88 L94.14,274.74 L94.64,275.57 L95.14,276.35 L95.64,277.1 L96.14,277.81 L96.64,278.48 L97.14,279.11 L97.64,279.7 L98.14,280.26 L98.64,280.79 L99.14,281.28 L99.64,281.74 L100.15,282.17 L100.65,282.57 L101.15,282.94 L101.65,283.29 L102.15,283.61 L102.65,283.9 L103.15,284.18 L103.65,284.43 L104.15,284.66 L104.65,284.87 L105.15,285.06 L105.65,285.24 L106.16,285.4 L106.66,285.55 L107.16,285.68 L107.66,285.8 L108.16,285.91 L108.66,286.01 L109.16,286.1 L109.66,286.18 L110.16,286.25 L110.66,286.31 L111.16,286.37 L111.66,286.42 L112.16,286.47 L112.67,286.51 L113.17,286.55 L113.67,286.58 L114.17,286.61 L114.67,286.63 L115.17,286.65 L115.67,286.67 L116.17,286.69 L116.67,286.71 L117.17,286.72 L117.67,286.73 L118.17,286.74 L118.68,286.75 L119.18,286.76 L119.68,286.76 L120.18,286.77 L120.68,286.77 L121.18,286.78 L121.68,286.78 L122.18,286.78 L122.68,286.79 L123.18,286.79 L123.68,286.79 L124.18,286.79 L124.68,286.79 L125.19,286.79 L125.69,286.8 L126.19,286.8 L126.69,286.8 L127.19,286.8 L127.69,286.8 L128.19,286.8 L128.69,286.8 L129.19,286.8 L129.69,286.8 L130.19,286.8 L130.69,286.8 L131.2,286.8 L131.7,286.8 L132.2,286.8 L132.7,286.8 L133.2,286.8 L133.7,286.8 L134.2,286.8" stroke="#d03c50" stroke-width="1.10"/>
<path d="M9,286.79 L9.5,286.79 L10,286.79 L10.5,286.79 L11,286.78 L11.5,286.78 L12,286.78 L12.51,286.77 L13.01,286.77 L13.51,286.76 L14.01,286.75 L14.51,286.74 L15.01,286.74 L15.51,286.72 L16.01,286.71 L16.51,286.7 L17.01,286.68 L17.51,286.66 L18.01,286.64 L18.52,286.61 L19.02,286.58 L19.52,286.55 L20.02,286.52 L20.52,286.47 L21.02,286.43 L21.52,286.37 L22.02,286.31 L22.52,286.24 L23.02,286.17 L23.52,286.08 L24.02,285.99 L24.52,285.89 L25.03,285.77 L25.53,285.64 L26.03,285.5 L26.53,285.34 L27.03,285.16 L27.53,284.97 L28.03,284.76 L28.53,284.53 L29.03,284.28 L29.53,284 L30.03,283.7 L30.53,283.38 L31.04,283.03 L31.54,282.65 L32.04,282.23 L32.54,281.79 L33.04,281.31 L33.54,280.8 L34.04,280.26 L34.54,279.67 L35.04,279.05 L35.54,278.39 L36.04,277.69 L36.54,276.95 L37.04,276.16 L37.55,275.33 L38.05,274.46 L38.55,273.55 L39.05,272.59 L39.55,271.59 L40.05,270.55 L40.55,269.46 L41.05,268.34 L41.55,267.17 L42.05,265.97 L42.55,264.72 L43.05,263.45 L43.56,262.13 L44.06,260.79 L44.56,259.42 L45.06,258.03 L45.56,256.61 L46.06,255.17 L46.56,253.72 L47.06,252.25 L47.56,250.78 L48.06,249.31 L48.56,247.83 L49.06,246.36 L49.56,244.9 L50.07,243.45 L50.57,242.02 L51.07,240.61 L51.57,239.23 L52.07,237.87 L52.57,236.56 L53.07,235.28 L53.57,234.05 L54.07,232.86 L54.57,231.73 L55.07,230.65 L55.57,229.63 L56.08,228.67 L56.58,227.77 L57.08,226.93 L57.58,226.17 L58.08,225.47 L58.58,224.84 L59.08,224.28 L59.58,223.8 L60.08,223.38 L60.58,223.03 L61.08,222.76 L61.58,222.55 L62.08,222.4 L62.59,222.31 L63.09,222.28 L63.59,222.28 L64.09,222.33 L64.59,222.43 L65.09,222.58 L65.59,222.79 L66.09,223.06 L66.59,223.4 L67.09,223.79 L67.59,224.26 L68.09,224.78 L68.6,225.38 L69.1,226.03 L69.6,226.75 L70.1,227.53 L70.6,228.37 L71.1,229.26 L71.6,230.22 L72.1,231.23 L72.6,232.28 L73.1,233.39 L73.6,234.54 L74.1,235.73 L74.6,236.96 L75.11,238.23 L75.61,239.53 L76.11,240.85 L76.61,242.2 L77.11,243.57 L77.61,244.95 L78.11,246.35 L78.61,247.75 L79.11,249.16 L79.61,250.57 L80.11,251.97 L80.61,253.37 L81.12,254.76 L81.62,256.14 L82.12,257.5 L82.62,258.84 L83.12,260.16 L83.62,261.45 L84.12,262.72 L84.62,263.96 L85.12,265.16 L85.62,266.34 L86.12,267.48 L86.62,268.58 L87.12,269.65 L87.63,270.68 L88.13,271.67 L88.63,272.62 L89.13,273.54 L89.63,274.41 L90.13,275.24 L90.63,276.04 L91.13,276.8 L91.63,277.51 L92.13,278.19 L92.63,278.84 L93.13,279.44 L93.64,280.02 L94.14,280.55 L94.64,281.06 L95.14,281.53 L95.64,281.97 L96.14,282.38 L96.64,282.76 L97.14,283.12 L97.64,283.45 L98.14,283.75 L98.64,284.04 L99.14,284.3 L99.64,284.54 L100.15,284.76 L100.65,284.96 L101.15,285.14 L101.65,285.31 L102.15,285.47 L102.65,285.61 L103.15,285.73 L103.65,285.85 L104.15,285.95 L104.65,286.05 L105.15,286.13 L105.65,286.21 L106.16,286.28 L106.66,286.34 L107.16,286.39 L107.66,286.44 L108.16,286.48 L108.66,286.52 L109.16,286.56 L109.66,286.59 L110.16,286.62 L110.66,286.64 L111.16,286.66 L111.66,286.68 L112.16,286.69 L112.67,286.71 L113.17,286.72 L113.67,286.73 L114.17,286.74 L114.67,286.75 L115.17,286.76 L115.67,286.76 L116.17,286.77 L116.67,286.77 L117.17,286.78 L117.67,286.78 L118.17,286.78 L118.68,286.79 L119.18,286.79 L119.68,286.79 L120.18,286.79 L120.68,286.79 L121.18,286.79 L121.68,286.8 L122.18,286.8 L122.68,286.8 L123.18,286.8 L123.68,286.8 L124.18,286.8 L124.68,286.8 L125.19,286.8 L125.69,286.8 L126.19,286.8 L126.69,286.8 L127.19,286.8 L127.69,286.8 L128.19,286.8 L128.69,286.8 L129.19,286.8 L129.69,286.8 L130.19,286.8 L130.69,286.8 L131.2,286.8 L131.7,286.8 L132.2,286.8 L132.7,286.8 L133.2,286.8 L133.7,286.8 L134.2,286.8" stroke="#d03c50" stroke-width="1.10" stroke-dasharray="4.2,2.3"/>
<path d="M9,286.79 L9.5,286.79 L10,286.79 L10.5,286.79 L11,286.79 L11.5,286.78 L12,286.78 L12.51,286.78 L13.01,286.77 L13.51,286.77 L14.01,286.76 L14.51,286.76 L15.01,286.75 L15.51,286.74 L16.01,286.73 L16.51,286.72 L17.01,286.71 L17.51,286.69 L18.01,286.67 L18.52,286.65 L19.02,286.63 L19.52,286.6 L20.02,286.57 L20.52,286.54 L21.02,286.5 L21.52,286.46 L22.02,286.41 L22.52,286.35 L23.02,286.29 L23.52,286.22 L24.02,286.14 L24.52,286.05 L25.03,285.96 L25.53,285.85 L26.03,285.73 L26.53,285.59 L27.03,285.44 L27.53,285.28 L28.03,285.1 L28.53,284.9 L29.03,284.68 L29.53,284.44 L30.03,284.18 L30.53,283.9 L31.04,283.59 L31.54,283.25 L32.04,282.89 L32.54,282.5 L33.04,282.07 L33.54,281.62 L34.04,281.13 L34.54,280.6 L35.04,280.04 L35.54,279.44 L36.04,278.8 L36.54,278.12 L37.04,277.4 L37.55,276.64 L38.05,275.84 L38.55,274.99 L39.05,274.1 L39.55,273.17 L40.05,272.19 L40.55,271.17 L41.05,270.11 L41.55,269.01 L42.05,267.86 L42.55,266.68 L43.05,265.45 L43.56,264.19 L44.06,262.9 L44.56,261.57 L45.06,260.21 L45.56,258.83 L46.06,257.42 L46.56,255.99 L47.06,254.54 L47.56,253.08 L48.06,251.61 L48.56,250.13 L49.06,248.66 L49.56,247.18 L50.07,245.71 L50.57,244.25 L51.07,242.8 L51.57,241.38 L52.07,239.98 L52.57,238.61 L53.07,237.27 L53.57,235.97 L54.07,234.71 L54.57,233.49 L55.07,232.33 L55.57,231.22 L56.08,230.16 L56.58,229.17 L57.08,228.23 L57.58,227.36 L58.08,226.56 L58.58,225.82 L59.08,225.16 L59.58,224.56 L60.08,224.04 L60.58,223.58 L61.08,223.2 L61.58,222.89 L62.08,222.64 L62.59,222.46 L63.09,222.35 L63.59,222.29 L64.09,222.28 L64.59,222.3 L65.09,222.38 L65.59,222.51 L66.09,222.7 L66.59,222.95 L67.09,223.27 L67.59,223.65 L68.09,224.1 L68.6,224.62 L69.1,225.21 L69.6,225.86 L70.1,226.58 L70.6,227.36 L71.1,228.21 L71.6,229.11 L72.1,230.08 L72.6,231.1 L73.1,232.18 L73.6,233.3 L74.1,234.48 L74.6,235.7 L75.11,236.95 L75.61,238.25 L76.11,239.57 L76.61,240.93 L77.11,242.31 L77.61,243.71 L78.11,245.12 L78.61,246.55 L79.11,247.99 L79.61,249.42 L80.11,250.86 L80.61,252.3 L81.12,253.73 L81.62,255.14 L82.12,256.55 L82.62,257.93 L83.12,259.29 L83.62,260.63 L84.12,261.95 L84.62,263.23 L85.12,264.48 L85.62,265.7 L86.12,266.88 L86.62,268.03 L87.12,269.14 L87.63,270.21 L88.13,271.24 L88.63,272.23 L89.13,273.18 L89.63,274.09 L90.13,274.96 L90.63,275.78 L91.13,276.57 L91.63,277.31 L92.13,278.02 L92.63,278.69 L93.13,279.31 L93.64,279.91 L94.14,280.46 L94.64,280.98 L95.14,281.47 L95.64,281.92 L96.14,282.35 L96.64,282.74 L97.14,283.1 L97.64,283.44 L98.14,283.76 L98.64,284.04 L99.14,284.31 L99.64,284.55 L100.15,284.78 L100.65,284.98 L101.15,285.17 L101.65,285.34 L102.15,285.49 L102.65,285.63 L103.15,285.76 L103.65,285.87 L104.15,285.98 L104.65,286.07 L105.15,286.15 L105.65,286.23 L106.16,286.3 L106.66,286.36 L107.16,286.41 L107.66,286.46 L108.16,286.5 L108.66,286.54 L109.16,286.57 L109.66,286.6 L110.16,286.63 L110.66,286.65 L111.16,286.67 L111.66,286.69 L112.16,286.7 L112.67,286.72 L113.17,286.73 L113.67,286.74 L114.17,286.75 L114.67,286.76 L115.17,286.76 L115.67,286.77 L116.17,286.77 L116.67,286.78 L117.17,286.78 L117.67,286.78 L118.17,286.79 L118.68,286.79 L119.18,286.79 L119.68,286.79 L120.18,286.79 L120.68,286.79 L121.18,286.8 L121.68,286.8 L122.18,286.8 L122.68,286.8 L123.18,286.8 L123.68,286.8 L124.18,286.8 L124.68,286.8 L125.19,286.8 L125.69,286.8 L126.19,286.8 L126.69,286.8 L127.19,286.8 L127.69,286.8 L128.19,286.8 L128.69,286.8 L129.19,286.8 L129.69,286.8 L130.19,286.8 L130.69,286.8 L131.2,286.8 L131.7,286.8 L132.2,286.8 L132.7,286.8 L133.2,286.8 L133.7,286.8 L134.2,286.8" stroke="#d03c50" stroke-width="1.10" stroke-dasharray="4.2,1.8,1.2,1.8"/>
<path d="M9,286.8 L9.5,286.8 L10,286.79 L10.5,286.79 L11,286.79 L11.5,286.79 L12,286.79 L12.51,286.79 L13.01,286.78 L13.51,286.78 L14.01,286.78 L14.51,286.77 L15.01,286.77 L15.51,286.76 L16.01,286.75 L16.51,286.75 L17.01,286.74 L17.51,286.73 L18.01,286.72 L18.52,286.7 L19.02,286.69 L19.52,286.67 L20.02,286.65 L20.52,286.62 L21.02,286.6 L21.52,286.57 L22.02,286.53 L22.52,286.49 L23.02,286.45 L23.52,286.4 L24.02,286.34 L24.52,286.28 L25.03,286.21 L25.53,286.13 L26.03,286.04 L26.53,285.94 L27.03,285.83 L27.53,285.71 L28.03,285.58 L28.53,285.43 L29.03,285.27 L29.53,285.09 L30.03,284.89 L30.53,284.68 L31.04,284.44 L31.54,284.19 L32.04,283.91 L32.54,283.6 L33.04,283.27 L33.54,282.92 L34.04,282.53 L34.54,282.12 L35.04,281.67 L35.54,281.19 L36.04,280.68 L36.54,280.13 L37.04,279.55 L37.55,278.92 L38.05,278.26 L38.55,277.56 L39.05,276.82 L39.55,276.04 L40.05,275.22 L40.55,274.35 L41.05,273.44 L41.55,272.49 L42.05,271.5 L42.55,270.47 L43.05,269.39 L43.56,268.28 L44.06,267.12 L44.56,265.93 L45.06,264.7 L45.56,263.44 L46.06,262.14 L46.56,260.82 L47.06,259.47 L47.56,258.09 L48.06,256.69 L48.56,255.27 L49.06,253.84 L49.56,252.39 L50.07,250.94 L50.57,249.48 L51.07,248.02 L51.57,246.57 L52.07,245.12 L52.57,243.69 L53.07,242.27 L53.57,240.87 L54.07,239.5 L54.57,238.16 L55.07,236.85 L55.57,235.58 L56.08,234.35 L56.58,233.17 L57.08,232.04 L57.58,230.95 L58.08,229.93 L58.58,228.96 L59.08,228.05 L59.58,227.2 L60.08,226.42 L60.58,225.71 L61.08,225.07 L61.58,224.49 L62.08,223.98 L62.59,223.54 L63.09,223.17 L63.59,222.87 L64.09,222.63 L64.59,222.46 L65.09,222.34 L65.59,222.29 L66.09,222.28 L66.59,222.31 L67.09,222.4 L67.59,222.56 L68.09,222.79 L68.6,223.1 L69.1,223.48 L69.6,223.95 L70.1,224.49 L70.6,225.12 L71.1,225.82 L71.6,226.61 L72.1,227.47 L72.6,228.41 L73.1,229.42 L73.6,230.49 L74.1,231.64 L74.6,232.84 L75.11,234.11 L75.61,235.42 L76.11,236.79 L76.61,238.2 L77.11,239.65 L77.61,241.13 L78.11,242.65 L78.61,244.18 L79.11,245.73 L79.61,247.3 L80.11,248.87 L80.61,250.44 L81.12,252.01 L81.62,253.57 L82.12,255.12 L82.62,256.65 L83.12,258.16 L83.62,259.65 L84.12,261.1 L84.62,262.52 L85.12,263.91 L85.62,265.25 L86.12,266.56 L86.62,267.82 L87.12,269.04 L87.63,270.21 L88.13,271.34 L88.63,272.41 L89.13,273.44 L89.63,274.42 L90.13,275.35 L90.63,276.22 L91.13,277.06 L91.63,277.84 L92.13,278.58 L92.63,279.27 L93.13,279.92 L93.64,280.52 L94.14,281.08 L94.64,281.61 L95.14,282.09 L95.64,282.54 L96.14,282.95 L96.64,283.33 L97.14,283.68 L97.64,284 L98.14,284.29 L98.64,284.56 L99.14,284.8 L99.64,285.02 L100.15,285.22 L100.65,285.4 L101.15,285.56 L101.65,285.71 L102.15,285.84 L102.65,285.96 L103.15,286.06 L103.65,286.15 L104.15,286.23 L104.65,286.31 L105.15,286.37 L105.65,286.43 L106.16,286.48 L106.66,286.52 L107.16,286.56 L107.66,286.59 L108.16,286.62 L108.66,286.65 L109.16,286.67 L109.66,286.69 L110.16,286.71 L110.66,286.72 L111.16,286.73 L111.66,286.74 L112.16,286.75 L112.67,286.76 L113.17,286.77 L113.67,286.77 L114.17,286.78 L114.67,286.78 L115.17,286.78 L115.67,286.79 L116.17,286.79 L116.67,286.79 L117.17,286.79 L117.67,286.79 L118.17,286.79 L118.68,286.8 L119.18,286.8 L119.68,286.8 L120.18,286.8 L120.68,286.8 L121.18,286.8 L121.68,286.8 L122.18,286.8 L122.68,286.8 L123.18,286.8 L123.68,286.8 L124.18,286.8 L124.68,286.8 L125.19,286.8 L125.69,286.8 L126.19,286.8 L126.69,286.8 L127.19,286.8 L127.69,286.8 L128.19,286.8 L128.69,286.8 L129.19,286.8 L129.69,286.8 L130.19,286.8 L130.69,286.8 L131.2,286.8 L131.7,286.8 L132.2,286.8 L132.7,286.8 L133.2,286.8 L133.7,286.8 L134.2,286.8" stroke="#353a38" stroke-width="1.10"/>
</g>
<path d="M26.89,286.8v-2 M26.89,215.5v2 M44.77,286.8v-2 M44.77,215.5v2 M62.66,286.8v-2 M62.66,215.5v2 M80.54,286.8v-2 M80.54,215.5v2 M98.43,286.8v-2 M98.43,215.5v2 M116.31,286.8v-2 M116.31,215.5v2 M9,222.28h2.2 M134.2,222.28h-2.2" stroke="#2a2a2a" stroke-width="1" fill="none"/>
<rect x="9" y="215.5" width="125.2" height="71.3" fill="none" stroke="#2a2a2a" stroke-width="1.1"/>
<clipPath id="c21"><rect x="163" y="215.5" width="125.2" height="71.3"/></clipPath>
<g clip-path="url(#c21)" fill="none" stroke-linejoin="round">
<path d="M163,286.8 L163.5,286.8 L164,286.8 L164.5,286.8 L165,286.8 L165.5,286.8 L166,286.8 L166.51,286.8 L167.01,286.8 L167.51,286.8 L168.01,286.8 L168.51,286.8 L169.01,286.8 L169.51,286.8 L170.01,286.8 L170.51,286.8 L171.01,286.8 L171.51,286.8 L172.01,286.8 L172.52,286.8 L173.02,286.8 L173.52,286.8 L174.02,286.8 L174.52,286.8 L175.02,286.8 L175.52,286.8 L176.02,286.8 L176.52,286.79 L177.02,286.79 L177.52,286.79 L178.02,286.79 L178.52,286.79 L179.03,286.79 L179.53,286.78 L180.03,286.78 L180.53,286.77 L181.03,286.77 L181.53,286.76 L182.03,286.76 L182.53,286.75 L183.03,286.74 L183.53,286.72 L184.03,286.71 L184.53,286.69 L185.04,286.67 L185.54,286.65 L186.04,286.63 L186.54,286.6 L187.04,286.56 L187.54,286.52 L188.04,286.47 L188.54,286.42 L189.04,286.36 L189.54,286.29 L190.04,286.21 L190.54,286.12 L191.04,286.02 L191.55,285.9 L192.05,285.78 L192.55,285.63 L193.05,285.47 L193.55,285.29 L194.05,285.09 L194.55,284.86 L195.05,284.61 L195.55,284.34 L196.05,284.04 L196.55,283.71 L197.05,283.34 L197.56,282.94 L198.06,282.51 L198.56,282.03 L199.06,281.52 L199.56,280.96 L200.06,280.36 L200.56,279.72 L201.06,279.02 L201.56,278.28 L202.06,277.49 L202.56,276.64 L203.06,275.74 L203.56,274.79 L204.07,273.79 L204.57,272.73 L205.07,271.61 L205.57,270.45 L206.07,269.23 L206.57,267.96 L207.07,266.64 L207.57,265.27 L208.07,263.86 L208.57,262.41 L209.07,260.91 L209.57,259.38 L210.08,257.82 L210.58,256.23 L211.08,254.62 L211.58,252.99 L212.08,251.35 L212.58,249.71 L213.08,248.06 L213.58,246.41 L214.08,244.78 L214.58,243.17 L215.08,241.57 L215.58,240.01 L216.08,238.48 L216.59,237 L217.09,235.56 L217.59,234.17 L218.09,232.85 L218.59,231.59 L219.09,230.39 L219.59,229.27 L220.09,228.22 L220.59,227.26 L221.09,226.38 L221.59,225.58 L222.09,224.87 L222.6,224.25 L223.1,223.72 L223.6,223.27 L224.1,222.91 L224.6,222.64 L225.1,222.44 L225.6,222.33 L226.1,222.28 L226.6,222.28 L227.1,222.35 L227.6,222.49 L228.1,222.72 L228.6,223.04 L229.11,223.45 L229.61,223.95 L230.11,224.55 L230.61,225.25 L231.11,226.04 L231.61,226.92 L232.11,227.89 L232.61,228.95 L233.11,230.1 L233.61,231.32 L234.11,232.62 L234.61,233.99 L235.12,235.42 L235.62,236.91 L236.12,238.46 L236.62,240.04 L237.12,241.67 L237.62,243.33 L238.12,245.01 L238.62,246.71 L239.12,248.42 L239.62,250.14 L240.12,251.85 L240.62,253.55 L241.12,255.24 L241.63,256.9 L242.13,258.54 L242.63,260.15 L243.13,261.72 L243.63,263.25 L244.13,264.74 L244.63,266.18 L245.13,267.56 L245.63,268.9 L246.13,270.18 L246.63,271.4 L247.13,272.57 L247.64,273.68 L248.14,274.73 L248.64,275.72 L249.14,276.65 L249.64,277.53 L250.14,278.35 L250.64,279.12 L251.14,279.83 L251.64,280.5 L252.14,281.11 L252.64,281.68 L253.14,282.2 L253.64,282.67 L254.15,283.11 L254.65,283.51 L255.15,283.87 L255.65,284.2 L256.15,284.5 L256.65,284.77 L257.15,285.01 L257.65,285.23 L258.15,285.42 L258.65,285.6 L259.15,285.75 L259.65,285.89 L260.16,286.01 L260.66,286.11 L261.16,286.21 L261.66,286.29 L262.16,286.36 L262.66,286.42 L263.16,286.48 L263.66,286.53 L264.16,286.57 L264.66,286.6 L265.16,286.63 L265.66,286.66 L266.16,286.68 L266.67,286.7 L267.17,286.72 L267.67,286.73 L268.17,286.74 L268.67,286.75 L269.17,286.76 L269.67,286.77 L270.17,286.77 L270.67,286.78 L271.17,286.78 L271.67,286.79 L272.17,286.79 L272.68,286.79 L273.18,286.79 L273.68,286.79 L274.18,286.79 L274.68,286.8 L275.18,286.8 L275.68,286.8 L276.18,286.8 L276.68,286.8 L277.18,286.8 L277.68,286.8 L278.18,286.8 L278.68,286.8 L279.19,286.8 L279.69,286.8 L280.19,286.8 L280.69,286.8 L281.19,286.8 L281.69,286.8 L282.19,286.8 L282.69,286.8 L283.19,286.8 L283.69,286.8 L284.19,286.8 L284.69,286.8 L285.2,286.8 L285.7,286.8 L286.2,286.8 L286.7,286.8 L287.2,286.8 L287.7,286.8 L288.2,286.8" stroke="#d03c50" stroke-width="1.10"/>
<path d="M163,286.8 L163.5,286.8 L164,286.8 L164.5,286.8 L165,286.8 L165.5,286.8 L166,286.8 L166.51,286.8 L167.01,286.8 L167.51,286.8 L168.01,286.8 L168.51,286.8 L169.01,286.8 L169.51,286.8 L170.01,286.8 L170.51,286.79 L171.01,286.79 L171.51,286.79 L172.01,286.79 L172.52,286.79 L173.02,286.79 L173.52,286.78 L174.02,286.78 L174.52,286.77 L175.02,286.77 L175.52,286.76 L176.02,286.76 L176.52,286.75 L177.02,286.74 L177.52,286.73 L178.02,286.72 L178.52,286.71 L179.03,286.69 L179.53,286.67 L180.03,286.65 L180.53,286.63 L181.03,286.6 L181.53,286.57 L182.03,286.53 L182.53,286.49 L183.03,286.44 L183.53,286.39 L184.03,286.33 L184.53,286.27 L185.04,286.19 L185.54,286.11 L186.04,286.01 L186.54,285.91 L187.04,285.79 L187.54,285.66 L188.04,285.52 L188.54,285.36 L189.04,285.18 L189.54,284.99 L190.04,284.77 L190.54,284.54 L191.04,284.28 L191.55,284 L192.05,283.69 L192.55,283.36 L193.05,283 L193.55,282.61 L194.05,282.18 L194.55,281.72 L195.05,281.23 L195.55,280.7 L196.05,280.14 L196.55,279.53 L197.05,278.89 L197.56,278.2 L198.06,277.47 L198.56,276.69 L199.06,275.88 L199.56,275.01 L200.06,274.11 L200.56,273.15 L201.06,272.15 L201.56,271.11 L202.06,270.02 L202.56,268.89 L203.06,267.72 L203.56,266.5 L204.07,265.25 L204.57,263.95 L205.07,262.63 L205.57,261.26 L206.07,259.87 L206.57,258.45 L207.07,257.01 L207.57,255.54 L208.07,254.06 L208.57,252.56 L209.07,251.06 L209.57,249.55 L210.08,248.04 L210.58,246.53 L211.08,245.04 L211.58,243.55 L212.08,242.09 L212.58,240.64 L213.08,239.23 L213.58,237.85 L214.08,236.5 L214.58,235.2 L215.08,233.94 L215.58,232.73 L216.08,231.58 L216.59,230.48 L217.09,229.45 L217.59,228.48 L218.09,227.57 L218.59,226.73 L219.09,225.97 L219.59,225.27 L220.09,224.65 L220.59,224.11 L221.09,223.64 L221.59,223.24 L222.09,222.91 L222.6,222.66 L223.1,222.47 L223.6,222.35 L224.1,222.29 L224.6,222.28 L225.1,222.31 L225.6,222.41 L226.1,222.58 L226.6,222.82 L227.1,223.15 L227.6,223.55 L228.1,224.05 L228.6,224.62 L229.11,225.28 L229.61,226.02 L230.11,226.85 L230.61,227.76 L231.11,228.74 L231.61,229.8 L232.11,230.93 L232.61,232.13 L233.11,233.39 L233.61,234.71 L234.11,236.08 L234.61,237.51 L235.12,238.97 L235.62,240.48 L236.12,242.02 L236.62,243.58 L237.12,245.16 L237.62,246.76 L238.12,248.37 L238.62,249.98 L239.12,251.59 L239.62,253.2 L240.12,254.79 L240.62,256.36 L241.12,257.91 L241.63,259.43 L242.13,260.93 L242.63,262.39 L243.13,263.81 L243.63,265.19 L244.13,266.53 L244.63,267.83 L245.13,269.08 L245.63,270.27 L246.13,271.42 L246.63,272.52 L247.13,273.57 L247.64,274.56 L248.14,275.5 L248.64,276.4 L249.14,277.24 L249.64,278.03 L250.14,278.77 L250.64,279.47 L251.14,280.12 L251.64,280.72 L252.14,281.28 L252.64,281.8 L253.14,282.28 L253.64,282.73 L254.15,283.14 L254.65,283.51 L255.15,283.85 L255.65,284.16 L256.15,284.45 L256.65,284.71 L257.15,284.94 L257.65,285.15 L258.15,285.34 L258.65,285.52 L259.15,285.67 L259.65,285.81 L260.16,285.93 L260.66,286.04 L261.16,286.14 L261.66,286.22 L262.16,286.3 L262.66,286.36 L263.16,286.42 L263.66,286.48 L264.16,286.52 L264.66,286.56 L265.16,286.59 L265.66,286.62 L266.16,286.65 L266.67,286.67 L267.17,286.69 L267.67,286.71 L268.17,286.72 L268.67,286.73 L269.17,286.75 L269.67,286.75 L270.17,286.76 L270.67,286.77 L271.17,286.77 L271.67,286.78 L272.17,286.78 L272.68,286.78 L273.18,286.79 L273.68,286.79 L274.18,286.79 L274.68,286.79 L275.18,286.79 L275.68,286.8 L276.18,286.8 L276.68,286.8 L277.18,286.8 L277.68,286.8 L278.18,286.8 L278.68,286.8 L279.19,286.8 L279.69,286.8 L280.19,286.8 L280.69,286.8 L281.19,286.8 L281.69,286.8 L282.19,286.8 L282.69,286.8 L283.19,286.8 L283.69,286.8 L284.19,286.8 L284.69,286.8 L285.2,286.8 L285.7,286.8 L286.2,286.8 L286.7,286.8 L287.2,286.8 L287.7,286.8 L288.2,286.8" stroke="#d03c50" stroke-width="1.10" stroke-dasharray="4.2,2.3"/>
<path d="M163,286.8 L163.5,286.8 L164,286.8 L164.5,286.8 L165,286.8 L165.5,286.8 L166,286.8 L166.51,286.8 L167.01,286.8 L167.51,286.8 L168.01,286.8 L168.51,286.8 L169.01,286.8 L169.51,286.8 L170.01,286.8 L170.51,286.8 L171.01,286.8 L171.51,286.8 L172.01,286.8 L172.52,286.8 L173.02,286.8 L173.52,286.8 L174.02,286.8 L174.52,286.79 L175.02,286.79 L175.52,286.79 L176.02,286.79 L176.52,286.79 L177.02,286.79 L177.52,286.78 L178.02,286.78 L178.52,286.77 L179.03,286.77 L179.53,286.76 L180.03,286.76 L180.53,286.75 L181.03,286.74 L181.53,286.73 L182.03,286.71 L182.53,286.7 L183.03,286.68 L183.53,286.66 L184.03,286.63 L184.53,286.61 L185.04,286.57 L185.54,286.54 L186.04,286.5 L186.54,286.45 L187.04,286.39 L187.54,286.33 L188.04,286.26 L188.54,286.18 L189.04,286.09 L189.54,285.99 L190.04,285.88 L190.54,285.75 L191.04,285.61 L191.55,285.45 L192.05,285.27 L192.55,285.08 L193.05,284.86 L193.55,284.62 L194.05,284.36 L194.55,284.07 L195.05,283.75 L195.55,283.4 L196.05,283.03 L196.55,282.62 L197.05,282.17 L197.56,281.69 L198.06,281.16 L198.56,280.6 L199.06,280 L199.56,279.35 L200.06,278.66 L200.56,277.92 L201.06,277.13 L201.56,276.3 L202.06,275.41 L202.56,274.48 L203.06,273.49 L203.56,272.46 L204.07,271.38 L204.57,270.24 L205.07,269.06 L205.57,267.83 L206.07,266.56 L206.57,265.24 L207.07,263.88 L207.57,262.48 L208.07,261.04 L208.57,259.57 L209.07,258.07 L209.57,256.55 L210.08,255 L210.58,253.43 L211.08,251.86 L211.58,250.27 L212.08,248.68 L212.58,247.1 L213.08,245.52 L213.58,243.95 L214.08,242.41 L214.58,240.89 L215.08,239.39 L215.58,237.94 L216.08,236.52 L216.59,235.15 L217.09,233.83 L217.59,232.57 L218.09,231.37 L218.59,230.23 L219.09,229.15 L219.59,228.15 L220.09,227.23 L220.59,226.38 L221.09,225.61 L221.59,224.92 L222.09,224.32 L222.6,223.79 L223.1,223.35 L223.6,222.98 L224.1,222.7 L224.6,222.49 L225.1,222.36 L225.6,222.29 L226.1,222.28 L226.6,222.31 L227.1,222.39 L227.6,222.54 L228.1,222.75 L228.6,223.03 L229.11,223.39 L229.61,223.81 L230.11,224.32 L230.61,224.89 L231.11,225.54 L231.61,226.26 L232.11,227.06 L232.61,227.92 L233.11,228.85 L233.61,229.85 L234.11,230.91 L234.61,232.03 L235.12,233.21 L235.62,234.44 L236.12,235.71 L236.62,237.03 L237.12,238.39 L237.62,239.79 L238.12,241.22 L238.62,242.67 L239.12,244.14 L239.62,245.63 L240.12,247.13 L240.62,248.64 L241.12,250.15 L241.63,251.66 L242.13,253.16 L242.63,254.65 L243.13,256.13 L243.63,257.58 L244.13,259.02 L244.63,260.43 L245.13,261.81 L245.63,263.16 L246.13,264.47 L246.63,265.75 L247.13,266.99 L247.64,268.19 L248.14,269.35 L248.64,270.46 L249.14,271.53 L249.64,272.56 L250.14,273.54 L250.64,274.47 L251.14,275.36 L251.64,276.21 L252.14,277.01 L252.64,277.76 L253.14,278.48 L253.64,279.15 L254.15,279.78 L254.65,280.37 L255.15,280.92 L255.65,281.43 L256.15,281.91 L256.65,282.35 L257.15,282.77 L257.65,283.15 L258.15,283.5 L258.65,283.82 L259.15,284.12 L259.65,284.39 L260.16,284.64 L260.66,284.86 L261.16,285.07 L261.66,285.26 L262.16,285.42 L262.66,285.58 L263.16,285.72 L263.66,285.84 L264.16,285.95 L264.66,286.05 L265.16,286.14 L265.66,286.22 L266.16,286.29 L266.67,286.36 L267.17,286.41 L267.67,286.46 L268.17,286.51 L268.67,286.55 L269.17,286.58 L269.67,286.61 L270.17,286.64 L270.67,286.66 L271.17,286.68 L271.67,286.7 L272.17,286.71 L272.68,286.72 L273.18,286.74 L273.68,286.75 L274.18,286.75 L274.68,286.76 L275.18,286.77 L275.68,286.77 L276.18,286.78 L276.68,286.78 L277.18,286.78 L277.68,286.79 L278.18,286.79 L278.68,286.79 L279.19,286.79 L279.69,286.79 L280.19,286.79 L280.69,286.8 L281.19,286.8 L281.69,286.8 L282.19,286.8 L282.69,286.8 L283.19,286.8 L283.69,286.8 L284.19,286.8 L284.69,286.8 L285.2,286.8 L285.7,286.8 L286.2,286.8 L286.7,286.8 L287.2,286.8 L287.7,286.8 L288.2,286.8" stroke="#d03c50" stroke-width="1.10" stroke-dasharray="4.2,1.8,1.2,1.8"/>
<path d="M163,286.8 L163.5,286.8 L164,286.8 L164.5,286.8 L165,286.8 L165.5,286.8 L166,286.8 L166.51,286.8 L167.01,286.8 L167.51,286.8 L168.01,286.8 L168.51,286.8 L169.01,286.8 L169.51,286.8 L170.01,286.8 L170.51,286.8 L171.01,286.8 L171.51,286.8 L172.01,286.8 L172.52,286.8 L173.02,286.8 L173.52,286.8 L174.02,286.8 L174.52,286.8 L175.02,286.8 L175.52,286.8 L176.02,286.8 L176.52,286.79 L177.02,286.79 L177.52,286.79 L178.02,286.79 L178.52,286.79 L179.03,286.79 L179.53,286.78 L180.03,286.78 L180.53,286.77 L181.03,286.77 L181.53,286.76 L182.03,286.75 L182.53,286.75 L183.03,286.74 L183.53,286.72 L184.03,286.71 L184.53,286.69 L185.04,286.67 L185.54,286.65 L186.04,286.62 L186.54,286.59 L187.04,286.55 L187.54,286.51 L188.04,286.46 L188.54,286.4 L189.04,286.34 L189.54,286.27 L190.04,286.18 L190.54,286.09 L191.04,285.98 L191.55,285.86 L192.05,285.72 L192.55,285.57 L193.05,285.4 L193.55,285.21 L194.05,285 L194.55,284.76 L195.05,284.5 L195.55,284.21 L196.05,283.89 L196.55,283.54 L197.05,283.15 L197.56,282.73 L198.06,282.27 L198.56,281.77 L199.06,281.23 L199.56,280.64 L200.06,280.01 L200.56,279.32 L201.06,278.59 L201.56,277.81 L202.06,276.97 L202.56,276.09 L203.06,275.14 L203.56,274.14 L204.07,273.09 L204.57,271.98 L205.07,270.82 L205.57,269.6 L206.07,268.33 L206.57,267.01 L207.07,265.64 L207.57,264.22 L208.07,262.75 L208.57,261.25 L209.07,259.71 L209.57,258.14 L210.08,256.53 L210.58,254.91 L211.08,253.26 L211.58,251.6 L212.08,249.93 L212.58,248.27 L213.08,246.6 L213.58,244.95 L214.08,243.31 L214.58,241.69 L215.08,240.11 L215.58,238.56 L216.08,237.06 L216.59,235.6 L217.09,234.19 L217.59,232.85 L218.09,231.57 L218.59,230.37 L219.09,229.23 L219.59,228.18 L220.09,227.2 L220.59,226.32 L221.09,225.52 L221.59,224.81 L222.09,224.19 L222.6,223.66 L223.1,223.22 L223.6,222.87 L224.1,222.6 L224.6,222.42 L225.1,222.31 L225.6,222.28 L226.1,222.29 L226.6,222.39 L227.1,222.57 L227.6,222.86 L228.1,223.25 L228.6,223.75 L229.11,224.36 L229.61,225.07 L230.11,225.9 L230.61,226.83 L231.11,227.87 L231.61,229.01 L232.11,230.24 L232.61,231.57 L233.11,232.98 L233.61,234.47 L234.11,236.03 L234.61,237.66 L235.12,239.34 L235.62,241.07 L236.12,242.83 L236.62,244.63 L237.12,246.45 L237.62,248.28 L238.12,250.12 L238.62,251.96 L239.12,253.78 L239.62,255.59 L240.12,257.37 L240.62,259.11 L241.12,260.82 L241.63,262.49 L242.13,264.11 L242.63,265.67 L243.13,267.17 L243.63,268.62 L244.13,270 L244.63,271.32 L245.13,272.58 L245.63,273.76 L246.13,274.88 L246.63,275.93 L247.13,276.92 L247.64,277.84 L248.14,278.7 L248.64,279.49 L249.14,280.23 L249.64,280.9 L250.14,281.53 L250.64,282.1 L251.14,282.62 L251.64,283.09 L252.14,283.52 L252.64,283.9 L253.14,284.25 L253.64,284.57 L254.15,284.85 L254.65,285.1 L255.15,285.32 L255.65,285.52 L256.15,285.69 L256.65,285.84 L257.15,285.98 L257.65,286.09 L258.15,286.2 L258.65,286.29 L259.15,286.36 L259.65,286.43 L260.16,286.49 L260.66,286.54 L261.16,286.58 L261.66,286.62 L262.16,286.65 L262.66,286.67 L263.16,286.69 L263.66,286.71 L264.16,286.73 L264.66,286.74 L265.16,286.75 L265.66,286.76 L266.16,286.77 L266.67,286.77 L267.17,286.78 L267.67,286.78 L268.17,286.79 L268.67,286.79 L269.17,286.79 L269.67,286.79 L270.17,286.79 L270.67,286.8 L271.17,286.8 L271.67,286.8 L272.17,286.8 L272.68,286.8 L273.18,286.8 L273.68,286.8 L274.18,286.8 L274.68,286.8 L275.18,286.8 L275.68,286.8 L276.18,286.8 L276.68,286.8 L277.18,286.8 L277.68,286.8 L278.18,286.8 L278.68,286.8 L279.19,286.8 L279.69,286.8 L280.19,286.8 L280.69,286.8 L281.19,286.8 L281.69,286.8 L282.19,286.8 L282.69,286.8 L283.19,286.8 L283.69,286.8 L284.19,286.8 L284.69,286.8 L285.2,286.8 L285.7,286.8 L286.2,286.8 L286.7,286.8 L287.2,286.8 L287.7,286.8 L288.2,286.8" stroke="#353a38" stroke-width="1.10"/>
</g>
<path d="M166.13,286.8v-1.3 M166.13,215.5v1.3 M169.26,286.8v-1.3 M169.26,215.5v1.3 M172.39,286.8v-1.3 M172.39,215.5v1.3 M175.52,286.8v-1.3 M175.52,215.5v1.3 M178.65,286.8v-1.3 M178.65,215.5v1.3 M181.78,286.8v-1.3 M181.78,215.5v1.3 M184.91,286.8v-1.3 M184.91,215.5v1.3 M188.04,286.8v-1.3 M188.04,215.5v1.3 M191.17,286.8v-1.3 M191.17,215.5v1.3 M194.3,286.8v-2.2 M194.3,215.5v2.2 M197.43,286.8v-1.3 M197.43,215.5v1.3 M200.56,286.8v-1.3 M200.56,215.5v1.3 M203.69,286.8v-1.3 M203.69,215.5v1.3 M206.82,286.8v-1.3 M206.82,215.5v1.3 M209.95,286.8v-1.3 M209.95,215.5v1.3 M213.08,286.8v-1.3 M213.08,215.5v1.3 M216.21,286.8v-1.3 M216.21,215.5v1.3 M219.34,286.8v-1.3 M219.34,215.5v1.3 M222.47,286.8v-1.3 M222.47,215.5v1.3 M225.6,286.8v-2.2 M225.6,215.5v2.2 M228.73,286.8v-1.3 M228.73,215.5v1.3 M231.86,286.8v-1.3 M231.86,215.5v1.3 M234.99,286.8v-1.3 M234.99,215.5v1.3 M238.12,286.8v-1.3 M238.12,215.5v1.3 M241.25,286.8v-1.3 M241.25,215.5v1.3 M244.38,286.8v-1.3 M244.38,215.5v1.3 M247.51,286.8v-1.3 M247.51,215.5v1.3 M250.64,286.8v-1.3 M250.64,215.5v1.3 M253.77,286.8v-1.3 M253.77,215.5v1.3 M256.9,286.8v-2.2 M256.9,215.5v2.2 M260.03,286.8v-1.3 M260.03,215.5v1.3 M263.16,286.8v-1.3 M263.16,215.5v1.3 M266.29,286.8v-1.3 M266.29,215.5v1.3 M269.42,286.8v-1.3 M269.42,215.5v1.3 M272.55,286.8v-1.3 M272.55,215.5v1.3 M275.68,286.8v-1.3 M275.68,215.5v1.3 M278.81,286.8v-1.3 M278.81,215.5v1.3 M281.94,286.8v-1.3 M281.94,215.5v1.3 M285.07,286.8v-1.3 M285.07,215.5v1.3 M163,222.28h2.2 M288.2,222.28h-2.2" stroke="#2a2a2a" stroke-width="1" fill="none"/>
<rect x="163" y="215.5" width="125.2" height="71.3" fill="none" stroke="#2a2a2a" stroke-width="1.1"/>
<clipPath id="c22"><rect x="313" y="215.5" width="125" height="71.3"/></clipPath>
<g clip-path="url(#c22)" fill="none" stroke-linejoin="round">
<path d="M313,286.8 L313.5,286.8 L314,286.79 L314.5,286.79 L315,286.79 L315.5,286.79 L316,286.79 L316.5,286.79 L317,286.78 L317.5,286.78 L318,286.78 L318.5,286.77 L319,286.77 L319.5,286.76 L320,286.76 L320.5,286.75 L321,286.74 L321.5,286.73 L322,286.72 L322.5,286.7 L323,286.69 L323.5,286.67 L324,286.65 L324.5,286.63 L325,286.6 L325.5,286.57 L326,286.54 L326.5,286.5 L327,286.46 L327.5,286.41 L328,286.36 L328.5,286.3 L329,286.23 L329.5,286.15 L330,286.07 L330.5,285.98 L331,285.87 L331.5,285.76 L332,285.63 L332.5,285.49 L333,285.33 L333.5,285.16 L334,284.97 L334.5,284.77 L335,284.54 L335.5,284.3 L336,284.03 L336.5,283.74 L337,283.43 L337.5,283.09 L338,282.72 L338.5,282.33 L339,281.9 L339.5,281.45 L340,280.96 L340.5,280.43 L341,279.88 L341.5,279.28 L342,278.65 L342.5,277.98 L343,277.27 L343.5,276.52 L344,275.73 L344.5,274.9 L345,274.03 L345.5,273.12 L346,272.16 L346.5,271.17 L347,270.13 L347.5,269.06 L348,267.94 L348.5,266.79 L349,265.6 L349.5,264.38 L350,263.12 L350.5,261.83 L351,260.52 L351.5,259.17 L352,257.81 L352.5,256.42 L353,255.01 L353.5,253.59 L354,252.16 L354.5,250.72 L355,249.28 L355.5,247.84 L356,246.4 L356.5,244.97 L357,243.55 L357.5,242.15 L358,240.77 L358.5,239.42 L359,238.1 L359.5,236.8 L360,235.55 L360.5,234.33 L361,233.16 L361.5,232.04 L362,230.97 L362.5,229.95 L363,228.99 L363.5,228.09 L364,227.25 L364.5,226.48 L365,225.77 L365.5,225.12 L366,224.54 L366.5,224.03 L367,223.59 L367.5,223.22 L368,222.91 L368.5,222.66 L369,222.48 L369.5,222.36 L370,222.29 L370.5,222.28 L371,222.29 L371.5,222.35 L372,222.46 L372.5,222.62 L373,222.84 L373.5,223.12 L374,223.46 L374.5,223.86 L375,224.33 L375.5,224.85 L376,225.44 L376.5,226.09 L377,226.8 L377.5,227.57 L378,228.4 L378.5,229.28 L379,230.22 L379.5,231.2 L380,232.24 L380.5,233.32 L381,234.45 L381.5,235.62 L382,236.82 L382.5,238.06 L383,239.33 L383.5,240.63 L384,241.95 L384.5,243.29 L385,244.64 L385.5,246.01 L386,247.39 L386.5,248.77 L387,250.15 L387.5,251.53 L388,252.91 L388.5,254.28 L389,255.63 L389.5,256.98 L390,258.3 L390.5,259.6 L391,260.88 L391.5,262.14 L392,263.37 L392.5,264.57 L393,265.74 L393.5,266.88 L394,267.98 L394.5,269.05 L395,270.08 L395.5,271.08 L396,272.03 L396.5,272.96 L397,273.84 L397.5,274.68 L398,275.49 L398.5,276.26 L399,276.99 L399.5,277.69 L400,278.35 L400.5,278.97 L401,279.56 L401.5,280.11 L402,280.63 L402.5,281.12 L403,281.58 L403.5,282.01 L404,282.41 L404.5,282.79 L405,283.14 L405.5,283.46 L406,283.76 L406.5,284.03 L407,284.29 L407.5,284.53 L408,284.74 L408.5,284.94 L409,285.13 L409.5,285.29 L410,285.45 L410.5,285.58 L411,285.71 L411.5,285.83 L412,285.93 L412.5,286.03 L413,286.11 L413.5,286.19 L414,286.26 L414.5,286.32 L415,286.37 L415.5,286.42 L416,286.47 L416.5,286.51 L417,286.54 L417.5,286.58 L418,286.6 L418.5,286.63 L419,286.65 L419.5,286.67 L420,286.69 L420.5,286.7 L421,286.72 L421.5,286.73 L422,286.74 L422.5,286.75 L423,286.75 L423.5,286.76 L424,286.77 L424.5,286.77 L425,286.77 L425.5,286.78 L426,286.78 L426.5,286.78 L427,286.79 L427.5,286.79 L428,286.79 L428.5,286.79 L429,286.79 L429.5,286.79 L430,286.8 L430.5,286.8 L431,286.8 L431.5,286.8 L432,286.8 L432.5,286.8 L433,286.8 L433.5,286.8 L434,286.8 L434.5,286.8 L435,286.8 L435.5,286.8 L436,286.8 L436.5,286.8 L437,286.8 L437.5,286.8 L438,286.8" stroke="#d03c50" stroke-width="1.10"/>
<path d="M313,286.8 L313.5,286.8 L314,286.8 L314.5,286.8 L315,286.8 L315.5,286.8 L316,286.79 L316.5,286.79 L317,286.79 L317.5,286.79 L318,286.79 L318.5,286.79 L319,286.78 L319.5,286.78 L320,286.78 L320.5,286.77 L321,286.77 L321.5,286.76 L322,286.76 L322.5,286.75 L323,286.74 L323.5,286.73 L324,286.72 L324.5,286.71 L325,286.7 L325.5,286.68 L326,286.66 L326.5,286.64 L327,286.62 L327.5,286.59 L328,286.56 L328.5,286.53 L329,286.49 L329.5,286.45 L330,286.4 L330.5,286.35 L331,286.29 L331.5,286.23 L332,286.15 L332.5,286.07 L333,285.98 L333.5,285.88 L334,285.77 L334.5,285.65 L335,285.52 L335.5,285.37 L336,285.21 L336.5,285.03 L337,284.84 L337.5,284.63 L338,284.4 L338.5,284.15 L339,283.88 L339.5,283.59 L340,283.28 L340.5,282.94 L341,282.57 L341.5,282.18 L342,281.76 L342.5,281.31 L343,280.83 L343.5,280.31 L344,279.77 L344.5,279.19 L345,278.57 L345.5,277.92 L346,277.24 L346.5,276.51 L347,275.75 L347.5,274.95 L348,274.11 L348.5,273.24 L349,272.32 L349.5,271.37 L350,270.38 L350.5,269.35 L351,268.29 L351.5,267.19 L352,266.05 L352.5,264.88 L353,263.68 L353.5,262.45 L354,261.19 L354.5,259.91 L355,258.6 L355.5,257.28 L356,255.93 L356.5,254.57 L357,253.19 L357.5,251.81 L358,250.42 L358.5,249.03 L359,247.64 L359.5,246.25 L360,244.87 L360.5,243.5 L361,242.15 L361.5,240.82 L362,239.51 L362.5,238.23 L363,236.98 L363.5,235.76 L364,234.58 L364.5,233.45 L365,232.35 L365.5,231.3 L366,230.3 L366.5,229.35 L367,228.46 L367.5,227.63 L368,226.85 L368.5,226.13 L369,225.47 L369.5,224.88 L370,224.35 L370.5,223.88 L371,223.47 L371.5,223.13 L372,222.85 L372.5,222.62 L373,222.46 L373.5,222.35 L374,222.29 L374.5,222.28 L375,222.3 L375.5,222.36 L376,222.49 L376.5,222.67 L377,222.92 L377.5,223.23 L378,223.61 L378.5,224.06 L379,224.57 L379.5,225.15 L380,225.81 L380.5,226.52 L381,227.3 L381.5,228.15 L382,229.06 L382.5,230.03 L383,231.05 L383.5,232.13 L384,233.26 L384.5,234.44 L385,235.66 L385.5,236.92 L386,238.22 L386.5,239.56 L387,240.92 L387.5,242.3 L388,243.71 L388.5,245.13 L389,246.57 L389.5,248.01 L390,249.46 L390.5,250.9 L391,252.35 L391.5,253.78 L392,255.21 L392.5,256.61 L393,258 L393.5,259.37 L394,260.72 L394.5,262.03 L395,263.32 L395.5,264.58 L396,265.8 L396.5,266.99 L397,268.14 L397.5,269.25 L398,270.32 L398.5,271.35 L399,272.34 L399.5,273.29 L400,274.2 L400.5,275.07 L401,275.89 L401.5,276.68 L402,277.42 L402.5,278.12 L403,278.79 L403.5,279.41 L404,280 L404.5,280.55 L405,281.07 L405.5,281.55 L406,282 L406.5,282.42 L407,282.81 L407.5,283.17 L408,283.51 L408.5,283.82 L409,284.1 L409.5,284.36 L410,284.6 L410.5,284.82 L411,285.03 L411.5,285.21 L412,285.38 L412.5,285.53 L413,285.67 L413.5,285.79 L414,285.9 L414.5,286 L415,286.1 L415.5,286.18 L416,286.25 L416.5,286.32 L417,286.37 L417.5,286.43 L418,286.47 L418.5,286.51 L419,286.55 L419.5,286.58 L420,286.61 L420.5,286.64 L421,286.66 L421.5,286.68 L422,286.69 L422.5,286.71 L423,286.72 L423.5,286.73 L424,286.74 L424.5,286.75 L425,286.76 L425.5,286.76 L426,286.77 L426.5,286.77 L427,286.78 L427.5,286.78 L428,286.78 L428.5,286.79 L429,286.79 L429.5,286.79 L430,286.79 L430.5,286.79 L431,286.79 L431.5,286.8 L432,286.8 L432.5,286.8 L433,286.8 L433.5,286.8 L434,286.8 L434.5,286.8 L435,286.8 L435.5,286.8 L436,286.8 L436.5,286.8 L437,286.8 L437.5,286.8 L438,286.8" stroke="#d03c50" stroke-width="1.10" stroke-dasharray="4.2,2.3"/>
<path d="M313,286.8 L313.5,286.8 L314,286.8 L314.5,286.8 L315,286.8 L315.5,286.8 L316,286.8 L316.5,286.8 L317,286.8 L317.5,286.8 L318,286.79 L318.5,286.79 L319,286.79 L319.5,286.79 L320,286.79 L320.5,286.79 L321,286.79 L321.5,286.78 L322,286.78 L322.5,286.78 L323,286.77 L323.5,286.77 L324,286.76 L324.5,286.75 L325,286.75 L325.5,286.74 L326,286.73 L326.5,286.71 L327,286.7 L327.5,286.68 L328,286.66 L328.5,286.64 L329,286.62 L329.5,286.59 L330,286.56 L330.5,286.53 L331,286.49 L331.5,286.45 L332,286.4 L332.5,286.34 L333,286.28 L333.5,286.21 L334,286.13 L334.5,286.04 L335,285.95 L335.5,285.84 L336,285.72 L336.5,285.59 L337,285.45 L337.5,285.29 L338,285.11 L338.5,284.92 L339,284.71 L339.5,284.48 L340,284.23 L340.5,283.96 L341,283.67 L341.5,283.35 L342,283 L342.5,282.63 L343,282.23 L343.5,281.8 L344,281.34 L344.5,280.84 L345,280.31 L345.5,279.75 L346,279.15 L346.5,278.51 L347,277.84 L347.5,277.12 L348,276.37 L348.5,275.57 L349,274.74 L349.5,273.86 L350,272.94 L350.5,271.99 L351,270.99 L351.5,269.95 L352,268.87 L352.5,267.75 L353,266.6 L353.5,265.41 L354,264.18 L354.5,262.92 L355,261.63 L355.5,260.32 L356,258.97 L356.5,257.61 L357,256.22 L357.5,254.82 L358,253.4 L358.5,251.97 L359,250.54 L359.5,249.1 L360,247.66 L360.5,246.23 L361,244.81 L361.5,243.4 L362,242.01 L362.5,240.63 L363,239.29 L363.5,237.97 L364,236.68 L364.5,235.44 L365,234.23 L365.5,233.07 L366,231.95 L366.5,230.89 L367,229.88 L367.5,228.93 L368,228.03 L368.5,227.2 L369,226.43 L369.5,225.73 L370,225.09 L370.5,224.52 L371,224.01 L371.5,223.57 L372,223.2 L372.5,222.9 L373,222.66 L373.5,222.48 L374,222.36 L374.5,222.29 L375,222.28 L375.5,222.29 L376,222.35 L376.5,222.47 L377,222.64 L377.5,222.87 L378,223.16 L378.5,223.52 L379,223.94 L379.5,224.42 L380,224.97 L380.5,225.58 L381,226.26 L381.5,227 L382,227.8 L382.5,228.66 L383,229.58 L383.5,230.55 L384,231.57 L384.5,232.65 L385,233.77 L385.5,234.93 L386,236.14 L386.5,237.39 L387,238.66 L387.5,239.97 L388,241.3 L388.5,242.66 L389,244.03 L389.5,245.42 L390,246.82 L390.5,248.23 L391,249.64 L391.5,251.04 L392,252.45 L392.5,253.85 L393,255.23 L393.5,256.6 L394,257.96 L394.5,259.29 L395,260.6 L395.5,261.89 L396,263.15 L396.5,264.37 L397,265.57 L397.5,266.73 L398,267.86 L398.5,268.95 L399,270.01 L399.5,271.03 L400,272 L400.5,272.94 L401,273.84 L401.5,274.7 L402,275.52 L402.5,276.31 L403,277.05 L403.5,277.75 L404,278.42 L404.5,279.05 L405,279.65 L405.5,280.21 L406,280.73 L406.5,281.22 L407,281.69 L407.5,282.12 L408,282.52 L408.5,282.89 L409,283.24 L409.5,283.56 L410,283.86 L410.5,284.13 L411,284.38 L411.5,284.62 L412,284.83 L412.5,285.03 L413,285.2 L413.5,285.37 L414,285.52 L414.5,285.65 L415,285.77 L415.5,285.89 L416,285.99 L416.5,286.08 L417,286.16 L417.5,286.23 L418,286.3 L418.5,286.36 L419,286.41 L419.5,286.46 L420,286.5 L420.5,286.54 L421,286.57 L421.5,286.6 L422,286.62 L422.5,286.65 L423,286.67 L423.5,286.68 L424,286.7 L424.5,286.71 L425,286.73 L425.5,286.74 L426,286.75 L426.5,286.75 L427,286.76 L427.5,286.77 L428,286.77 L428.5,286.77 L429,286.78 L429.5,286.78 L430,286.78 L430.5,286.79 L431,286.79 L431.5,286.79 L432,286.79 L432.5,286.79 L433,286.79 L433.5,286.8 L434,286.8 L434.5,286.8 L435,286.8 L435.5,286.8 L436,286.8 L436.5,286.8 L437,286.8 L437.5,286.8 L438,286.8" stroke="#d03c50" stroke-width="1.10" stroke-dasharray="4.2,1.8,1.2,1.8"/>
<path d="M313,286.8 L313.5,286.8 L314,286.8 L314.5,286.8 L315,286.79 L315.5,286.79 L316,286.79 L316.5,286.79 L317,286.79 L317.5,286.79 L318,286.78 L318.5,286.78 L319,286.78 L319.5,286.77 L320,286.77 L320.5,286.76 L321,286.75 L321.5,286.75 L322,286.74 L322.5,286.73 L323,286.71 L323.5,286.7 L324,286.68 L324.5,286.66 L325,286.64 L325.5,286.62 L326,286.59 L326.5,286.56 L327,286.52 L327.5,286.48 L328,286.43 L328.5,286.37 L329,286.31 L329.5,286.24 L330,286.17 L330.5,286.08 L331,285.98 L331.5,285.88 L332,285.76 L332.5,285.62 L333,285.48 L333.5,285.31 L334,285.13 L334.5,284.94 L335,284.72 L335.5,284.48 L336,284.22 L336.5,283.93 L337,283.62 L337.5,283.29 L338,282.92 L338.5,282.52 L339,282.09 L339.5,281.63 L340,281.14 L340.5,280.61 L341,280.04 L341.5,279.43 L342,278.78 L342.5,278.09 L343,277.36 L343.5,276.58 L344,275.76 L344.5,274.9 L345,273.99 L345.5,273.04 L346,272.04 L346.5,271 L347,269.92 L347.5,268.79 L348,267.62 L348.5,266.41 L349,265.16 L349.5,263.87 L350,262.55 L350.5,261.2 L351,259.81 L351.5,258.4 L352,256.96 L352.5,255.51 L353,254.03 L353.5,252.55 L354,251.05 L354.5,249.55 L355,248.05 L355.5,246.56 L356,245.07 L356.5,243.59 L357,242.14 L357.5,240.7 L358,239.3 L358.5,237.92 L359,236.58 L359.5,235.29 L360,234.03 L360.5,232.83 L361,231.68 L361.5,230.58 L362,229.55 L362.5,228.58 L363,227.67 L363.5,226.83 L364,226.06 L364.5,225.36 L365,224.74 L365.5,224.18 L366,223.7 L366.5,223.29 L367,222.96 L367.5,222.7 L368,222.5 L368.5,222.37 L369,222.3 L369.5,222.28 L370,222.3 L370.5,222.37 L371,222.5 L371.5,222.7 L372,222.96 L372.5,223.29 L373,223.7 L373.5,224.18 L374,224.74 L374.5,225.36 L375,226.06 L375.5,226.83 L376,227.67 L376.5,228.58 L377,229.55 L377.5,230.58 L378,231.68 L378.5,232.83 L379,234.03 L379.5,235.29 L380,236.58 L380.5,237.92 L381,239.3 L381.5,240.7 L382,242.14 L382.5,243.59 L383,245.07 L383.5,246.56 L384,248.05 L384.5,249.55 L385,251.05 L385.5,252.55 L386,254.03 L386.5,255.51 L387,256.96 L387.5,258.4 L388,259.81 L388.5,261.2 L389,262.55 L389.5,263.87 L390,265.16 L390.5,266.41 L391,267.62 L391.5,268.79 L392,269.92 L392.5,271 L393,272.04 L393.5,273.04 L394,273.99 L394.5,274.9 L395,275.76 L395.5,276.58 L396,277.36 L396.5,278.09 L397,278.78 L397.5,279.43 L398,280.04 L398.5,280.61 L399,281.14 L399.5,281.63 L400,282.09 L400.5,282.52 L401,282.92 L401.5,283.29 L402,283.62 L402.5,283.93 L403,284.22 L403.5,284.48 L404,284.72 L404.5,284.94 L405,285.13 L405.5,285.31 L406,285.48 L406.5,285.62 L407,285.76 L407.5,285.88 L408,285.98 L408.5,286.08 L409,286.17 L409.5,286.24 L410,286.31 L410.5,286.37 L411,286.43 L411.5,286.48 L412,286.52 L412.5,286.56 L413,286.59 L413.5,286.62 L414,286.64 L414.5,286.66 L415,286.68 L415.5,286.7 L416,286.71 L416.5,286.73 L417,286.74 L417.5,286.75 L418,286.75 L418.5,286.76 L419,286.77 L419.5,286.77 L420,286.78 L420.5,286.78 L421,286.78 L421.5,286.79 L422,286.79 L422.5,286.79 L423,286.79 L423.5,286.79 L424,286.79 L424.5,286.8 L425,286.8 L425.5,286.8 L426,286.8 L426.5,286.8 L427,286.8 L427.5,286.8 L428,286.8 L428.5,286.8 L429,286.8 L429.5,286.8 L430,286.8 L430.5,286.8 L431,286.8 L431.5,286.8 L432,286.8 L432.5,286.8 L433,286.8 L433.5,286.8 L434,286.8 L434.5,286.8 L435,286.8 L435.5,286.8 L436,286.8 L436.5,286.8 L437,286.8 L437.5,286.8 L438,286.8" stroke="#353a38" stroke-width="1.10"/>
</g>
<path d="M330.86,286.8v-2 M330.86,215.5v2 M348.71,286.8v-2 M348.71,215.5v2 M366.57,286.8v-2 M366.57,215.5v2 M384.43,286.8v-2 M384.43,215.5v2 M402.29,286.8v-2 M402.29,215.5v2 M420.14,286.8v-2 M420.14,215.5v2 M313,222.28h2.2 M438,222.28h-2.2" stroke="#2a2a2a" stroke-width="1" fill="none"/>
<rect x="313" y="215.5" width="125" height="71.3" fill="none" stroke="#2a2a2a" stroke-width="1.1"/>
<clipPath id="c23"><rect x="467" y="215.5" width="125.2" height="71.3"/></clipPath>
<g clip-path="url(#c23)" fill="none" stroke-linejoin="round">
<path d="M467,286.8 L467.5,286.8 L468,286.8 L468.5,286.8 L469,286.8 L469.5,286.8 L470,286.8 L470.51,286.8 L471.01,286.8 L471.51,286.8 L472.01,286.8 L472.51,286.8 L473.01,286.8 L473.51,286.8 L474.01,286.8 L474.51,286.8 L475.01,286.8 L475.51,286.8 L476.01,286.8 L476.52,286.8 L477.02,286.8 L477.52,286.8 L478.02,286.8 L478.52,286.8 L479.02,286.8 L479.52,286.8 L480.02,286.8 L480.52,286.8 L481.02,286.8 L481.52,286.8 L482.02,286.8 L482.52,286.8 L483.03,286.8 L483.53,286.79 L484.03,286.79 L484.53,286.79 L485.03,286.79 L485.53,286.79 L486.03,286.79 L486.53,286.79 L487.03,286.78 L487.53,286.78 L488.03,286.78 L488.53,286.77 L489.04,286.77 L489.54,286.76 L490.04,286.75 L490.54,286.75 L491.04,286.74 L491.54,286.73 L492.04,286.72 L492.54,286.7 L493.04,286.69 L493.54,286.67 L494.04,286.65 L494.54,286.63 L495.04,286.6 L495.55,286.57 L496.05,286.54 L496.55,286.5 L497.05,286.46 L497.55,286.41 L498.05,286.35 L498.55,286.29 L499.05,286.23 L499.55,286.15 L500.05,286.07 L500.55,285.97 L501.05,285.87 L501.56,285.75 L502.06,285.63 L502.56,285.49 L503.06,285.33 L503.56,285.16 L504.06,284.98 L504.56,284.77 L505.06,284.55 L505.56,284.31 L506.06,284.04 L506.56,283.75 L507.06,283.44 L507.56,283.11 L508.07,282.74 L508.57,282.35 L509.07,281.93 L509.57,281.48 L510.07,280.99 L510.57,280.48 L511.07,279.92 L511.57,279.34 L512.07,278.71 L512.57,278.05 L513.07,277.35 L513.57,276.61 L514.08,275.83 L514.58,275.01 L515.08,274.15 L515.58,273.24 L516.08,272.3 L516.58,271.32 L517.08,270.29 L517.58,269.23 L518.08,268.13 L518.58,266.99 L519.08,265.81 L519.58,264.6 L520.08,263.36 L520.59,262.08 L521.09,260.78 L521.59,259.45 L522.09,258.09 L522.59,256.72 L523.09,255.32 L523.59,253.91 L524.09,252.49 L524.59,251.06 L525.09,249.63 L525.59,248.2 L526.09,246.77 L526.6,245.34 L527.1,243.93 L527.6,242.53 L528.1,241.16 L528.6,239.8 L529.1,238.48 L529.6,237.18 L530.1,235.92 L530.6,234.7 L531.1,233.52 L531.6,232.39 L532.1,231.31 L532.6,230.28 L533.11,229.31 L533.61,228.39 L534.11,227.54 L534.61,226.74 L535.11,226.01 L535.61,225.35 L536.11,224.75 L536.61,224.22 L537.11,223.75 L537.61,223.35 L538.11,223.02 L538.61,222.75 L539.12,222.55 L539.62,222.4 L540.12,222.32 L540.62,222.28 L541.12,222.28 L541.62,222.33 L542.12,222.43 L542.62,222.6 L543.12,222.83 L543.62,223.14 L544.12,223.51 L544.62,223.96 L545.12,224.47 L545.63,225.07 L546.13,225.73 L546.63,226.47 L547.13,227.28 L547.63,228.15 L548.13,229.09 L548.63,230.1 L549.13,231.16 L549.63,232.29 L550.13,233.47 L550.63,234.69 L551.13,235.97 L551.64,237.29 L552.14,238.65 L552.64,240.04 L553.14,241.46 L553.64,242.9 L554.14,244.37 L554.64,245.85 L555.14,247.34 L555.64,248.83 L556.14,250.33 L556.64,251.83 L557.14,253.32 L557.64,254.8 L558.15,256.26 L558.65,257.7 L559.15,259.13 L559.65,260.52 L560.15,261.89 L560.65,263.23 L561.15,264.53 L561.65,265.8 L562.15,267.03 L562.65,268.22 L563.15,269.36 L563.65,270.47 L564.16,271.53 L564.66,272.55 L565.16,273.52 L565.66,274.45 L566.16,275.33 L566.66,276.17 L567.16,276.97 L567.66,277.72 L568.16,278.43 L568.66,279.1 L569.16,279.73 L569.66,280.32 L570.16,280.87 L570.67,281.38 L571.17,281.86 L571.67,282.31 L572.17,282.72 L572.67,283.1 L573.17,283.45 L573.67,283.77 L574.17,284.07 L574.67,284.35 L575.17,284.6 L575.67,284.82 L576.17,285.03 L576.68,285.22 L577.18,285.39 L577.68,285.55 L578.18,285.69 L578.68,285.81 L579.18,285.93 L579.68,286.03 L580.18,286.12 L580.68,286.2 L581.18,286.28 L581.68,286.34 L582.18,286.4 L582.68,286.45 L583.19,286.5 L583.69,286.54 L584.19,286.57 L584.69,286.6 L585.19,286.63 L585.69,286.65 L586.19,286.67 L586.69,286.69 L587.19,286.71 L587.69,286.72 L588.19,286.73 L588.69,286.74 L589.2,286.75 L589.7,286.76 L590.2,286.76 L590.7,286.77 L591.2,286.77 L591.7,286.78 L592.2,286.78" stroke="#d03c50" stroke-width="1.10"/>
<path d="M467,286.8 L467.5,286.8 L468,286.79 L468.5,286.79 L469,286.79 L469.5,286.79 L470,286.79 L470.51,286.79 L471.01,286.79 L471.51,286.78 L472.01,286.78 L472.51,286.78 L473.01,286.78 L473.51,286.77 L474.01,286.77 L474.51,286.76 L475.01,286.76 L475.51,286.75 L476.01,286.74 L476.52,286.74 L477.02,286.73 L477.52,286.72 L478.02,286.71 L478.52,286.69 L479.02,286.68 L479.52,286.66 L480.02,286.64 L480.52,286.62 L481.02,286.6 L481.52,286.58 L482.02,286.55 L482.52,286.52 L483.03,286.49 L483.53,286.45 L484.03,286.41 L484.53,286.36 L485.03,286.31 L485.53,286.26 L486.03,286.2 L486.53,286.13 L487.03,286.06 L487.53,285.98 L488.03,285.89 L488.53,285.79 L489.04,285.69 L489.54,285.57 L490.04,285.45 L490.54,285.32 L491.04,285.17 L491.54,285.02 L492.04,284.85 L492.54,284.66 L493.04,284.47 L493.54,284.26 L494.04,284.03 L494.54,283.78 L495.04,283.52 L495.55,283.24 L496.05,282.94 L496.55,282.62 L497.05,282.28 L497.55,281.92 L498.05,281.54 L498.55,281.13 L499.05,280.7 L499.55,280.25 L500.05,279.77 L500.55,279.26 L501.05,278.72 L501.56,278.16 L502.06,277.57 L502.56,276.96 L503.06,276.31 L503.56,275.63 L504.06,274.93 L504.56,274.19 L505.06,273.43 L505.56,272.64 L506.06,271.81 L506.56,270.96 L507.06,270.08 L507.56,269.17 L508.07,268.23 L508.57,267.26 L509.07,266.27 L509.57,265.25 L510.07,264.21 L510.57,263.14 L511.07,262.05 L511.57,260.94 L512.07,259.81 L512.57,258.66 L513.07,257.5 L513.57,256.32 L514.08,255.13 L514.58,253.93 L515.08,252.72 L515.58,251.5 L516.08,250.28 L516.58,249.06 L517.08,247.83 L517.58,246.62 L518.08,245.4 L518.58,244.2 L519.08,243 L519.58,241.82 L520.08,240.66 L520.59,239.51 L521.09,238.38 L521.59,237.28 L522.09,236.2 L522.59,235.15 L523.09,234.13 L523.59,233.14 L524.09,232.19 L524.59,231.27 L525.09,230.39 L525.59,229.55 L526.09,228.76 L526.6,228 L527.1,227.29 L527.6,226.63 L528.1,226.01 L528.6,225.44 L529.1,224.92 L529.6,224.44 L530.1,224.02 L530.6,223.64 L531.1,223.31 L531.6,223.03 L532.1,222.8 L532.6,222.61 L533.11,222.47 L533.61,222.36 L534.11,222.3 L534.61,222.28 L535.11,222.28 L535.61,222.33 L536.11,222.45 L536.61,222.63 L537.11,222.88 L537.61,223.21 L538.11,223.61 L538.61,224.1 L539.12,224.66 L539.62,225.3 L540.12,226.01 L540.62,226.81 L541.12,227.67 L541.62,228.61 L542.12,229.62 L542.62,230.7 L543.12,231.84 L543.62,233.03 L544.12,234.29 L544.62,235.6 L545.12,236.95 L545.63,238.34 L546.13,239.78 L546.63,241.24 L547.13,242.74 L547.63,244.25 L548.13,245.78 L548.63,247.32 L549.13,248.87 L549.63,250.43 L550.13,251.97 L550.63,253.52 L551.13,255.04 L551.64,256.55 L552.14,258.05 L552.64,259.51 L553.14,260.95 L553.64,262.35 L554.14,263.73 L554.64,265.06 L555.14,266.35 L555.64,267.61 L556.14,268.82 L556.64,269.98 L557.14,271.1 L557.64,272.17 L558.15,273.2 L558.65,274.17 L559.15,275.1 L559.65,275.98 L560.15,276.82 L560.65,277.6 L561.15,278.34 L561.65,279.04 L562.15,279.69 L562.65,280.31 L563.15,280.88 L563.65,281.41 L564.16,281.9 L564.66,282.36 L565.16,282.78 L565.66,283.17 L566.16,283.53 L566.66,283.85 L567.16,284.16 L567.66,284.43 L568.16,284.68 L568.66,284.91 L569.16,285.12 L569.66,285.3 L570.16,285.47 L570.67,285.63 L571.17,285.76 L571.67,285.89 L572.17,286 L572.67,286.09 L573.17,286.18 L573.67,286.26 L574.17,286.33 L574.67,286.39 L575.17,286.44 L575.67,286.49 L576.17,286.53 L576.68,286.57 L577.18,286.6 L577.68,286.63 L578.18,286.65 L578.68,286.67 L579.18,286.69 L579.68,286.71 L580.18,286.72 L580.68,286.73 L581.18,286.74 L581.68,286.75 L582.18,286.76 L582.68,286.77 L583.19,286.77 L583.69,286.78 L584.19,286.78 L584.69,286.78 L585.19,286.79 L585.69,286.79 L586.19,286.79 L586.69,286.79 L587.19,286.79 L587.69,286.79 L588.19,286.8 L588.69,286.8 L589.2,286.8 L589.7,286.8 L590.2,286.8 L590.7,286.8 L591.2,286.8 L591.7,286.8 L592.2,286.8" stroke="#d03c50" stroke-width="1.10" stroke-dasharray="4.2,2.3"/>
<path d="M467,286.8 L467.5,286.8 L468,286.8 L468.5,286.8 L469,286.8 L469.5,286.8 L470,286.8 L470.51,286.8 L471.01,286.8 L471.51,286.8 L472.01,286.8 L472.51,286.8 L473.01,286.8 L473.51,286.8 L474.01,286.8 L474.51,286.8 L475.01,286.8 L475.51,286.8 L476.01,286.8 L476.52,286.8 L477.02,286.8 L477.52,286.8 L478.02,286.8 L478.52,286.8 L479.02,286.8 L479.52,286.8 L480.02,286.8 L480.52,286.8 L481.02,286.8 L481.52,286.8 L482.02,286.8 L482.52,286.8 L483.03,286.8 L483.53,286.8 L484.03,286.8 L484.53,286.79 L485.03,286.79 L485.53,286.79 L486.03,286.79 L486.53,286.79 L487.03,286.79 L487.53,286.78 L488.03,286.78 L488.53,286.78 L489.04,286.77 L489.54,286.77 L490.04,286.76 L490.54,286.76 L491.04,286.75 L491.54,286.74 L492.04,286.73 L492.54,286.72 L493.04,286.71 L493.54,286.7 L494.04,286.68 L494.54,286.66 L495.04,286.64 L495.55,286.62 L496.05,286.6 L496.55,286.57 L497.05,286.53 L497.55,286.5 L498.05,286.45 L498.55,286.41 L499.05,286.35 L499.55,286.3 L500.05,286.23 L500.55,286.16 L501.05,286.08 L501.56,285.99 L502.06,285.89 L502.56,285.78 L503.06,285.66 L503.56,285.52 L504.06,285.38 L504.56,285.22 L505.06,285.04 L505.56,284.85 L506.06,284.64 L506.56,284.41 L507.06,284.16 L507.56,283.9 L508.07,283.61 L508.57,283.29 L509.07,282.95 L509.57,282.59 L510.07,282.2 L510.57,281.78 L511.07,281.33 L511.57,280.85 L512.07,280.33 L512.57,279.79 L513.07,279.21 L513.57,278.59 L514.08,277.94 L514.58,277.26 L515.08,276.53 L515.58,275.77 L516.08,274.97 L516.58,274.13 L517.08,273.26 L517.58,272.34 L518.08,271.39 L518.58,270.39 L519.08,269.36 L519.58,268.3 L520.08,267.2 L520.59,266.06 L521.09,264.89 L521.59,263.69 L522.09,262.46 L522.59,261.2 L523.09,259.91 L523.59,258.6 L524.09,257.27 L524.59,255.92 L525.09,254.56 L525.59,253.18 L526.09,251.8 L526.6,250.4 L527.1,249.01 L527.6,247.62 L528.1,246.23 L528.6,244.85 L529.1,243.48 L529.6,242.13 L530.1,240.79 L530.6,239.48 L531.1,238.2 L531.6,236.95 L532.1,235.73 L532.6,234.55 L533.11,233.41 L533.61,232.31 L534.11,231.27 L534.61,230.27 L535.11,229.32 L535.61,228.43 L536.11,227.59 L536.61,226.82 L537.11,226.1 L537.61,225.44 L538.11,224.85 L538.61,224.32 L539.12,223.86 L539.62,223.45 L540.12,223.11 L540.62,222.83 L541.12,222.61 L541.62,222.45 L542.12,222.34 L542.62,222.29 L543.12,222.28 L543.62,222.3 L544.12,222.38 L544.62,222.52 L545.12,222.73 L545.63,223.01 L546.13,223.36 L546.63,223.78 L547.13,224.28 L547.63,224.85 L548.13,225.5 L548.63,226.22 L549.13,227.01 L549.63,227.88 L550.13,228.81 L550.63,229.81 L551.13,230.87 L551.64,231.99 L552.14,233.17 L552.64,234.4 L553.14,235.68 L553.64,237 L554.14,238.37 L554.64,239.77 L555.14,241.2 L555.64,242.65 L556.14,244.13 L556.64,245.63 L557.14,247.13 L557.64,248.65 L558.15,250.16 L558.65,251.68 L559.15,253.18 L559.65,254.68 L560.15,256.16 L560.65,257.62 L561.15,259.06 L561.65,260.47 L562.15,261.86 L562.65,263.21 L563.15,264.53 L563.65,265.81 L564.16,267.05 L564.66,268.25 L565.16,269.41 L565.66,270.53 L566.16,271.6 L566.66,272.62 L567.16,273.6 L567.66,274.54 L568.16,275.43 L568.66,276.27 L569.16,277.07 L569.66,277.83 L570.16,278.54 L570.67,279.21 L571.17,279.84 L571.67,280.43 L572.17,280.97 L572.67,281.49 L573.17,281.96 L573.67,282.4 L574.17,282.81 L574.67,283.19 L575.17,283.54 L575.67,283.86 L576.17,284.15 L576.68,284.42 L577.18,284.67 L577.68,284.89 L578.18,285.1 L578.68,285.28 L579.18,285.45 L579.68,285.6 L580.18,285.74 L580.68,285.86 L581.18,285.97 L581.68,286.07 L582.18,286.16 L582.68,286.24 L583.19,286.31 L583.69,286.37 L584.19,286.42 L584.69,286.47 L585.19,286.52 L585.69,286.55 L586.19,286.59 L586.69,286.62 L587.19,286.64 L587.69,286.66 L588.19,286.68 L588.69,286.7 L589.2,286.71 L589.7,286.73 L590.2,286.74 L590.7,286.75 L591.2,286.76 L591.7,286.76 L592.2,286.77" stroke="#d03c50" stroke-width="1.10" stroke-dasharray="4.2,1.8,1.2,1.8"/>
<path d="M467,286.8 L467.5,286.8 L468,286.8 L468.5,286.8 L469,286.8 L469.5,286.8 L470,286.8 L470.51,286.8 L471.01,286.8 L471.51,286.8 L472.01,286.8 L472.51,286.8 L473.01,286.8 L473.51,286.8 L474.01,286.8 L474.51,286.8 L475.01,286.8 L475.51,286.8 L476.01,286.8 L476.52,286.8 L477.02,286.8 L477.52,286.8 L478.02,286.8 L478.52,286.8 L479.02,286.8 L479.52,286.8 L480.02,286.8 L480.52,286.8 L481.02,286.8 L481.52,286.8 L482.02,286.8 L482.52,286.8 L483.03,286.8 L483.53,286.79 L484.03,286.79 L484.53,286.79 L485.03,286.79 L485.53,286.79 L486.03,286.79 L486.53,286.78 L487.03,286.78 L487.53,286.78 L488.03,286.77 L488.53,286.77 L489.04,286.76 L489.54,286.75 L490.04,286.75 L490.54,286.74 L491.04,286.72 L491.54,286.71 L492.04,286.7 L492.54,286.68 L493.04,286.66 L493.54,286.64 L494.04,286.61 L494.54,286.58 L495.04,286.55 L495.55,286.51 L496.05,286.47 L496.55,286.42 L497.05,286.36 L497.55,286.3 L498.05,286.23 L498.55,286.15 L499.05,286.06 L499.55,285.96 L500.05,285.85 L500.55,285.72 L501.05,285.59 L501.56,285.43 L502.06,285.27 L502.56,285.08 L503.06,284.88 L503.56,284.65 L504.06,284.41 L504.56,284.14 L505.06,283.84 L505.56,283.52 L506.06,283.18 L506.56,282.8 L507.06,282.39 L507.56,281.95 L508.07,281.48 L508.57,280.97 L509.07,280.42 L509.57,279.83 L510.07,279.21 L510.57,278.54 L511.07,277.84 L511.57,277.09 L512.07,276.29 L512.57,275.45 L513.07,274.57 L513.57,273.64 L514.08,272.67 L514.58,271.65 L515.08,270.59 L515.58,269.48 L516.08,268.33 L516.58,267.14 L517.08,265.91 L517.58,264.64 L518.08,263.33 L518.58,261.99 L519.08,260.62 L519.58,259.21 L520.08,257.78 L520.59,256.33 L521.09,254.86 L521.59,253.38 L522.09,251.88 L522.59,250.38 L523.09,248.87 L523.59,247.36 L524.09,245.86 L524.59,244.37 L525.09,242.9 L525.59,241.45 L526.09,240.02 L526.6,238.62 L527.1,237.26 L527.6,235.93 L528.1,234.65 L528.6,233.42 L529.1,232.24 L529.6,231.11 L530.1,230.04 L530.6,229.03 L531.1,228.09 L531.6,227.21 L532.1,226.41 L532.6,225.67 L533.11,225.01 L533.61,224.42 L534.11,223.91 L534.61,223.47 L535.11,223.1 L535.61,222.8 L536.11,222.57 L536.61,222.41 L537.11,222.32 L537.61,222.28 L538.11,222.28 L538.61,222.34 L539.12,222.47 L539.62,222.68 L540.12,222.97 L540.62,223.35 L541.12,223.81 L541.62,224.36 L542.12,225 L542.62,225.73 L543.12,226.54 L543.62,227.44 L544.12,228.43 L544.62,229.49 L545.12,230.62 L545.63,231.83 L546.13,233.11 L546.63,234.45 L547.13,235.85 L547.63,237.3 L548.13,238.79 L548.63,240.33 L549.13,241.9 L549.63,243.5 L550.13,245.12 L550.63,246.76 L551.13,248.4 L551.64,250.05 L552.14,251.7 L552.64,253.34 L553.14,254.97 L553.64,256.57 L554.14,258.16 L554.64,259.71 L555.14,261.24 L555.64,262.72 L556.14,264.17 L556.64,265.57 L557.14,266.93 L557.64,268.24 L558.15,269.5 L558.65,270.71 L559.15,271.87 L559.65,272.97 L560.15,274.02 L560.65,275.01 L561.15,275.95 L561.65,276.84 L562.15,277.67 L562.65,278.45 L563.15,279.19 L563.65,279.87 L564.16,280.51 L564.66,281.1 L565.16,281.64 L565.66,282.15 L566.16,282.61 L566.66,283.04 L567.16,283.43 L567.66,283.79 L568.16,284.11 L568.66,284.41 L569.16,284.68 L569.66,284.92 L570.16,285.14 L570.67,285.33 L571.17,285.51 L571.67,285.67 L572.17,285.81 L572.67,285.93 L573.17,286.04 L573.67,286.14 L574.17,286.23 L574.67,286.31 L575.17,286.37 L575.67,286.43 L576.17,286.49 L576.68,286.53 L577.18,286.57 L577.68,286.6 L578.18,286.63 L578.68,286.66 L579.18,286.68 L579.68,286.7 L580.18,286.71 L580.68,286.73 L581.18,286.74 L581.68,286.75 L582.18,286.76 L582.68,286.76 L583.19,286.77 L583.69,286.78 L584.19,286.78 L584.69,286.78 L585.19,286.79 L585.69,286.79 L586.19,286.79 L586.69,286.79 L587.19,286.79 L587.69,286.8 L588.19,286.8 L588.69,286.8 L589.2,286.8 L589.7,286.8 L590.2,286.8 L590.7,286.8 L591.2,286.8 L591.7,286.8 L592.2,286.8" stroke="#353a38" stroke-width="1.10"/>
</g>
<path d="M484.89,286.8v-2 M484.89,215.5v2 M502.77,286.8v-2 M502.77,215.5v2 M520.66,286.8v-2 M520.66,215.5v2 M538.54,286.8v-2 M538.54,215.5v2 M556.43,286.8v-2 M556.43,215.5v2 M574.31,286.8v-2 M574.31,215.5v2 M467,222.28h2.2 M592.2,222.28h-2.2" stroke="#2a2a2a" stroke-width="1" fill="none"/>
<rect x="467" y="215.5" width="125.2" height="71.3" fill="none" stroke="#2a2a2a" stroke-width="1.1"/>
<path d="M199.8,10.7H212.2" fill="none" stroke="#353a38" stroke-width="1.10"/>
<path d="M199.8,18.2H212.2" fill="none" stroke="#d03c50" stroke-width="1.10" stroke-dasharray="4.8,2.0"/>
<path d="M199.8,26.1H212.2" fill="none" stroke="#d03c50" stroke-width="1.10" stroke-dasharray="4.6,1.8,1.3,1.8"/>
<path d="M199.8,33.6H212.2" fill="none" stroke="#c65c64" stroke-width="1.7"/>
<path d="M503.2,10.5H516.2" fill="none" stroke="#353a38" stroke-width="1.10"/>
<path d="M503.2,18.2H516.2" fill="none" stroke="#d03c50" stroke-width="1.10" stroke-dasharray="4.8,2.0"/>
<path d="M503.2,26.1H516.2" fill="none" stroke="#d03c50" stroke-width="1.10" stroke-dasharray="4.6,1.8,1.3,1.8"/>
<path d="M503.2,33.5H516.2" fill="none" stroke="#c65c64" stroke-width="1.7"/>
<g class="t">
<text x="1.40" y="73.30" font-size="7.2">0</text>
<text x="1.99" y="82.40" font-size="7.2">0.00</text>
<text x="33.29" y="82.40" font-size="7.2">0.05</text>
<text x="64.59" y="82.40" font-size="7.2">0.</text>
<text x="74.60" y="82.40" font-size="7.2">0</text>
<text x="95.89" y="82.40" font-size="7.2">0.</text>
<text x="105.90" y="82.40" font-size="7.2">5</text>
<text x="127.19" y="82.40" font-size="7.2">0.20</text>
<text x="155.40" y="73.30" font-size="7.2">0</text>
<text x="161.00" y="82.40" font-size="7.2">0</text>
<text x="192.30" y="82.40" font-size="7.2">5</text>
<text x="225.60" y="82.40" font-size="7.2">0</text>
<text x="256.90" y="82.40" font-size="7.2">5</text>
<text x="284.20" y="82.40" font-size="7.2">20</text>
<text x="305.40" y="73.30" font-size="7.2">0</text>
<text x="305.99" y="82.40" font-size="7.2">0.00</text>
<text x="337.24" y="82.40" font-size="7.2">0.05</text>
<text x="368.49" y="82.40" font-size="7.2">0.</text>
<text x="378.50" y="82.40" font-size="7.2">0</text>
<text x="399.74" y="82.40" font-size="7.2">0.</text>
<text x="409.75" y="82.40" font-size="7.2">5</text>
<text x="430.99" y="82.40" font-size="7.2">0.20</text>
<text x="459.40" y="73.30" font-size="7.2">0</text>
<text x="465.00" y="82.40" font-size="7.2">0</text>
<text x="496.30" y="82.40" font-size="7.2">5</text>
<text x="529.60" y="82.40" font-size="7.2">0</text>
<text x="560.90" y="82.40" font-size="7.2">5</text>
<text x="588.20" y="82.40" font-size="7.2">20</text>
<text x="1.40" y="180.40" font-size="7.2">0</text>
<text x="-0.01" y="188.30" font-size="7.2">0.020</text>
<text x="41.72" y="188.30" font-size="7.2">0.022</text>
<text x="83.46" y="188.30" font-size="7.2">0.024</text>
<text x="125.19" y="188.30" font-size="7.2">0.026</text>
<text x="155.40" y="180.40" font-size="7.2">0</text>
<text x="155.99" y="188.30" font-size="7.2">0.08</text>
<text x="176.86" y="188.30" font-size="7.2">0.09</text>
<text x="197.73" y="188.30" font-size="7.2">0.</text>
<text x="207.74" y="188.30" font-size="7.2">0</text>
<text x="218.59" y="188.30" font-size="7.2">0.</text>
<text x="239.46" y="188.30" font-size="7.2">0.</text>
<text x="249.47" y="188.30" font-size="7.2">2</text>
<text x="260.33" y="188.30" font-size="7.2">0.</text>
<text x="270.34" y="188.30" font-size="7.2">3</text>
<text x="281.19" y="188.30" font-size="7.2">0.</text>
<text x="291.20" y="188.30" font-size="7.2">4</text>
<text x="305.40" y="180.40" font-size="7.2">0</text>
<text x="303.99" y="188.30" font-size="7.2">0.020</text>
<text x="345.66" y="188.30" font-size="7.2">0.022</text>
<text x="387.32" y="188.30" font-size="7.2">0.024</text>
<text x="428.99" y="188.30" font-size="7.2">0.026</text>
<text x="459.40" y="180.40" font-size="7.2">0</text>
<text x="459.99" y="188.30" font-size="7.2">0.08</text>
<text x="480.86" y="188.30" font-size="7.2">0.09</text>
<text x="501.73" y="188.30" font-size="7.2">0.</text>
<text x="511.74" y="188.30" font-size="7.2">0</text>
<text x="522.59" y="188.30" font-size="7.2">0.</text>
<text x="543.46" y="188.30" font-size="7.2">0.</text>
<text x="553.47" y="188.30" font-size="7.2">2</text>
<text x="564.33" y="188.30" font-size="7.2">0.</text>
<text x="574.34" y="188.30" font-size="7.2">3</text>
<text x="585.19" y="188.30" font-size="7.2">0.</text>
<text x="595.20" y="188.30" font-size="7.2">4</text>
<text x="1.40" y="287.30" font-size="7.2">0</text>
<text x="1.99" y="296.00" font-size="7.2">0.90</text>
<text x="37.76" y="296.00" font-size="7.2">0.94</text>
<text x="73.54" y="296.00" font-size="7.2">0.98</text>
<text x="113.31" y="296.00" font-size="7.2">.02</text>
<text x="155.40" y="287.30" font-size="7.2">0</text>
<text x="158.00" y="296.00" font-size="7.2">0.6</text>
<text x="189.30" y="296.00" font-size="7.2">0.7</text>
<text x="220.60" y="296.00" font-size="7.2">0.8</text>
<text x="251.90" y="296.00" font-size="7.2">0.9</text>
<text x="287.20" y="296.00" font-size="7.2">.0</text>
<text x="305.40" y="287.30" font-size="7.2">0</text>
<text x="305.99" y="296.00" font-size="7.2">0.90</text>
<text x="341.71" y="296.00" font-size="7.2">0.94</text>
<text x="377.42" y="296.00" font-size="7.2">0.98</text>
<text x="417.14" y="296.00" font-size="7.2">.02</text>
<text x="459.40" y="287.30" font-size="7.2">0</text>
<text x="459.99" y="296.00" font-size="7.2">0.60</text>
<text x="495.76" y="296.00" font-size="7.2">0.70</text>
<text x="531.54" y="296.00" font-size="7.2">0.80</text>
<text x="567.31" y="296.00" font-size="7.2">0.90</text>
<text transform="translate(69.93,92.37) scale(1.027,1)" font-size="8.36" style="stroke-width:0.4px;">τ</text>
<text transform="translate(63.00,198.75) scale(1.017,1)" font-size="8.46" style="stroke-width:0.15px;font-family:'Liberation Serif',serif;">Ω</text>
<text transform="translate(69.63,201.51) scale(1.063,1)" font-size="4.60" style="stroke-width:0.1px;">b</text>
<text transform="translate(72.71,198.75) scale(1.031,1)" font-size="7.59" style="stroke-width:0.3px;">h</text>
<text transform="translate(77.22,195.85) scale(0.975,1)" font-size="4.73" style="stroke-width:0.2px;">2</text>
<text transform="translate(67.64,305.75) scale(1.149,1)" font-size="7.99" style="stroke-width:0.4px;">n</text>
<text transform="translate(72.93,308.70) scale(0.908,1)" font-size="4.80" style="stroke-width:0.1px;">s</text>
<text transform="translate(373.83,92.37) scale(1.027,1)" font-size="8.36" style="stroke-width:0.4px;">τ</text>
<text transform="translate(366.90,198.75) scale(1.017,1)" font-size="8.46" style="stroke-width:0.15px;font-family:'Liberation Serif',serif;">Ω</text>
<text transform="translate(373.53,201.51) scale(1.063,1)" font-size="4.60" style="stroke-width:0.1px;">b</text>
<text transform="translate(376.61,198.75) scale(1.031,1)" font-size="7.59" style="stroke-width:0.3px;">h</text>
<text transform="translate(381.12,195.85) scale(0.975,1)" font-size="4.73" style="stroke-width:0.2px;">2</text>
<text transform="translate(371.54,305.75) scale(1.149,1)" font-size="7.99" style="stroke-width:0.4px;">n</text>
<text transform="translate(376.83,308.70) scale(0.908,1)" font-size="4.80" style="stroke-width:0.1px;">s</text>
<text transform="translate(217.68,91.75) scale(1.060,1)" font-size="8.52" style="stroke-width:0.4px;">z</text>
<text transform="translate(222.12,93.50) scale(0.965,1)" font-size="5.20" style="stroke-width:0.08px;">reion</text>
<text transform="translate(216.97,198.75) scale(1.091,1)" font-size="8.46" style="stroke-width:0.15px;font-family:'Liberation Serif',serif;">Ω</text>
<text transform="translate(223.97,201.51) scale(0.908,1)" font-size="4.60" style="stroke-width:0.1px;">c</text>
<text transform="translate(226.69,198.75) scale(1.025,1)" font-size="7.87" style="stroke-width:0.3px;">h</text>
<text transform="translate(231.64,195.85) scale(0.882,1)" font-size="4.73" style="stroke-width:0.2px;">2</text>
<text transform="translate(221.49,305.96) scale(0.941,1)" font-size="9.11" style="stroke-width:0.4px;">σ</text>
<text transform="translate(227.15,308.70) scale(0.977,1)" font-size="4.80" style="stroke-width:0.1px;">8</text>
<text transform="translate(521.68,91.75) scale(1.060,1)" font-size="8.52" style="stroke-width:0.4px;">z</text>
<text transform="translate(526.12,93.50) scale(0.965,1)" font-size="5.20" style="stroke-width:0.08px;">reion</text>
<text transform="translate(520.97,198.75) scale(1.091,1)" font-size="8.46" style="stroke-width:0.15px;font-family:'Liberation Serif',serif;">Ω</text>
<text transform="translate(527.97,201.51) scale(0.908,1)" font-size="4.60" style="stroke-width:0.1px;">c</text>
<text transform="translate(530.69,198.75) scale(1.025,1)" font-size="7.87" style="stroke-width:0.3px;">h</text>
<text transform="translate(535.64,195.85) scale(0.882,1)" font-size="4.73" style="stroke-width:0.2px;">2</text>
<text transform="translate(525.49,305.96) scale(0.941,1)" font-size="9.11" style="stroke-width:0.4px;">σ</text>
<text transform="translate(531.15,308.70) scale(0.977,1)" font-size="4.80" style="stroke-width:0.1px;">8</text>
<text transform="translate(198.4,12.7) scale(0.9,1)" text-anchor="end" font-size="6.9">KaQV (T)</text>
<text transform="translate(198.4,20.2) scale(0.9,1)" text-anchor="end" font-size="6.9">QV (T)</text>
<text transform="translate(198.4,28.1) scale(0.9,1)" text-anchor="end" font-size="6.9">KaQVW (T)</text>
<text transform="translate(198.4,35.6) scale(0.9,1)" text-anchor="end" font-size="6.9">KKaQV (G)</text>
<text transform="translate(502.2,12.5) scale(0.9,1)" text-anchor="end" font-size="6.9">Fiducial</text>
<text transform="translate(502.2,20.2) scale(0.9,1)" text-anchor="end" font-size="6.9">80% mask</text>
<text transform="translate(502.2,28.1) scale(0.9,1)" text-anchor="end" font-size="6.9">Lower ptsrc</text>
<text transform="translate(502.2,35.5) scale(0.9,1)" text-anchor="end" font-size="6.9">No SZ</text>
</g>
<g class="t" fill="#2b2b2b" stroke="#2b2b2b"><path transform="translate(1.40,10.48) scale(7.2)" stroke-width="0.0347" d="M0.300,0L0.395,0L0.395,-0.712L0.318,-0.712C0.296,-0.635 0.215,-0.575 0.105,-0.560L0.105,-0.492C0.195,-0.502 0.262,-0.532 0.300,-0.585Z"/>
<path transform="translate(70.60,82.40) scale(7.2)" stroke-width="0.0347" d="M0.300,0L0.395,0L0.395,-0.712L0.318,-0.712C0.296,-0.635 0.215,-0.575 0.105,-0.560L0.105,-0.492C0.195,-0.502 0.262,-0.532 0.300,-0.585Z"/>
<path transform="translate(101.90,82.40) scale(7.2)" stroke-width="0.0347" d="M0.300,0L0.395,0L0.395,-0.712L0.318,-0.712C0.296,-0.635 0.215,-0.575 0.105,-0.560L0.105,-0.492C0.195,-0.502 0.262,-0.532 0.300,-0.585Z"/>
<path transform="translate(155.40,10.48) scale(7.2)" stroke-width="0.0347" d="M0.300,0L0.395,0L0.395,-0.712L0.318,-0.712C0.296,-0.635 0.215,-0.575 0.105,-0.560L0.105,-0.492C0.195,-0.502 0.262,-0.532 0.300,-0.585Z"/>
<path transform="translate(221.60,82.40) scale(7.2)" stroke-width="0.0347" d="M0.300,0L0.395,0L0.395,-0.712L0.318,-0.712C0.296,-0.635 0.215,-0.575 0.105,-0.560L0.105,-0.492C0.195,-0.502 0.262,-0.532 0.300,-0.585Z"/>
<path transform="translate(252.90,82.40) scale(7.2)" stroke-width="0.0347" d="M0.300,0L0.395,0L0.395,-0.712L0.318,-0.712C0.296,-0.635 0.215,-0.575 0.105,-0.560L0.105,-0.492C0.195,-0.502 0.262,-0.532 0.300,-0.585Z"/>
<path transform="translate(305.40,10.48) scale(7.2)" stroke-width="0.0347" d="M0.300,0L0.395,0L0.395,-0.712L0.318,-0.712C0.296,-0.635 0.215,-0.575 0.105,-0.560L0.105,-0.492C0.195,-0.502 0.262,-0.532 0.300,-0.585Z"/>
<path transform="translate(374.50,82.40) scale(7.2)" stroke-width="0.0347" d="M0.300,0L0.395,0L0.395,-0.712L0.318,-0.712C0.296,-0.635 0.215,-0.575 0.105,-0.560L0.105,-0.492C0.195,-0.502 0.262,-0.532 0.300,-0.585Z"/>
<path transform="translate(405.75,82.40) scale(7.2)" stroke-width="0.0347" d="M0.300,0L0.395,0L0.395,-0.712L0.318,-0.712C0.296,-0.635 0.215,-0.575 0.105,-0.560L0.105,-0.492C0.195,-0.502 0.262,-0.532 0.300,-0.585Z"/>
<path transform="translate(459.40,10.48) scale(7.2)" stroke-width="0.0347" d="M0.300,0L0.395,0L0.395,-0.712L0.318,-0.712C0.296,-0.635 0.215,-0.575 0.105,-0.560L0.105,-0.492C0.195,-0.502 0.262,-0.532 0.300,-0.585Z"/>
<path transform="translate(525.60,82.40) scale(7.2)" stroke-width="0.0347" d="M0.300,0L0.395,0L0.395,-0.712L0.318,-0.712C0.296,-0.635 0.215,-0.575 0.105,-0.560L0.105,-0.492C0.195,-0.502 0.262,-0.532 0.300,-0.585Z"/>
<path transform="translate(556.90,82.40) scale(7.2)" stroke-width="0.0347" d="M0.300,0L0.395,0L0.395,-0.712L0.318,-0.712C0.296,-0.635 0.215,-0.575 0.105,-0.560L0.105,-0.492C0.195,-0.502 0.262,-0.532 0.300,-0.585Z"/>
<path transform="translate(1.40,117.58) scale(7.2)" stroke-width="0.0347" d="M0.300,0L0.395,0L0.395,-0.712L0.318,-0.712C0.296,-0.635 0.215,-0.575 0.105,-0.560L0.105,-0.492C0.195,-0.502 0.262,-0.532 0.300,-0.585Z"/>
<path transform="translate(155.40,117.58) scale(7.2)" stroke-width="0.0347" d="M0.300,0L0.395,0L0.395,-0.712L0.318,-0.712C0.296,-0.635 0.215,-0.575 0.105,-0.560L0.105,-0.492C0.195,-0.502 0.262,-0.532 0.300,-0.585Z"/>
<path transform="translate(203.73,188.30) scale(7.2)" stroke-width="0.0347" d="M0.300,0L0.395,0L0.395,-0.712L0.318,-0.712C0.296,-0.635 0.215,-0.575 0.105,-0.560L0.105,-0.492C0.195,-0.502 0.262,-0.532 0.300,-0.585Z"/>
<path transform="translate(224.60,188.30) scale(7.2)" stroke-width="0.0347" d="M0.300,0L0.395,0L0.395,-0.712L0.318,-0.712C0.296,-0.635 0.215,-0.575 0.105,-0.560L0.105,-0.492C0.195,-0.502 0.262,-0.532 0.300,-0.585Z"/>
<path transform="translate(228.60,188.30) scale(7.2)" stroke-width="0.0347" d="M0.300,0L0.395,0L0.395,-0.712L0.318,-0.712C0.296,-0.635 0.215,-0.575 0.105,-0.560L0.105,-0.492C0.195,-0.502 0.262,-0.532 0.300,-0.585Z"/>
<path transform="translate(245.46,188.30) scale(7.2)" stroke-width="0.0347" d="M0.300,0L0.395,0L0.395,-0.712L0.318,-0.712C0.296,-0.635 0.215,-0.575 0.105,-0.560L0.105,-0.492C0.195,-0.502 0.262,-0.532 0.300,-0.585Z"/>
<path transform="translate(266.33,188.30) scale(7.2)" stroke-width="0.0347" d="M0.300,0L0.395,0L0.395,-0.712L0.318,-0.712C0.296,-0.635 0.215,-0.575 0.105,-0.560L0.105,-0.492C0.195,-0.502 0.262,-0.532 0.300,-0.585Z"/>
<path transform="translate(287.20,188.30) scale(7.2)" stroke-width="0.0347" d="M0.300,0L0.395,0L0.395,-0.712L0.318,-0.712C0.296,-0.635 0.215,-0.575 0.105,-0.560L0.105,-0.492C0.195,-0.502 0.262,-0.532 0.300,-0.585Z"/>
<path transform="translate(305.40,117.58) scale(7.2)" stroke-width="0.0347" d="M0.300,0L0.395,0L0.395,-0.712L0.318,-0.712C0.296,-0.635 0.215,-0.575 0.105,-0.560L0.105,-0.492C0.195,-0.502 0.262,-0.532 0.300,-0.585Z"/>
<path transform="translate(459.40,117.58) scale(7.2)" stroke-width="0.0347" d="M0.300,0L0.395,0L0.395,-0.712L0.318,-0.712C0.296,-0.635 0.215,-0.575 0.105,-0.560L0.105,-0.492C0.195,-0.502 0.262,-0.532 0.300,-0.585Z"/>
<path transform="translate(507.73,188.30) scale(7.2)" stroke-width="0.0347" d="M0.300,0L0.395,0L0.395,-0.712L0.318,-0.712C0.296,-0.635 0.215,-0.575 0.105,-0.560L0.105,-0.492C0.195,-0.502 0.262,-0.532 0.300,-0.585Z"/>
<path transform="translate(528.60,188.30) scale(7.2)" stroke-width="0.0347" d="M0.300,0L0.395,0L0.395,-0.712L0.318,-0.712C0.296,-0.635 0.215,-0.575 0.105,-0.560L0.105,-0.492C0.195,-0.502 0.262,-0.532 0.300,-0.585Z"/>
<path transform="translate(532.60,188.30) scale(7.2)" stroke-width="0.0347" d="M0.300,0L0.395,0L0.395,-0.712L0.318,-0.712C0.296,-0.635 0.215,-0.575 0.105,-0.560L0.105,-0.492C0.195,-0.502 0.262,-0.532 0.300,-0.585Z"/>
<path transform="translate(549.46,188.30) scale(7.2)" stroke-width="0.0347" d="M0.300,0L0.395,0L0.395,-0.712L0.318,-0.712C0.296,-0.635 0.215,-0.575 0.105,-0.560L0.105,-0.492C0.195,-0.502 0.262,-0.532 0.300,-0.585Z"/>
<path transform="translate(570.33,188.30) scale(7.2)" stroke-width="0.0347" d="M0.300,0L0.395,0L0.395,-0.712L0.318,-0.712C0.296,-0.635 0.215,-0.575 0.105,-0.560L0.105,-0.492C0.195,-0.502 0.262,-0.532 0.300,-0.585Z"/>
<path transform="translate(591.20,188.30) scale(7.2)" stroke-width="0.0347" d="M0.300,0L0.395,0L0.395,-0.712L0.318,-0.712C0.296,-0.635 0.215,-0.575 0.105,-0.560L0.105,-0.492C0.195,-0.502 0.262,-0.532 0.300,-0.585Z"/>
<path transform="translate(1.40,224.48) scale(7.2)" stroke-width="0.0347" d="M0.300,0L0.395,0L0.395,-0.712L0.318,-0.712C0.296,-0.635 0.215,-0.575 0.105,-0.560L0.105,-0.492C0.195,-0.502 0.262,-0.532 0.300,-0.585Z"/>
<path transform="translate(109.31,296.00) scale(7.2)" stroke-width="0.0347" d="M0.300,0L0.395,0L0.395,-0.712L0.318,-0.712C0.296,-0.635 0.215,-0.575 0.105,-0.560L0.105,-0.492C0.195,-0.502 0.262,-0.532 0.300,-0.585Z"/>
<path transform="translate(155.40,224.48) scale(7.2)" stroke-width="0.0347" d="M0.300,0L0.395,0L0.395,-0.712L0.318,-0.712C0.296,-0.635 0.215,-0.575 0.105,-0.560L0.105,-0.492C0.195,-0.502 0.262,-0.532 0.300,-0.585Z"/>
<path transform="translate(283.20,296.00) scale(7.2)" stroke-width="0.0347" d="M0.300,0L0.395,0L0.395,-0.712L0.318,-0.712C0.296,-0.635 0.215,-0.575 0.105,-0.560L0.105,-0.492C0.195,-0.502 0.262,-0.532 0.300,-0.585Z"/>
<path transform="translate(305.40,224.48) scale(7.2)" stroke-width="0.0347" d="M0.300,0L0.395,0L0.395,-0.712L0.318,-0.712C0.296,-0.635 0.215,-0.575 0.105,-0.560L0.105,-0.492C0.195,-0.502 0.262,-0.532 0.300,-0.585Z"/>
<path transform="translate(413.14,296.00) scale(7.2)" stroke-width="0.0347" d="M0.300,0L0.395,0L0.395,-0.712L0.318,-0.712C0.296,-0.635 0.215,-0.575 0.105,-0.560L0.105,-0.492C0.195,-0.502 0.262,-0.532 0.300,-0.585Z"/>
<path transform="translate(459.40,224.48) scale(7.2)" stroke-width="0.0347" d="M0.300,0L0.395,0L0.395,-0.712L0.318,-0.712C0.296,-0.635 0.215,-0.575 0.105,-0.560L0.105,-0.492C0.195,-0.502 0.262,-0.532 0.300,-0.585Z"/></g>
</svg>
</body></html>
